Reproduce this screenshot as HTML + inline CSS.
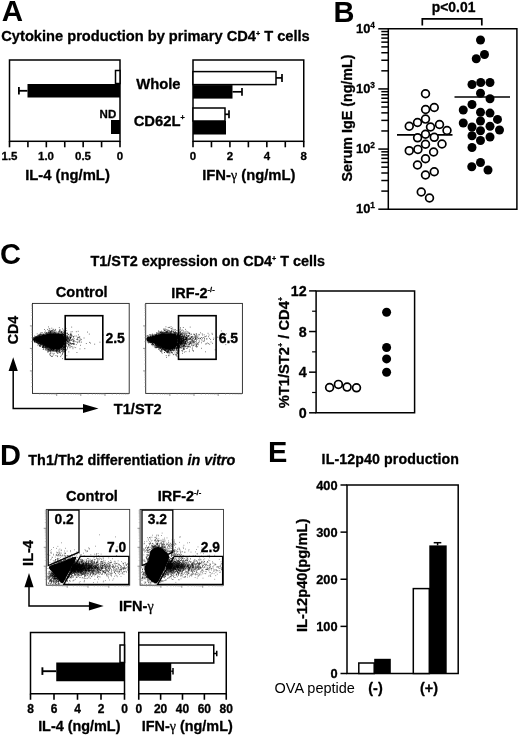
<!DOCTYPE html>
<html><head><meta charset="utf-8"><title>Figure</title>
<style>html,body{margin:0;padding:0;background:#fff}svg{display:block}text{font-family:"Liberation Sans",Arial,sans-serif;fill:#000;stroke:#000;stroke-width:.3px;stroke-linejoin:round}text.n{stroke:none}</style></head>
<body>
<svg width="520" height="738" viewBox="0 0 520 738">
<rect width="520" height="738" fill="#fff"/>
<text x="1.7" y="21.2" font-size="29.5" font-weight="bold" text-anchor="start" class="n">A</text>
<text x="1.3" y="41.3" font-size="14.65" font-weight="bold" text-anchor="start" >Cytokine production by primary CD4<tspan font-size="7.2" dy="-5.6">+</tspan><tspan dy="5.6" font-size="1">&#8203;</tspan><tspan> T cells</tspan></text>
<rect x="9.5" y="60" width="110.5" height="81.30000000000001" fill="none" stroke="#000" stroke-width="1.5"/>
<line x1="9.5" y1="141.3" x2="9.5" y2="147.3" stroke="#000" stroke-width="1.6" stroke-linecap="butt"/>
<line x1="27.916666666666668" y1="141.3" x2="27.916666666666668" y2="147.3" stroke="#000" stroke-width="1.6" stroke-linecap="butt"/>
<line x1="46.333333333333336" y1="141.3" x2="46.333333333333336" y2="147.3" stroke="#000" stroke-width="1.6" stroke-linecap="butt"/>
<line x1="64.75" y1="141.3" x2="64.75" y2="147.3" stroke="#000" stroke-width="1.6" stroke-linecap="butt"/>
<line x1="83.16666666666667" y1="141.3" x2="83.16666666666667" y2="147.3" stroke="#000" stroke-width="1.6" stroke-linecap="butt"/>
<line x1="101.58333333333333" y1="141.3" x2="101.58333333333333" y2="147.3" stroke="#000" stroke-width="1.6" stroke-linecap="butt"/>
<line x1="120.0" y1="141.3" x2="120.0" y2="147.3" stroke="#000" stroke-width="1.6" stroke-linecap="butt"/>
<rect x="115.5" y="70.5" width="4.5" height="13" fill="#fff" stroke="#000" stroke-width="1.5"/>
<rect x="27.5" y="84" width="92.5" height="13.5" fill="#000" stroke="#000" stroke-width="0"/>
<line x1="18.7" y1="90.8" x2="27.5" y2="90.8" stroke="#000" stroke-width="1.8" stroke-linecap="butt"/>
<line x1="18.9" y1="87" x2="18.9" y2="94.6" stroke="#000" stroke-width="1.8" stroke-linecap="butt"/>
<rect x="111" y="120" width="9" height="14" fill="#000" stroke="#000" stroke-width="0"/>
<text x="99.6" y="117.6" font-size="11.5" font-weight="bold" text-anchor="start" >ND</text>
<text x="9.5" y="160" font-size="11.5" font-weight="bold" text-anchor="middle" >1.5</text>
<text x="46" y="160" font-size="11.5" font-weight="bold" text-anchor="middle" >1.0</text>
<text x="83" y="160" font-size="11.5" font-weight="bold" text-anchor="middle" >0.5</text>
<text x="120" y="160" font-size="11.5" font-weight="bold" text-anchor="middle" >0</text>
<text x="67.5" y="180" font-size="14.8" font-weight="bold" text-anchor="middle" >IL-4 (ng/mL)</text>
<text x="136.2" y="88.8" font-size="14.8" font-weight="bold" text-anchor="start" >Whole</text>
<text x="133.7" y="125.5" font-size="14.8" font-weight="bold" text-anchor="start" >CD62L<tspan font-size="7.2" dy="-5.6">+</tspan><tspan dy="5.6" font-size="1">&#8203;</tspan></text>
<rect x="193" y="60" width="110.75" height="81.30000000000001" fill="none" stroke="#000" stroke-width="1.5"/>
<line x1="193.0" y1="141.3" x2="193.0" y2="147.3" stroke="#000" stroke-width="1.6" stroke-linecap="butt"/>
<line x1="211.45833333333334" y1="141.3" x2="211.45833333333334" y2="147.3" stroke="#000" stroke-width="1.6" stroke-linecap="butt"/>
<line x1="229.91666666666666" y1="141.3" x2="229.91666666666666" y2="147.3" stroke="#000" stroke-width="1.6" stroke-linecap="butt"/>
<line x1="248.375" y1="141.3" x2="248.375" y2="147.3" stroke="#000" stroke-width="1.6" stroke-linecap="butt"/>
<line x1="266.8333333333333" y1="141.3" x2="266.8333333333333" y2="147.3" stroke="#000" stroke-width="1.6" stroke-linecap="butt"/>
<line x1="285.2916666666667" y1="141.3" x2="285.2916666666667" y2="147.3" stroke="#000" stroke-width="1.6" stroke-linecap="butt"/>
<line x1="303.75" y1="141.3" x2="303.75" y2="147.3" stroke="#000" stroke-width="1.6" stroke-linecap="butt"/>
<rect x="193" y="71.6" width="83" height="13" fill="#fff" stroke="#000" stroke-width="1.5"/>
<line x1="276" y1="77.9" x2="282" y2="77.9" stroke="#000" stroke-width="1.7" stroke-linecap="butt"/>
<line x1="282" y1="73.9" x2="282" y2="81.9" stroke="#000" stroke-width="1.7" stroke-linecap="butt"/>
<rect x="193" y="85.1" width="39.5" height="13.5" fill="#000" stroke="#000" stroke-width="0"/>
<line x1="232.5" y1="91.8" x2="242" y2="91.8" stroke="#000" stroke-width="1.7" stroke-linecap="butt"/>
<line x1="242" y1="88" x2="242" y2="95.7" stroke="#000" stroke-width="1.7" stroke-linecap="butt"/>
<rect x="193" y="108" width="32" height="13" fill="#fff" stroke="#000" stroke-width="1.5"/>
<line x1="225" y1="114.3" x2="229" y2="114.3" stroke="#000" stroke-width="1.7" stroke-linecap="butt"/>
<line x1="229" y1="110.2" x2="229" y2="118.3" stroke="#000" stroke-width="1.7" stroke-linecap="butt"/>
<rect x="193" y="121" width="33" height="13.5" fill="#000" stroke="#000" stroke-width="0"/>
<text x="193" y="160" font-size="11.5" font-weight="bold" text-anchor="middle" >0</text>
<text x="230" y="160" font-size="11.5" font-weight="bold" text-anchor="middle" >2</text>
<text x="267" y="160" font-size="11.5" font-weight="bold" text-anchor="middle" >4</text>
<text x="303.75" y="160" font-size="11.5" font-weight="bold" text-anchor="middle" >8</text>
<text x="248.8" y="180" font-size="14.8" font-weight="bold" text-anchor="middle" >IFN-<tspan font-weight="normal" font-family="Liberation Serif, serif" font-size="14">γ</tspan> (ng/mL)</text>
<text x="333.5" y="21.8" font-size="29" font-weight="bold" text-anchor="start" class="n">B</text>
<text x="453.6" y="11.8" font-size="13.9" font-weight="bold" text-anchor="middle" >p&lt;0.01</text>
<path d="M422.3 25.6V18.8H481.8V25.6" fill="none" stroke="#000" stroke-width="1.7"/>
<path d="M388.3 28.8H516.9V209.2H388.3Z" fill="none" stroke="#000" stroke-width="1.5"/>
<line x1="378.3" y1="28.8" x2="388.3" y2="28.8" stroke="#000" stroke-width="1.5" stroke-linecap="butt"/>
<text x="356" y="32.6" font-size="12.9" font-weight="bold" text-anchor="start" >10<tspan font-size="8.3" dy="-4.8">4</tspan><tspan dy="4.8" font-size="1">&#8203;</tspan></text>
<line x1="381.3" y1="70.83139626073925" x2="388.3" y2="70.83139626073925" stroke="#000" stroke-width="1.5" stroke-linecap="butt"/>
<line x1="381.3" y1="60.242441882857634" x2="388.3" y2="60.242441882857634" stroke="#000" stroke-width="1.5" stroke-linecap="butt"/>
<line x1="381.3" y1="52.72945918814519" x2="388.3" y2="52.72945918814519" stroke="#000" stroke-width="1.5" stroke-linecap="butt"/>
<line x1="381.3" y1="46.901937072594066" x2="388.3" y2="46.901937072594066" stroke="#000" stroke-width="1.5" stroke-linecap="butt"/>
<line x1="381.3" y1="42.140504810263565" x2="388.3" y2="42.140504810263565" stroke="#000" stroke-width="1.5" stroke-linecap="butt"/>
<line x1="381.3" y1="38.11477119380936" x2="388.3" y2="38.11477119380936" stroke="#000" stroke-width="1.5" stroke-linecap="butt"/>
<line x1="381.3" y1="34.62752211555113" x2="388.3" y2="34.62752211555113" stroke="#000" stroke-width="1.5" stroke-linecap="butt"/>
<line x1="381.3" y1="31.55155043238193" x2="388.3" y2="31.55155043238193" stroke="#000" stroke-width="1.5" stroke-linecap="butt"/>
<line x1="378.3" y1="88.93333333333332" x2="388.3" y2="88.93333333333332" stroke="#000" stroke-width="1.5" stroke-linecap="butt"/>
<text x="356" y="92.73333333333332" font-size="12.9" font-weight="bold" text-anchor="start" >10<tspan font-size="8.3" dy="-4.8">3</tspan><tspan dy="4.8" font-size="1">&#8203;</tspan></text>
<line x1="381.3" y1="130.9647295940726" x2="388.3" y2="130.9647295940726" stroke="#000" stroke-width="1.5" stroke-linecap="butt"/>
<line x1="381.3" y1="120.37577521619096" x2="388.3" y2="120.37577521619096" stroke="#000" stroke-width="1.5" stroke-linecap="butt"/>
<line x1="381.3" y1="112.86279252147851" x2="388.3" y2="112.86279252147851" stroke="#000" stroke-width="1.5" stroke-linecap="butt"/>
<line x1="381.3" y1="107.03527040592739" x2="388.3" y2="107.03527040592739" stroke="#000" stroke-width="1.5" stroke-linecap="butt"/>
<line x1="381.3" y1="102.27383814359689" x2="388.3" y2="102.27383814359689" stroke="#000" stroke-width="1.5" stroke-linecap="butt"/>
<line x1="381.3" y1="98.24810452714269" x2="388.3" y2="98.24810452714269" stroke="#000" stroke-width="1.5" stroke-linecap="butt"/>
<line x1="381.3" y1="94.76085544888446" x2="388.3" y2="94.76085544888446" stroke="#000" stroke-width="1.5" stroke-linecap="butt"/>
<line x1="381.3" y1="91.68488376571526" x2="388.3" y2="91.68488376571526" stroke="#000" stroke-width="1.5" stroke-linecap="butt"/>
<line x1="378.3" y1="149.06666666666666" x2="388.3" y2="149.06666666666666" stroke="#000" stroke-width="1.5" stroke-linecap="butt"/>
<text x="356" y="152.86666666666667" font-size="12.9" font-weight="bold" text-anchor="start" >10<tspan font-size="8.3" dy="-4.8">2</tspan><tspan dy="4.8" font-size="1">&#8203;</tspan></text>
<line x1="381.3" y1="191.09806292740592" x2="388.3" y2="191.09806292740592" stroke="#000" stroke-width="1.5" stroke-linecap="butt"/>
<line x1="381.3" y1="180.50910854952429" x2="388.3" y2="180.50910854952429" stroke="#000" stroke-width="1.5" stroke-linecap="butt"/>
<line x1="381.3" y1="172.99612585481185" x2="388.3" y2="172.99612585481185" stroke="#000" stroke-width="1.5" stroke-linecap="butt"/>
<line x1="381.3" y1="167.16860373926073" x2="388.3" y2="167.16860373926073" stroke="#000" stroke-width="1.5" stroke-linecap="butt"/>
<line x1="381.3" y1="162.40717147693022" x2="388.3" y2="162.40717147693022" stroke="#000" stroke-width="1.5" stroke-linecap="butt"/>
<line x1="381.3" y1="158.381437860476" x2="388.3" y2="158.381437860476" stroke="#000" stroke-width="1.5" stroke-linecap="butt"/>
<line x1="381.3" y1="154.89418878221778" x2="388.3" y2="154.89418878221778" stroke="#000" stroke-width="1.5" stroke-linecap="butt"/>
<line x1="381.3" y1="151.81821709904858" x2="388.3" y2="151.81821709904858" stroke="#000" stroke-width="1.5" stroke-linecap="butt"/>
<line x1="378.3" y1="209.2" x2="388.3" y2="209.2" stroke="#000" stroke-width="1.5" stroke-linecap="butt"/>
<text x="356" y="213.0" font-size="12.9" font-weight="bold" text-anchor="start" >10<tspan font-size="8.3" dy="-4.8">1</tspan><tspan dy="4.8" font-size="1">&#8203;</tspan></text>
<text transform="translate(351.9,118) rotate(-90)" font-size="14.3" font-weight="bold" text-anchor="middle">Serum IgE (ng/mL)</text>
<line x1="397" y1="134.9" x2="452.5" y2="134.9" stroke="#000" stroke-width="1.6" stroke-linecap="butt"/>
<line x1="454.5" y1="97" x2="510" y2="97" stroke="#000" stroke-width="1.6" stroke-linecap="butt"/>
<circle cx="425.5" cy="93.75" r="3.9" fill="#fff" stroke="#000" stroke-width="1.7"/>
<circle cx="434.25" cy="107.5" r="3.9" fill="#fff" stroke="#000" stroke-width="1.7"/>
<circle cx="425.6" cy="109.5" r="3.9" fill="#fff" stroke="#000" stroke-width="1.7"/>
<circle cx="425.5" cy="119.1" r="3.9" fill="#fff" stroke="#000" stroke-width="1.7"/>
<circle cx="417.5" cy="122.5" r="3.9" fill="#fff" stroke="#000" stroke-width="1.7"/>
<circle cx="409.25" cy="126.25" r="3.9" fill="#fff" stroke="#000" stroke-width="1.7"/>
<circle cx="439.5" cy="124.5" r="3.9" fill="#fff" stroke="#000" stroke-width="1.7"/>
<circle cx="430.5" cy="127" r="3.9" fill="#fff" stroke="#000" stroke-width="1.7"/>
<circle cx="447" cy="130.5" r="3.9" fill="#fff" stroke="#000" stroke-width="1.7"/>
<circle cx="425.5" cy="134.25" r="3.9" fill="#fff" stroke="#000" stroke-width="1.7"/>
<circle cx="417.6" cy="137.8" r="3.9" fill="#fff" stroke="#000" stroke-width="1.7"/>
<circle cx="434.25" cy="137.3" r="3.9" fill="#fff" stroke="#000" stroke-width="1.7"/>
<circle cx="425.5" cy="144.25" r="3.9" fill="#fff" stroke="#000" stroke-width="1.7"/>
<circle cx="442" cy="144" r="3.9" fill="#fff" stroke="#000" stroke-width="1.7"/>
<circle cx="417.9" cy="149.4" r="3.9" fill="#fff" stroke="#000" stroke-width="1.7"/>
<circle cx="409.25" cy="150.7" r="3.9" fill="#fff" stroke="#000" stroke-width="1.7"/>
<circle cx="433.6" cy="152" r="3.9" fill="#fff" stroke="#000" stroke-width="1.7"/>
<circle cx="425.5" cy="158.75" r="3.9" fill="#fff" stroke="#000" stroke-width="1.7"/>
<circle cx="417.5" cy="165" r="3.9" fill="#fff" stroke="#000" stroke-width="1.7"/>
<circle cx="434.25" cy="171.75" r="3.9" fill="#fff" stroke="#000" stroke-width="1.7"/>
<circle cx="425.5" cy="175" r="3.9" fill="#fff" stroke="#000" stroke-width="1.7"/>
<circle cx="421.25" cy="192" r="3.9" fill="#fff" stroke="#000" stroke-width="1.7"/>
<circle cx="429.5" cy="198" r="3.9" fill="#fff" stroke="#000" stroke-width="1.7"/>
<circle cx="480.5" cy="40" r="4.5" fill="#000"/>
<circle cx="484.5" cy="54.5" r="4.5" fill="#000"/>
<circle cx="476.25" cy="58.8" r="4.5" fill="#000"/>
<circle cx="472" cy="84.5" r="4.5" fill="#000"/>
<circle cx="480.75" cy="82.5" r="4.5" fill="#000"/>
<circle cx="490" cy="82.5" r="4.5" fill="#000"/>
<circle cx="480.5" cy="93.25" r="4.5" fill="#000"/>
<circle cx="490" cy="98.75" r="4.5" fill="#000"/>
<circle cx="472" cy="104.5" r="4.5" fill="#000"/>
<circle cx="463.25" cy="110" r="4.5" fill="#000"/>
<circle cx="480.5" cy="112.3" r="4.5" fill="#000"/>
<circle cx="490" cy="113.1" r="4.5" fill="#000"/>
<circle cx="497.5" cy="119.4" r="4.5" fill="#000"/>
<circle cx="480.5" cy="121" r="4.5" fill="#000"/>
<circle cx="463.25" cy="123" r="4.5" fill="#000"/>
<circle cx="472" cy="127" r="4.5" fill="#000"/>
<circle cx="490" cy="126.25" r="4.5" fill="#000"/>
<circle cx="499.5" cy="130" r="4.5" fill="#000"/>
<circle cx="480.5" cy="130.75" r="4.5" fill="#000"/>
<circle cx="472" cy="135.75" r="4.5" fill="#000"/>
<circle cx="490" cy="137" r="4.5" fill="#000"/>
<circle cx="480.5" cy="140.5" r="4.5" fill="#000"/>
<circle cx="472" cy="147.5" r="4.5" fill="#000"/>
<circle cx="480.5" cy="162.5" r="4.5" fill="#000"/>
<circle cx="471.75" cy="166.75" r="4.5" fill="#000"/>
<circle cx="488" cy="170" r="4.5" fill="#000"/>
<text x="0" y="263.6" font-size="29" font-weight="bold" text-anchor="start" class="n">C</text>
<text x="90.5" y="266.3" font-size="14.4" font-weight="bold" text-anchor="start" >T1/ST2 expression on CD4<tspan font-size="7.2" dy="-5.6">+</tspan><tspan dy="5.6" font-size="1">&#8203;</tspan><tspan> T cells</tspan></text>
<text x="81.75" y="297.4" font-size="14.6" font-weight="bold" text-anchor="middle" >Control</text>
<text x="171.3" y="297.8" font-size="14.5" font-weight="bold" text-anchor="start" >IRF-2<tspan font-size="7.5" dy="-6">-/-</tspan><tspan dy="6" font-size="1">&#8203;</tspan></text>
<defs><clipPath id="c1"><rect x="33" y="304" width="96" height="89.5"/></clipPath><clipPath id="c2"><rect x="146" y="304" width="96" height="89.5"/></clipPath><clipPath id="d1"><rect x="47" y="510" width="82.5" height="75"/></clipPath><clipPath id="d2"><rect x="141" y="510" width="82" height="75"/></clipPath></defs>
<rect x="32.5" y="303.4" width="96.7" height="90" fill="none" stroke="#222" stroke-width="0.9"/>
<path d="M31.0 386.6h1.5M39.8 393.4v1.5M31.0 382.7h1.5M44.0 393.4v1.5M31.0 379.9h1.5M47.1 393.4v1.5M31.0 377.7h1.5M49.4 393.4v1.5M31.0 375.9h1.5M51.3 393.4v1.5M31.0 374.4h1.5M52.9 393.4v1.5M31.0 373.1h1.5M54.3 393.4v1.5M31.0 371.9h1.5M55.6 393.4v1.5M31.0 364.1h1.5M64.0 393.4v1.5M31.0 360.2h1.5M68.2 393.4v1.5M31.0 357.4h1.5M71.2 393.4v1.5M31.0 355.2h1.5M73.6 393.4v1.5M31.0 353.4h1.5M75.5 393.4v1.5M31.0 351.9h1.5M77.1 393.4v1.5M31.0 350.6h1.5M78.5 393.4v1.5M31.0 349.4h1.5M79.7 393.4v1.5M31.0 341.6h1.5M88.1 393.4v1.5M31.0 337.7h1.5M92.4 393.4v1.5M31.0 334.9h1.5M95.4 393.4v1.5M31.0 332.7h1.5M97.7 393.4v1.5M31.0 330.9h1.5M99.7 393.4v1.5M31.0 329.4h1.5M101.3 393.4v1.5M31.0 328.1h1.5M102.7 393.4v1.5M31.0 326.9h1.5M103.9 393.4v1.5M31.0 319.1h1.5M112.3 393.4v1.5M31.0 315.2h1.5M116.6 393.4v1.5M31.0 312.4h1.5M119.6 393.4v1.5M31.0 310.2h1.5M121.9 393.4v1.5M31.0 308.4h1.5M123.8 393.4v1.5M31.0 306.9h1.5M125.5 393.4v1.5M31.0 305.6h1.5M126.9 393.4v1.5M31.0 304.4h1.5M128.1 393.4v1.5" stroke="#9a9a9a" stroke-width="0.5" fill="none"/>
<path d="M29.9 370.9h2.6M56.7 393.4v2.6M29.9 348.4h2.6M80.8 393.4v2.6M29.9 325.9h2.6M105.0 393.4v2.6" stroke="#666" stroke-width="0.7" fill="none"/>
<path d="M36.3 336.6h0.7M45.5 346.9h0.7M33.4 338.8h0.7M64.5 343.3h0.7M63.1 332.6h0.7M64.5 344.3h0.7M34.4 336.0h0.7M55.8 350.2h0.7M55.7 331.5h0.7M42.4 346.2h0.7M33.5 339.5h0.7M63.7 346.7h0.7M53.4 350.6h0.7M67.7 346.6h0.7M65.3 331.7h0.7M58.4 352.9h0.7M63.6 348.7h0.7M64.9 339.4h0.7M50.1 353.1h0.7M34.0 340.1h0.7M49.0 331.9h0.7M35.7 340.9h0.7M48.8 328.7h0.7M64.6 347.4h0.7M51.2 349.5h0.7M41.7 333.1h0.7M42.1 344.8h0.7M53.8 353.4h0.7M63.4 334.3h0.7M68.0 344.0h0.7M48.6 333.9h0.7M49.1 331.0h0.7M63.8 332.3h0.7M34.3 341.3h0.7M59.6 350.7h0.7M39.7 344.8h0.7M47.1 347.0h0.7M45.7 348.5h0.7M55.2 351.3h0.7M47.4 351.1h0.7M66.6 338.0h0.7M64.3 341.0h0.7M52.0 330.7h0.7M41.3 335.0h0.7M45.3 349.0h0.7M40.4 334.9h0.7M57.1 353.5h0.7M40.4 345.8h0.7M41.1 344.0h0.7M37.4 342.7h0.7M51.2 332.0h0.7M50.4 348.6h0.7M66.6 341.9h0.7M37.1 336.4h0.7M61.0 331.4h0.7M39.9 346.0h0.7M33.6 339.6h0.7M40.6 343.6h0.7M62.3 333.3h0.7M50.5 349.3h0.7M43.6 347.8h0.7M66.6 349.4h0.7M48.5 332.6h0.7M39.9 343.8h0.7M64.2 341.4h0.7M49.0 354.0h0.7M44.3 345.7h0.7M50.1 331.5h0.7M62.9 334.4h0.7M33.3 339.6h0.7M50.7 330.7h0.7M52.8 351.5h0.7M38.8 334.7h0.7M45.8 334.2h0.7M49.4 347.8h0.7M55.7 350.2h0.7M53.4 329.3h0.7M41.8 344.6h0.7M50.1 352.0h0.7M63.1 349.8h0.7M37.9 342.6h0.7M61.2 348.9h0.7M46.5 334.1h0.7M50.5 331.9h0.7M48.3 333.0h0.7M42.1 334.5h0.7M64.8 339.6h0.7M63.5 347.7h0.7M40.8 344.1h0.7M38.1 343.3h0.7M60.7 333.1h0.7M64.0 339.7h0.7M62.7 349.7h0.7M64.0 336.8h0.7M62.7 347.4h0.7M50.3 332.0h0.7M39.7 343.6h0.7M38.3 336.1h0.7M33.7 337.7h0.7M48.0 347.5h0.7M48.7 347.7h0.7M65.3 340.6h0.7M40.3 343.6h0.7M68.9 337.7h0.7M51.1 349.1h0.7M63.3 349.2h0.7M50.9 356.4h0.7M51.8 350.7h0.7M66.0 339.2h0.7M46.3 347.7h0.7M64.4 339.9h0.7M64.1 351.6h0.7M39.9 344.1h0.7M37.7 336.3h0.7M52.2 331.1h0.7M56.1 350.0h0.7M52.8 349.5h0.7M62.7 348.9h0.7M43.4 346.6h0.7M67.9 340.2h0.7M57.5 332.6h0.7M72.3 343.5h0.7M58.1 349.5h0.7M68.4 345.1h0.7M34.5 341.2h0.7M51.4 349.3h0.7M58.3 333.0h0.7M63.7 346.1h0.7M40.7 344.2h0.7M39.6 334.0h0.7M33.6 338.3h0.7M34.5 337.9h0.7M49.9 332.8h0.7M47.3 346.9h0.7M44.1 329.5h0.7M35.6 337.5h0.7M58.4 350.0h0.7M34.2 342.4h0.7M57.7 349.6h0.7M54.3 350.6h0.7M57.9 331.8h0.7M54.2 349.7h0.7M69.2 339.7h0.7M63.5 347.6h0.7M35.3 341.9h0.7M57.3 352.4h0.7M49.5 348.7h0.7M59.3 349.6h0.7M64.6 337.5h0.7M64.8 335.7h0.7M64.7 341.4h0.7M63.7 346.8h0.7M56.4 351.4h0.7M51.2 333.2h0.7M64.0 338.8h0.7M50.3 333.1h0.7M64.6 344.0h0.7M64.1 340.5h0.7M45.8 347.9h0.7M43.2 345.3h0.7M53.2 333.3h0.7M56.4 349.3h0.7M63.3 347.5h0.7M34.5 340.4h0.7M65.2 341.5h0.7M39.9 343.3h0.7M62.8 347.7h0.7M70.9 339.9h0.7M59.5 350.3h0.7M62.3 351.7h0.7M47.1 346.8h0.7M34.6 340.5h0.7M62.0 348.5h0.7M61.0 349.0h0.7M37.2 342.0h0.7M34.0 340.9h0.7M46.3 346.4h0.7M63.7 333.5h0.7M58.2 333.1h0.7M44.6 345.6h0.7M55.0 329.4h0.7M42.8 346.2h0.7M36.8 341.6h0.7M34.5 340.8h0.7M42.8 349.5h0.7M61.4 349.2h0.7M51.7 333.3h0.7M54.8 332.9h0.7M58.9 349.9h0.7M64.0 338.2h0.7M56.6 350.8h0.7M48.5 347.5h0.7M47.3 348.9h0.7M57.6 351.7h0.7M35.5 337.3h0.7M41.9 347.1h0.7M66.4 341.7h0.7M64.4 349.7h0.7M52.6 329.6h0.7M52.4 350.2h0.7M33.5 338.0h0.7M60.1 352.9h0.7M43.6 334.1h0.7M55.4 333.3h0.7M39.9 343.4h0.7M41.5 344.1h0.7M57.4 350.0h0.7M60.9 355.2h0.7M50.6 351.3h0.7M64.5 344.1h0.7M59.2 329.7h0.7M78.1 334.8h0.7M61.5 334.0h0.7M46.6 348.5h0.7M36.5 341.8h0.7M52.0 349.0h0.7M39.5 345.5h0.7M61.5 332.4h0.7M64.1 347.0h0.7M49.7 348.1h0.7M48.5 351.4h0.7M51.5 328.2h0.7M61.3 351.4h0.7M36.7 342.4h0.7M51.6 332.2h0.7M66.0 350.1h0.7M64.4 340.8h0.7M34.6 341.6h0.7M57.1 351.1h0.7M38.4 343.4h0.7M38.6 343.8h0.7M37.0 335.9h0.7M38.2 335.4h0.7M59.0 349.7h0.7M62.3 349.4h0.7M64.0 339.5h0.7M48.1 350.1h0.7M59.2 330.9h0.7M38.9 345.5h0.7M44.2 332.3h0.7M51.2 330.7h0.7M64.1 338.2h0.7M64.6 336.9h0.7M50.3 333.3h0.7M58.1 351.5h0.7M63.9 349.4h0.7M53.4 354.9h0.7M38.5 336.2h0.7M55.8 332.5h0.7M46.4 332.9h0.7M35.5 341.9h0.7M35.6 336.6h0.7M34.4 341.4h0.7M70.1 338.0h0.7M63.8 336.6h0.7M65.7 343.9h0.7M54.7 350.5h0.7M53.1 349.6h0.7M33.6 339.6h0.7M64.1 343.8h0.7M67.3 333.3h0.7M60.1 349.6h0.7M49.5 351.1h0.7M64.6 342.1h0.7M58.7 331.5h0.7M50.4 332.7h0.7M38.4 343.1h0.7M35.7 337.5h0.7M55.1 350.0h0.7M62.1 358.6h0.7M35.1 337.9h0.7M34.1 340.4h0.7M48.2 349.7h0.7M58.7 350.6h0.7M63.9 344.3h0.7M50.9 349.9h0.7M45.1 331.0h0.7M59.3 351.3h0.7M53.6 349.7h0.7M53.8 349.3h0.7M64.7 347.5h0.7M51.1 350.0h0.7M58.6 351.1h0.7M53.9 351.5h0.7M46.3 346.5h0.7M56.1 351.3h0.7M64.4 345.2h0.7M52.6 353.7h0.7M50.4 332.1h0.7M52.5 350.6h0.7M67.0 341.3h0.7M65.7 337.8h0.7M56.2 349.6h0.7M37.4 335.7h0.7M33.4 337.5h0.7M67.0 336.0h0.7M68.5 351.9h0.7M42.7 346.1h0.7M64.6 343.2h0.7M64.2 342.0h0.7M46.4 332.6h0.7M65.5 340.2h0.7M40.7 334.4h0.7M35.5 342.6h0.7M40.1 335.3h0.7M46.7 333.9h0.7M64.6 348.0h0.7M42.4 347.3h0.7M44.9 333.7h0.7M63.4 334.9h0.7M37.6 342.9h0.7M62.2 354.4h0.7M36.2 341.3h0.7M64.0 343.8h0.7M48.7 333.3h0.7M61.3 349.7h0.7M36.1 342.6h0.7M63.9 331.6h0.7M47.5 333.6h0.7M61.8 348.0h0.7M39.6 346.4h0.7M51.5 331.0h0.7M63.8 330.6h0.7M79.0 337.6h0.7M52.8 349.2h0.7M52.4 350.1h0.7M43.7 345.1h0.7M40.5 332.8h0.7M64.1 333.5h0.7M71.8 339.3h0.7M38.7 334.7h0.7M39.9 343.7h0.7M48.8 333.1h0.7M64.8 337.4h0.7M64.2 340.5h0.7M51.6 351.9h0.7M53.1 349.5h0.7M40.2 334.5h0.7M47.0 333.2h0.7M62.0 334.3h0.7M42.0 347.3h0.7M47.6 349.8h0.7M62.8 334.1h0.7M64.7 336.9h0.7M46.9 347.6h0.7M39.1 343.1h0.7M56.1 350.6h0.7M43.3 345.7h0.7M53.2 349.6h0.7M64.7 340.0h0.7M59.2 352.0h0.7M39.5 335.5h0.7M47.9 349.9h0.7M66.6 336.6h0.7M47.5 349.9h0.7M51.0 333.1h0.7M51.7 348.6h0.7M56.1 352.6h0.7M62.9 350.0h0.7M46.8 348.2h0.7M41.2 334.4h0.7M46.9 346.8h0.7M51.3 349.0h0.7M55.0 332.9h0.7M56.4 351.5h0.7M65.1 348.0h0.7M44.2 347.4h0.7M64.2 338.7h0.7M76.6 352.5h0.7M60.4 356.6h0.7M59.8 352.4h0.7M37.3 342.9h0.7M35.0 340.5h0.7M49.9 350.5h0.7M63.8 348.7h0.7M38.6 336.2h0.7M64.7 334.7h0.7M42.7 345.2h0.7M65.2 343.4h0.7M51.9 356.2h0.7M52.7 332.2h0.7M63.2 334.2h0.7M71.5 344.4h0.7M48.1 330.7h0.7M45.4 332.7h0.7M66.5 339.5h0.7M64.7 339.7h0.7M64.6 343.1h0.7M45.8 346.9h0.7M39.0 343.0h0.7M38.9 343.0h0.7M43.5 345.7h0.7M63.5 334.4h0.7M48.4 348.1h0.7M40.7 344.4h0.7M48.5 347.8h0.7M47.9 348.9h0.7M36.7 342.3h0.7M61.0 332.0h0.7M55.4 350.2h0.7M40.0 333.9h0.7M39.6 343.1h0.7M56.8 349.3h0.7M34.7 338.0h0.7M61.6 351.1h0.7M64.5 344.2h0.7M65.3 341.2h0.7M64.8 340.6h0.7M53.6 350.3h0.7M47.2 346.9h0.7M49.2 350.0h0.7M44.9 347.9h0.7M43.4 345.2h0.7M43.4 346.2h0.7M33.4 340.7h0.7M38.5 344.4h0.7M64.0 335.4h0.7M59.5 351.8h0.7M62.3 333.6h0.7M53.1 349.5h0.7M43.0 347.6h0.7M52.7 349.1h0.7M49.1 332.6h0.7M51.7 356.4h0.7M62.5 350.5h0.7M65.1 341.5h0.7M34.4 338.1h0.7M46.9 346.8h0.7M56.4 350.8h0.7M53.2 350.6h0.7M53.2 349.7h0.7M63.1 335.0h0.7M39.1 335.3h0.7M43.6 347.8h0.7M41.3 344.4h0.7M64.6 343.4h0.7M60.1 330.0h0.7M45.3 347.1h0.7M67.9 338.0h0.7M36.8 341.6h0.7M59.4 352.6h0.7M57.6 350.2h0.7M47.7 334.0h0.7M46.5 350.1h0.7M55.4 330.1h0.7M63.8 347.4h0.7M47.0 346.9h0.7M58.5 349.9h0.7M64.3 335.6h0.7M49.5 329.0h0.7M49.4 330.4h0.7M48.3 332.8h0.7M41.7 345.6h0.7M38.9 343.9h0.7M62.9 348.0h0.7M55.6 355.6h0.7M62.2 348.9h0.7M50.9 349.7h0.7M63.5 334.6h0.7M59.0 332.1h0.7M60.7 332.6h0.7M65.3 333.4h0.7M50.2 349.2h0.7M43.5 346.3h0.7M61.9 350.5h0.7M70.8 340.4h0.7M46.0 333.7h0.7M45.1 347.0h0.7M43.1 349.0h0.7M56.1 349.7h0.7M68.6 342.6h0.7M64.5 346.4h0.7M40.4 344.3h0.7M39.8 344.9h0.7M38.9 345.5h0.7M47.2 329.6h0.7M52.8 330.6h0.7M33.9 341.2h0.7M48.4 349.8h0.7M36.0 342.0h0.7M64.2 336.6h0.7M64.4 332.4h0.7M50.8 348.7h0.7M66.3 345.1h0.7M59.7 350.9h0.7M36.0 336.3h0.7M36.8 333.9h0.7M50.5 353.6h0.7M51.4 349.7h0.7M64.3 341.2h0.7M51.1 350.2h0.7M39.2 342.8h0.7M57.0 350.5h0.7M54.0 332.5h0.7M42.5 334.3h0.7M50.9 348.4h0.7M63.6 349.7h0.7M48.3 351.9h0.7M49.8 348.9h0.7M33.4 339.3h0.7M45.0 346.9h0.7M80.3 345.3h0.7M49.6 349.6h0.7M44.3 347.1h0.7M54.2 330.4h0.7M48.6 349.1h0.7M64.2 350.0h0.7M43.4 345.9h0.7M63.1 348.3h0.7M54.2 332.8h0.7M73.7 338.6h0.7M45.6 347.4h0.7M69.4 337.0h0.7M51.6 331.1h0.7M56.6 350.7h0.7M57.2 349.6h0.7M49.6 348.3h0.7M62.7 331.2h0.7M33.5 338.4h0.7M42.3 347.5h0.7M53.4 332.8h0.7M52.7 349.9h0.7M36.3 341.6h0.7M71.3 335.2h0.7M42.7 345.1h0.7M53.8 332.7h0.7M35.2 336.6h0.7M49.8 330.9h0.7M59.9 349.2h0.7M63.6 330.0h0.7M46.9 348.0h0.7M62.9 352.1h0.7M44.8 346.3h0.7M38.5 335.4h0.7M50.3 350.1h0.7M51.0 350.0h0.7M47.9 331.9h0.7M64.7 339.4h0.7M61.5 349.3h0.7M66.5 355.7h0.7M33.9 341.2h0.7M34.3 337.1h0.7M35.9 336.6h0.7M38.4 342.8h0.7M61.5 348.1h0.7M64.3 340.3h0.7M66.2 340.4h0.7M63.5 346.6h0.7M61.6 333.5h0.7M39.5 335.7h0.7M45.8 346.3h0.7M62.8 351.7h0.7M54.7 330.8h0.7M49.4 348.0h0.7M48.7 350.9h0.7M56.9 355.9h0.7M69.2 336.0h0.7M53.0 331.6h0.7M62.2 353.2h0.7M49.8 349.1h0.7M40.8 345.2h0.7M45.1 346.9h0.7M69.9 333.7h0.7M52.1 349.0h0.7M44.8 349.7h0.7M48.5 332.1h0.7M43.8 346.2h0.7M63.8 351.1h0.7M34.9 337.9h0.7M47.3 346.9h0.7M37.4 345.1h0.7M52.6 333.0h0.7M64.1 349.4h0.7M37.4 341.9h0.7M74.0 344.3h0.7M64.2 339.2h0.7M65.5 337.9h0.7M43.4 334.5h0.7M36.3 342.4h0.7M42.9 334.9h0.7M50.2 333.6h0.7M48.1 326.9h0.7M43.7 345.6h0.7M57.0 356.6h0.7M46.1 346.3h0.7M33.6 340.5h0.7M50.1 355.4h0.7M43.6 345.2h0.7M37.7 342.6h0.7M50.1 331.7h0.7M45.7 347.7h0.7M58.9 327.6h0.7M42.1 344.4h0.7M63.4 346.9h0.7M50.0 350.9h0.7M49.0 333.5h0.7M66.1 337.8h0.7M44.9 333.7h0.7M45.6 350.1h0.7M45.4 347.0h0.7M64.3 340.4h0.7M55.5 351.1h0.7M41.8 344.1h0.7M63.6 351.8h0.7M42.5 346.3h0.7M37.2 336.8h0.7M39.3 335.2h0.7M63.0 349.7h0.7M43.7 334.5h0.7M36.9 343.5h0.7M45.9 349.3h0.7M62.3 328.9h0.7M63.7 334.4h0.7M64.1 339.5h0.7M64.3 346.5h0.7M41.7 332.5h0.7M46.0 347.7h0.7M68.5 334.6h0.7M61.1 332.2h0.7M49.5 333.0h0.7M49.7 354.9h0.7M46.2 333.1h0.7M58.9 330.7h0.7M53.7 333.2h0.7M49.6 350.7h0.7M42.7 347.2h0.7M39.5 343.0h0.7M43.0 334.9h0.7M35.4 341.2h0.7M33.6 339.3h0.7M59.0 350.1h0.7M63.8 332.6h0.7M49.8 348.4h0.7M46.8 332.9h0.7M33.5 339.7h0.7M40.5 346.0h0.7M59.9 332.0h0.7M64.4 337.6h0.7M64.1 338.8h0.7M39.6 346.5h0.7M34.7 341.5h0.7M69.6 344.4h0.7M57.5 349.7h0.7M66.2 342.0h0.7M63.9 345.0h0.7M49.8 348.2h0.7M49.3 350.1h0.7M64.0 345.2h0.7M43.5 333.9h0.7M46.9 349.8h0.7M47.9 348.5h0.7M61.0 332.1h0.7M34.2 340.1h0.7M43.6 346.6h0.7M51.9 332.5h0.7M50.0 332.2h0.7M64.2 335.4h0.7M64.8 349.4h0.7M47.3 352.0h0.7M52.3 350.7h0.7M65.3 336.7h0.7M55.6 332.8h0.7M51.8 348.9h0.7M45.0 346.1h0.7M36.7 341.8h0.7M43.3 347.7h0.7M62.1 332.1h0.7M38.2 343.9h0.7M54.2 331.7h0.7M48.7 349.6h0.7M50.1 350.9h0.7M64.0 347.4h0.7M66.0 340.1h0.7M64.2 331.5h0.7M59.6 332.1h0.7M63.4 346.2h0.7M62.4 353.2h0.7M59.8 331.1h0.7M89.1 342.4h0.7M79.5 342.2h0.7M63.8 336.1h0.7M70.3 342.4h0.7M72.7 343.7h0.7M64.0 339.4h0.7M65.0 343.4h0.7M69.3 340.1h0.7M77.0 342.8h0.7M76.7 342.0h0.7M68.8 338.7h0.7M65.0 338.9h0.7M67.7 339.0h0.7M73.7 343.5h0.7M66.7 340.1h0.7M69.1 339.4h0.7M66.9 333.5h0.7M66.0 336.7h0.7M79.4 336.6h0.7M68.0 334.5h0.7M67.5 336.7h0.7M67.6 337.0h0.7M102.7 335.0h0.7M65.7 328.4h0.7M73.6 340.4h0.7M68.3 339.1h0.7M66.7 342.5h0.7M66.8 337.0h0.7M67.4 341.4h0.7M68.6 345.1h0.7M70.9 343.8h0.7M64.8 340.0h0.7M67.3 341.2h0.7M70.2 335.1h0.7M69.1 343.0h0.7M63.8 344.8h0.7M79.0 341.7h0.7M70.8 336.9h0.7M64.3 341.1h0.7M69.7 340.4h0.7M64.0 335.7h0.7M65.4 338.0h0.7M66.6 332.9h0.7M76.6 339.3h0.7M64.9 340.6h0.7M76.7 339.5h0.7M65.5 338.2h0.7M66.5 339.0h0.7M78.8 340.1h0.7M68.0 339.9h0.7M68.6 341.1h0.7M79.7 338.3h0.7M75.9 331.7h0.7M70.1 343.5h0.7M68.7 341.3h0.7M66.7 340.3h0.7M75.5 341.6h0.7M70.1 338.5h0.7M75.9 344.6h0.7M64.4 337.8h0.7M77.6 337.7h0.7M73.2 344.0h0.7M67.8 338.6h0.7M65.8 333.7h0.7M84.5 348.6h0.7M94.4 344.2h0.7M70.0 337.3h0.7M77.8 331.3h0.7M73.1 344.1h0.7M65.5 335.8h0.7M64.6 345.1h0.7M65.3 340.7h0.7M77.8 341.9h0.7M99.6 342.2h0.7M71.7 335.4h0.7M70.5 335.1h0.7M64.3 341.9h0.7M65.2 337.8h0.7M70.0 343.4h0.7M65.2 340.7h0.7M72.6 348.7h0.7M79.6 340.5h0.7M67.5 337.2h0.7M74.3 341.1h0.7M67.5 337.1h0.7M68.8 343.2h0.7M71.6 340.2h0.7M70.1 334.7h0.7M68.0 341.8h0.7M66.0 346.1h0.7M72.4 343.6h0.7M66.9 341.0h0.7M70.6 332.0h0.7M73.4 341.2h0.7M80.6 339.7h0.7M67.1 341.2h0.7M64.1 333.1h0.7M68.8 345.9h0.7M66.0 343.7h0.7M66.3 338.9h0.7M69.6 347.8h0.7M65.6 339.8h0.7M73.2 337.3h0.7M69.1 340.6h0.7M88.9 334.1h0.7M70.6 334.4h0.7M68.5 341.3h0.7M65.5 337.3h0.7M73.7 347.2h0.7M83.7 338.0h0.7M66.5 335.3h0.7M70.8 333.9h0.7M71.8 331.7h0.7M66.4 339.8h0.7M72.6 341.3h0.7M66.8 338.9h0.7M67.6 340.9h0.7M77.2 338.8h0.7M72.0 347.0h0.7M70.0 337.3h0.7M70.2 338.2h0.7M68.8 345.1h0.7M66.1 338.9h0.7M77.7 337.2h0.7M69.8 337.2h0.7M64.5 343.4h0.7M67.2 348.3h0.7M73.2 341.1h0.7M65.1 344.7h0.7M73.2 336.5h0.7M66.4 337.5h0.7M64.9 341.6h0.7M65.7 346.4h0.7M64.2 336.4h0.7M90.1 343.1h0.7M66.4 330.6h0.7M71.2 346.6h0.7M67.2 337.5h0.7M64.5 341.8h0.7M67.3 338.7h0.7M67.4 338.4h0.7M64.6 336.8h0.7M70.1 337.6h0.7M72.7 336.5h0.7M64.9 334.4h0.7M64.4 334.6h0.7M85.9 343.5h0.7M68.1 337.9h0.7M70.2 338.0h0.7M71.2 343.6h0.7M67.5 334.9h0.7M64.2 342.1h0.7M67.3 339.3h0.7M68.0 342.5h0.7M70.8 335.0h0.7M70.1 339.2h0.7M66.8 343.0h0.7M68.5 338.6h0.7M66.6 336.0h0.7M66.0 340.3h0.7M75.4 347.6h0.7M65.5 335.6h0.7M64.3 338.1h0.7M71.4 327.1h0.7M77.9 337.4h0.7M77.5 339.8h0.7M73.5 342.1h0.7M64.2 339.0h0.7M70.8 337.5h0.7M63.8 347.4h0.7M67.8 344.5h0.7M67.1 347.4h0.7M65.0 338.7h0.7M70.8 336.4h0.7M65.8 343.2h0.7M65.0 338.9h0.7M64.8 343.2h0.7M75.9 336.0h0.7M73.5 343.8h0.7M70.3 345.9h0.7M79.6 348.9h0.7M74.5 336.1h0.7M69.7 347.1h0.7M63.7 335.2h0.7M68.2 344.6h0.7M81.2 342.1h0.7M87.1 332.1h0.7M66.0 340.3h0.7M73.1 339.8h0.7M64.1 335.4h0.7M69.6 340.7h0.7M65.2 337.0h0.7M72.3 339.2h0.7M65.7 339.9h0.7M80.8 339.4h0.7M67.1 343.5h0.7" stroke="#000" stroke-width="0.7" fill="none" clip-path="url(#c1)"/>
<path d="M33.3 338.9C33.6 338.1 35.9 337.3 37.7 336.6C39.5 335.9 41.5 335.2 44.0 334.6C46.5 334.1 49.8 333.5 52.5 333.3C55.2 333.1 58.6 333.1 60.5 333.5C62.4 333.9 63.1 334.1 63.7 335.5C64.3 336.9 64.3 340.1 64.2 342.0C64.1 343.9 64.1 345.6 63.3 346.8C62.5 348.0 61.0 348.8 59.5 349.2C58.0 349.6 55.8 349.7 54.0 349.4C52.2 349.1 50.5 348.3 48.5 347.4C46.5 346.5 44.1 345.2 42.0 344.2C39.9 343.1 37.5 342.0 36.0 341.1C34.5 340.2 33.0 339.6 33.3 338.9Z" fill="#000"/>
<rect x="65.2" y="315.7" width="37.6" height="43.6" fill="none" stroke="#000" stroke-width="1.6"/>
<text x="105.4" y="343.4" font-size="14" font-weight="bold" text-anchor="start" >2.5</text>
<rect x="145.7" y="303.4" width="96.7" height="90" fill="none" stroke="#222" stroke-width="0.9"/>
<path d="M144.2 386.6h1.5M153.0 393.4v1.5M144.2 382.7h1.5M157.2 393.4v1.5M144.2 379.9h1.5M160.3 393.4v1.5M144.2 377.7h1.5M162.6 393.4v1.5M144.2 375.9h1.5M164.5 393.4v1.5M144.2 374.4h1.5M166.1 393.4v1.5M144.2 373.1h1.5M167.5 393.4v1.5M144.2 371.9h1.5M168.8 393.4v1.5M144.2 364.1h1.5M177.2 393.4v1.5M144.2 360.2h1.5M181.4 393.4v1.5M144.2 357.4h1.5M184.4 393.4v1.5M144.2 355.2h1.5M186.8 393.4v1.5M144.2 353.4h1.5M188.7 393.4v1.5M144.2 351.9h1.5M190.3 393.4v1.5M144.2 350.6h1.5M191.7 393.4v1.5M144.2 349.4h1.5M192.9 393.4v1.5M144.2 341.6h1.5M201.3 393.4v1.5M144.2 337.7h1.5M205.6 393.4v1.5M144.2 334.9h1.5M208.6 393.4v1.5M144.2 332.7h1.5M210.9 393.4v1.5M144.2 330.9h1.5M212.9 393.4v1.5M144.2 329.4h1.5M214.5 393.4v1.5M144.2 328.1h1.5M215.9 393.4v1.5M144.2 326.9h1.5M217.1 393.4v1.5M144.2 319.1h1.5M225.5 393.4v1.5M144.2 315.2h1.5M229.8 393.4v1.5M144.2 312.4h1.5M232.8 393.4v1.5M144.2 310.2h1.5M235.1 393.4v1.5M144.2 308.4h1.5M237.0 393.4v1.5M144.2 306.9h1.5M238.7 393.4v1.5M144.2 305.6h1.5M240.1 393.4v1.5M144.2 304.4h1.5M241.3 393.4v1.5" stroke="#9a9a9a" stroke-width="0.5" fill="none"/>
<path d="M143.1 370.9h2.6M169.9 393.4v2.6M143.1 348.4h2.6M194.0 393.4v2.6M143.1 325.9h2.6M218.2 393.4v2.6" stroke="#666" stroke-width="0.7" fill="none"/>
<path d="M177.1 336.3h0.7M152.6 343.4h0.7M163.5 348.4h0.7M148.7 341.5h0.7M177.2 338.1h0.7M181.5 339.6h0.7M169.4 327.4h0.7M156.5 346.4h0.7M156.0 334.2h0.7M175.6 334.2h0.7M177.3 338.6h0.7M156.3 345.6h0.7M151.2 342.7h0.7M177.8 345.8h0.7M152.3 343.0h0.7M167.4 332.2h0.7M151.9 344.9h0.7M155.4 346.0h0.7M178.8 342.8h0.7M176.5 348.8h0.7M169.5 355.0h0.7M178.4 334.7h0.7M177.4 337.9h0.7M161.8 353.2h0.7M161.8 348.5h0.7M174.4 332.7h0.7M161.0 352.1h0.7M168.7 332.0h0.7M154.2 345.5h0.7M164.2 348.8h0.7M161.9 333.6h0.7M163.7 349.5h0.7M165.8 349.8h0.7M152.9 344.4h0.7M170.7 326.7h0.7M170.7 351.9h0.7M164.0 349.3h0.7M166.5 332.6h0.7M149.8 341.4h0.7M174.6 349.0h0.7M159.2 332.2h0.7M163.3 329.8h0.7M177.4 336.0h0.7M157.3 346.7h0.7M177.9 339.7h0.7M159.8 332.7h0.7M165.1 332.3h0.7M160.4 333.7h0.7M166.7 350.4h0.7M167.5 351.8h0.7M167.5 332.7h0.7M171.2 352.4h0.7M160.4 332.5h0.7M147.4 340.4h0.7M160.7 332.6h0.7M161.6 349.8h0.7M151.9 335.5h0.7M146.6 338.1h0.7M147.9 338.1h0.7M169.1 330.6h0.7M152.9 344.7h0.7M187.6 338.1h0.7M177.5 345.4h0.7M158.4 330.8h0.7M168.0 349.6h0.7M170.3 333.3h0.7M177.7 343.6h0.7M177.2 343.3h0.7M159.7 347.1h0.7M146.5 338.8h0.7M147.0 337.8h0.7M166.2 357.4h0.7M147.3 340.3h0.7M167.4 349.8h0.7M156.5 347.5h0.7M152.7 334.6h0.7M165.8 355.6h0.7M188.1 344.6h0.7M169.0 332.6h0.7M176.0 332.8h0.7M177.0 353.3h0.7M157.3 346.0h0.7M177.8 339.2h0.7M177.6 348.5h0.7M177.8 337.5h0.7M168.8 353.4h0.7M168.1 351.1h0.7M163.8 350.0h0.7M149.5 336.9h0.7M177.4 344.9h0.7M183.0 337.5h0.7M161.5 332.7h0.7M149.0 341.7h0.7M160.9 332.7h0.7M177.0 335.4h0.7M168.7 327.4h0.7M183.7 349.4h0.7M151.4 342.2h0.7M155.3 347.3h0.7M164.7 349.6h0.7M169.7 350.0h0.7M179.0 346.6h0.7M183.6 340.9h0.7M169.3 349.8h0.7M163.1 332.8h0.7M180.6 334.2h0.7M153.9 334.3h0.7M181.9 343.7h0.7M169.5 349.7h0.7M162.1 349.2h0.7M167.0 331.4h0.7M166.4 332.7h0.7M155.3 335.1h0.7M179.4 341.5h0.7M178.9 342.0h0.7M179.6 334.0h0.7M177.4 340.9h0.7M163.7 332.5h0.7M150.6 335.8h0.7M182.4 344.9h0.7M160.1 332.2h0.7M175.4 334.4h0.7M165.8 350.0h0.7M152.3 343.8h0.7M177.3 346.1h0.7M165.3 348.9h0.7M173.5 354.5h0.7M146.9 335.6h0.7M168.7 351.6h0.7M173.6 348.9h0.7M177.5 338.0h0.7M161.0 333.4h0.7M147.5 338.0h0.7M177.9 340.4h0.7M165.6 326.8h0.7M159.4 347.6h0.7M182.7 343.3h0.7M148.0 337.7h0.7M174.6 348.6h0.7M165.8 329.5h0.7M177.9 341.2h0.7M161.9 347.5h0.7M179.8 337.3h0.7M159.7 348.0h0.7M168.3 350.9h0.7M156.9 345.6h0.7M171.3 331.3h0.7M153.2 343.2h0.7M177.7 340.8h0.7M172.4 349.7h0.7M163.3 348.5h0.7M178.0 338.5h0.7M180.1 342.3h0.7M169.6 349.7h0.7M164.1 330.4h0.7M161.2 333.9h0.7M156.3 345.1h0.7M162.6 348.6h0.7M173.8 333.2h0.7M150.1 342.3h0.7M198.9 334.8h0.7M176.8 348.6h0.7M170.6 353.1h0.7M168.6 352.1h0.7M152.0 344.2h0.7M174.9 348.3h0.7M167.8 350.2h0.7M161.4 331.6h0.7M176.1 354.8h0.7M165.7 332.2h0.7M158.6 348.1h0.7M176.2 348.6h0.7M181.1 342.6h0.7M173.8 332.2h0.7M181.1 341.3h0.7M170.3 350.5h0.7M150.9 336.1h0.7M163.6 348.6h0.7M156.2 345.5h0.7M160.3 347.5h0.7M172.9 354.7h0.7M152.6 344.1h0.7M161.5 347.5h0.7M160.1 347.8h0.7M156.8 345.9h0.7M150.5 341.9h0.7M148.9 334.9h0.7M177.7 344.9h0.7M177.0 347.8h0.7M178.0 346.4h0.7M179.5 343.7h0.7M154.9 347.8h0.7M176.9 345.6h0.7M148.1 338.0h0.7M150.7 342.2h0.7M157.9 334.1h0.7M149.2 342.4h0.7M179.1 332.5h0.7M176.2 334.9h0.7M174.2 348.8h0.7M169.3 349.7h0.7M182.6 333.3h0.7M171.4 328.7h0.7M165.9 331.6h0.7M176.7 349.9h0.7M174.5 332.7h0.7M177.8 336.4h0.7M147.3 339.7h0.7M184.4 342.4h0.7M170.0 332.5h0.7M185.0 341.6h0.7M158.5 334.0h0.7M174.2 349.1h0.7M160.7 347.1h0.7M159.4 346.6h0.7M177.0 347.0h0.7M154.5 344.4h0.7M165.8 349.4h0.7M146.6 336.2h0.7M166.4 333.0h0.7M155.3 344.3h0.7M170.7 350.2h0.7M173.1 332.1h0.7M177.8 340.3h0.7M152.6 335.9h0.7M176.0 348.3h0.7M165.0 351.4h0.7M162.3 347.7h0.7M177.4 340.6h0.7M173.9 332.8h0.7M154.6 346.1h0.7M176.0 355.0h0.7M167.3 350.6h0.7M164.6 333.3h0.7M158.3 346.0h0.7M163.6 349.2h0.7M164.6 332.9h0.7M177.7 343.9h0.7M147.4 342.1h0.7M176.6 332.9h0.7M156.9 345.5h0.7M152.0 335.8h0.7M165.4 350.3h0.7M177.6 342.2h0.7M147.7 337.2h0.7M177.2 336.3h0.7M167.8 349.5h0.7M178.9 340.0h0.7M158.3 346.1h0.7M177.5 335.7h0.7M162.1 332.8h0.7M165.8 349.5h0.7M152.0 343.3h0.7M165.7 332.6h0.7M176.7 347.4h0.7M177.3 343.7h0.7M180.0 337.6h0.7M148.9 341.0h0.7M148.2 342.3h0.7M155.0 344.4h0.7M177.0 335.0h0.7M151.7 334.4h0.7M177.5 343.6h0.7M178.4 343.4h0.7M176.3 348.6h0.7M176.5 347.7h0.7M183.1 342.8h0.7M147.5 340.6h0.7M164.7 332.1h0.7M164.2 352.5h0.7M174.9 333.6h0.7M165.1 349.2h0.7M176.1 353.0h0.7M177.0 333.8h0.7M177.9 349.0h0.7M176.6 356.4h0.7M158.5 334.0h0.7M167.2 331.8h0.7M176.0 349.0h0.7M150.2 336.3h0.7M160.9 350.5h0.7M175.7 333.0h0.7M150.1 342.4h0.7M174.6 348.2h0.7M181.9 342.7h0.7M168.7 333.2h0.7M183.5 339.1h0.7M182.2 353.3h0.7M170.1 333.1h0.7M176.5 347.3h0.7M153.0 344.6h0.7M158.7 348.4h0.7M169.9 333.0h0.7M177.8 338.6h0.7M149.8 342.9h0.7M167.3 351.4h0.7M177.1 350.9h0.7M176.8 345.8h0.7M181.1 338.6h0.7M178.1 338.4h0.7M182.6 336.6h0.7M164.3 350.3h0.7M162.1 348.2h0.7M166.0 331.8h0.7M176.6 350.6h0.7M175.0 333.0h0.7M162.4 332.9h0.7M158.9 347.4h0.7M170.4 349.8h0.7M168.3 351.5h0.7M177.6 340.1h0.7M160.9 347.2h0.7M165.4 329.0h0.7M156.9 347.4h0.7M149.6 342.2h0.7M154.9 344.7h0.7M164.6 350.2h0.7M176.4 350.1h0.7M167.0 352.0h0.7M166.7 331.6h0.7M177.5 346.1h0.7M170.0 351.8h0.7M177.6 351.6h0.7M148.1 342.9h0.7M173.2 350.5h0.7M170.1 349.7h0.7M168.4 350.4h0.7M177.6 337.3h0.7M172.7 330.1h0.7M148.7 337.1h0.7M155.7 347.4h0.7M177.2 347.3h0.7M147.6 338.1h0.7M165.8 330.8h0.7M170.9 331.3h0.7M163.6 328.7h0.7M146.7 340.8h0.7M155.8 345.9h0.7M178.0 345.9h0.7M177.5 334.4h0.7M161.9 350.9h0.7M162.3 333.3h0.7M182.8 330.7h0.7M178.2 342.6h0.7M178.6 344.0h0.7M167.6 332.7h0.7M172.8 331.8h0.7M171.5 351.2h0.7M156.3 347.8h0.7M183.0 337.9h0.7M157.8 332.5h0.7M185.4 339.4h0.7M179.1 341.7h0.7M168.4 349.9h0.7M180.5 343.0h0.7M174.6 350.2h0.7M177.4 344.3h0.7M164.4 330.8h0.7M155.1 334.4h0.7M168.0 355.2h0.7M155.2 345.1h0.7M161.6 349.1h0.7M181.2 343.5h0.7M154.8 344.2h0.7M168.9 352.2h0.7M167.3 330.1h0.7M175.5 333.3h0.7M170.6 331.4h0.7M175.0 331.7h0.7M172.6 350.2h0.7M159.5 349.6h0.7M163.9 348.8h0.7M175.2 354.4h0.7M171.7 329.9h0.7M177.9 338.6h0.7M163.4 349.6h0.7M161.0 333.9h0.7M155.3 345.2h0.7M168.6 352.0h0.7M166.1 352.1h0.7M178.3 339.3h0.7M180.0 345.7h0.7M148.3 340.8h0.7M161.0 349.4h0.7M177.4 336.4h0.7M148.4 340.6h0.7M146.8 339.9h0.7M170.4 349.8h0.7M152.1 343.2h0.7M179.5 338.1h0.7M162.6 347.7h0.7M172.0 349.3h0.7M166.1 332.6h0.7M168.2 349.9h0.7M156.9 333.7h0.7M166.6 349.7h0.7M160.7 347.1h0.7M161.7 347.6h0.7M147.2 338.2h0.7M161.8 347.7h0.7M177.9 340.2h0.7M170.1 350.4h0.7M167.8 330.2h0.7M174.1 348.6h0.7M182.3 336.0h0.7M158.4 333.8h0.7M180.1 341.5h0.7M170.7 328.5h0.7M172.1 352.5h0.7M163.1 333.5h0.7M159.4 346.9h0.7M154.4 347.0h0.7M147.6 340.0h0.7M179.8 344.1h0.7M159.8 347.2h0.7M157.8 347.3h0.7M169.4 349.4h0.7M165.2 332.9h0.7M179.2 336.3h0.7M166.4 331.7h0.7M172.5 349.4h0.7M176.6 330.5h0.7M157.9 347.6h0.7M165.2 350.2h0.7M156.0 332.7h0.7M167.9 352.6h0.7M175.4 332.9h0.7M148.3 340.4h0.7M159.9 347.4h0.7M164.4 349.7h0.7M175.6 351.2h0.7M164.5 330.5h0.7M151.6 344.7h0.7M172.5 350.2h0.7M177.7 344.1h0.7M152.2 334.1h0.7M154.8 346.9h0.7M161.7 348.3h0.7M174.5 330.1h0.7M156.4 333.8h0.7M170.1 350.4h0.7M177.2 336.9h0.7M177.2 343.6h0.7M172.4 328.0h0.7M177.3 335.6h0.7M158.1 346.1h0.7M169.7 331.7h0.7M169.5 349.9h0.7M182.9 338.8h0.7M168.7 352.8h0.7M148.5 337.6h0.7M167.2 332.9h0.7M168.1 331.1h0.7M147.6 338.1h0.7M149.5 337.3h0.7M162.0 332.9h0.7M150.9 342.1h0.7M181.0 342.3h0.7M148.4 340.7h0.7M147.7 340.8h0.7M150.7 341.9h0.7M147.0 339.9h0.7M168.5 355.8h0.7M187.1 346.5h0.7M176.9 347.0h0.7M178.8 336.5h0.7M177.6 344.4h0.7M149.8 336.2h0.7M148.1 341.7h0.7M170.4 331.6h0.7M178.0 342.4h0.7M163.3 331.9h0.7M174.9 332.8h0.7M177.3 338.1h0.7M161.0 351.7h0.7M177.8 341.8h0.7M177.6 341.0h0.7M166.6 351.8h0.7M156.1 334.9h0.7M147.6 337.8h0.7M150.0 336.2h0.7M169.4 331.7h0.7M156.0 345.1h0.7M176.6 347.7h0.7M155.8 334.8h0.7M177.9 344.9h0.7M165.0 348.7h0.7M151.9 343.5h0.7M150.2 341.8h0.7M181.6 346.8h0.7M148.3 337.5h0.7M163.2 349.3h0.7M160.3 351.3h0.7M151.0 342.3h0.7M146.9 340.2h0.7M179.1 339.6h0.7M167.0 352.0h0.7M177.3 345.0h0.7M150.4 341.8h0.7M160.0 348.2h0.7M175.6 355.3h0.7M158.4 346.1h0.7M164.5 332.9h0.7M171.1 352.3h0.7M146.8 338.1h0.7M168.0 333.2h0.7M175.2 329.7h0.7M166.9 352.0h0.7M172.7 331.5h0.7M179.1 341.1h0.7M180.8 337.4h0.7M160.2 332.6h0.7M157.3 346.8h0.7M159.5 346.8h0.7M158.4 331.7h0.7M171.1 331.8h0.7M188.0 339.4h0.7M179.2 337.3h0.7M184.2 334.7h0.7M163.0 333.4h0.7M147.7 337.0h0.7M183.6 342.3h0.7M156.7 347.5h0.7M180.9 330.7h0.7M156.4 347.2h0.7M151.1 344.6h0.7M184.3 343.5h0.7M168.5 350.4h0.7M149.8 334.8h0.7M177.3 352.9h0.7M151.6 342.5h0.7M173.7 329.8h0.7M177.9 341.8h0.7M178.8 342.6h0.7M172.0 349.5h0.7M161.1 347.6h0.7M167.8 327.6h0.7M163.0 333.0h0.7M160.0 348.4h0.7M172.4 353.3h0.7M158.5 347.1h0.7M177.1 345.8h0.7M183.9 332.2h0.7M182.4 350.9h0.7M174.6 348.6h0.7M174.8 331.8h0.7M176.7 334.9h0.7M177.3 345.0h0.7M175.9 347.5h0.7M155.9 346.3h0.7M180.7 344.3h0.7M158.3 346.5h0.7M179.5 344.8h0.7M171.4 333.3h0.7M167.1 352.1h0.7M175.9 349.7h0.7M162.4 331.9h0.7M148.5 340.8h0.7M167.0 349.8h0.7M149.5 341.8h0.7M184.0 344.9h0.7M166.4 350.0h0.7M148.1 337.3h0.7M148.3 340.7h0.7M158.0 347.4h0.7M174.3 333.7h0.7M152.8 335.5h0.7M161.7 349.2h0.7M170.4 332.9h0.7M151.6 335.2h0.7M159.4 348.7h0.7M165.3 349.6h0.7M146.6 338.8h0.7M172.8 333.0h0.7M147.9 336.1h0.7M169.1 349.8h0.7M150.8 342.3h0.7M174.6 352.9h0.7M164.4 329.4h0.7M156.7 347.0h0.7M149.8 334.7h0.7M152.1 342.8h0.7M152.8 344.7h0.7M177.4 337.3h0.7M160.7 348.7h0.7M176.1 333.3h0.7M164.1 350.3h0.7M147.0 340.5h0.7M176.6 348.8h0.7M177.7 339.6h0.7M158.4 346.1h0.7M185.3 346.8h0.7M177.8 340.0h0.7M171.1 332.8h0.7M147.8 340.1h0.7M159.8 331.5h0.7M161.0 350.0h0.7M169.5 333.1h0.7M164.3 333.2h0.7M164.3 352.4h0.7M165.0 330.9h0.7M158.1 349.4h0.7M176.5 352.7h0.7M156.9 346.5h0.7M161.9 332.6h0.7M156.2 334.6h0.7M165.0 350.7h0.7M178.3 345.4h0.7M162.1 348.2h0.7M152.6 335.6h0.7M171.1 330.6h0.7M175.6 347.5h0.7M177.9 341.0h0.7M150.2 337.0h0.7M150.9 343.2h0.7M154.6 334.6h0.7M181.0 343.5h0.7M162.7 349.4h0.7M167.1 352.9h0.7M171.5 332.4h0.7M177.2 348.1h0.7M161.0 349.1h0.7M157.8 345.6h0.7M163.9 332.6h0.7M177.6 338.9h0.7M165.0 350.5h0.7M147.4 340.6h0.7M147.2 338.5h0.7M160.4 351.1h0.7M170.9 349.7h0.7M173.2 350.9h0.7M173.4 349.7h0.7M159.8 347.4h0.7M172.3 350.1h0.7M157.1 345.4h0.7M167.7 330.4h0.7M177.7 340.6h0.7M163.8 349.7h0.7M178.8 346.1h0.7M183.6 341.0h0.7M159.3 334.0h0.7M167.8 332.5h0.7M146.9 339.4h0.7M177.3 336.9h0.7M163.8 333.4h0.7M147.7 341.0h0.7M158.1 345.7h0.7M147.3 339.9h0.7M147.5 341.0h0.7M174.5 348.6h0.7M147.7 337.5h0.7M155.7 345.3h0.7M166.5 352.2h0.7M172.7 331.7h0.7M159.6 350.6h0.7M148.5 337.1h0.7M160.1 333.8h0.7M171.5 349.3h0.7M177.3 337.8h0.7M166.2 351.3h0.7M177.5 335.4h0.7M158.8 333.6h0.7M161.8 333.7h0.7M171.5 350.3h0.7M173.8 333.2h0.7M166.5 351.5h0.7M149.1 341.2h0.7M161.1 332.8h0.7M148.7 342.1h0.7M176.8 345.6h0.7M149.7 342.3h0.7M159.5 333.1h0.7M152.7 345.9h0.7M159.3 346.5h0.7M162.1 348.0h0.7M148.3 340.5h0.7M147.6 337.8h0.7M156.9 333.2h0.7M178.0 335.1h0.7M176.9 345.2h0.7M174.2 350.7h0.7M173.4 349.0h0.7M146.7 339.7h0.7M165.2 350.5h0.7M162.8 348.5h0.7M149.8 336.3h0.7M147.6 336.0h0.7M180.1 347.0h0.7M148.1 338.0h0.7M171.0 350.5h0.7M161.1 331.1h0.7M177.2 338.1h0.7M185.6 346.5h0.7M180.3 340.8h0.7M182.9 340.4h0.7M178.0 338.1h0.7M178.8 345.6h0.7M183.7 339.6h0.7M188.9 351.6h0.7M179.0 335.5h0.7M225.5 344.6h0.7M187.0 340.4h0.7M182.7 341.3h0.7M196.8 344.5h0.7M192.5 342.8h0.7M183.3 348.6h0.7M177.6 336.0h0.7M179.0 339.6h0.7M182.6 337.4h0.7M185.1 343.5h0.7M194.3 342.1h0.7M219.2 338.2h0.7M178.0 340.1h0.7M177.2 336.7h0.7M181.2 333.8h0.7M184.9 343.5h0.7M183.2 339.9h0.7M183.5 340.3h0.7M189.8 342.8h0.7M182.7 343.6h0.7M180.6 338.5h0.7M187.4 341.4h0.7M211.9 334.4h0.7M186.7 336.1h0.7M201.7 340.9h0.7M183.1 339.9h0.7M183.2 339.8h0.7M182.6 342.3h0.7M184.5 337.6h0.7M186.2 341.0h0.7M182.5 333.4h0.7M178.6 341.3h0.7M185.2 341.2h0.7M185.6 337.3h0.7M178.6 346.3h0.7M200.1 338.5h0.7M179.4 346.3h0.7M194.8 341.5h0.7M192.8 342.3h0.7M180.9 339.0h0.7M220.9 330.9h0.7M180.8 334.0h0.7M178.3 337.5h0.7M189.5 333.3h0.7M189.3 350.0h0.7M186.9 339.4h0.7M180.1 338.2h0.7M181.2 340.2h0.7M180.5 335.3h0.7M177.3 346.3h0.7M181.2 337.6h0.7M186.5 343.1h0.7M184.1 345.5h0.7M189.2 335.1h0.7M196.2 345.3h0.7M179.1 337.8h0.7M178.9 335.8h0.7M178.6 335.5h0.7M233.0 339.4h0.7M179.4 339.7h0.7M185.3 339.0h0.7M183.7 345.8h0.7M204.1 340.9h0.7M179.5 340.1h0.7M191.3 336.9h0.7M192.8 343.2h0.7M208.0 343.6h0.7M183.4 332.0h0.7M181.6 338.5h0.7M181.4 341.2h0.7M183.7 335.9h0.7M194.7 344.1h0.7M196.6 336.1h0.7M205.0 344.0h0.7M213.3 339.5h0.7M178.2 343.4h0.7M204.0 336.9h0.7M194.0 339.6h0.7M195.1 338.8h0.7M180.7 345.5h0.7M191.9 348.7h0.7M179.2 336.6h0.7M188.7 345.2h0.7M182.8 342.8h0.7M182.8 337.1h0.7M182.2 342.7h0.7M182.0 335.1h0.7M180.6 344.5h0.7M196.1 347.0h0.7M180.5 339.4h0.7M185.8 341.8h0.7M180.2 341.7h0.7M179.0 333.2h0.7M184.2 339.8h0.7M181.4 342.3h0.7M178.2 336.7h0.7M193.3 338.2h0.7M186.4 340.1h0.7M183.9 335.8h0.7M189.0 333.6h0.7M180.3 331.4h0.7M178.7 340.9h0.7M185.0 329.4h0.7M178.1 337.1h0.7M181.9 338.9h0.7M196.1 340.8h0.7M185.6 351.6h0.7M184.6 342.1h0.7M195.6 343.9h0.7M185.8 346.3h0.7M197.7 336.1h0.7M179.8 339.6h0.7M177.8 342.3h0.7M187.0 337.8h0.7M179.7 341.8h0.7M179.3 336.0h0.7M206.0 343.8h0.7M183.0 347.3h0.7M183.7 338.8h0.7M183.0 343.3h0.7M179.9 344.3h0.7M182.4 341.0h0.7M182.2 346.4h0.7M181.8 347.0h0.7M180.1 338.6h0.7M181.6 338.6h0.7M183.5 341.3h0.7M178.1 341.8h0.7M193.3 334.2h0.7M184.5 333.6h0.7M183.9 336.4h0.7M182.7 341.2h0.7M178.2 344.6h0.7M178.9 338.5h0.7M193.1 342.3h0.7M194.9 338.5h0.7M196.2 336.2h0.7M185.8 331.1h0.7M185.9 337.7h0.7M194.4 337.6h0.7M201.8 333.8h0.7M181.0 345.7h0.7M179.2 339.8h0.7M192.1 340.2h0.7M182.2 336.7h0.7M178.3 340.6h0.7M186.7 333.0h0.7M179.1 343.6h0.7M181.8 344.0h0.7M179.2 345.2h0.7M181.3 336.8h0.7M187.0 342.3h0.7M177.9 347.0h0.7M184.1 337.4h0.7M205.2 336.6h0.7M213.5 338.1h0.7M178.9 337.9h0.7M190.7 337.2h0.7M182.9 343.1h0.7M180.2 342.8h0.7M180.7 342.6h0.7M180.2 347.4h0.7M195.7 341.9h0.7M178.1 339.4h0.7M189.1 333.3h0.7M191.2 337.2h0.7M191.5 342.7h0.7M188.0 335.5h0.7M184.6 341.5h0.7M177.9 343.8h0.7M184.4 344.2h0.7M188.3 346.7h0.7M177.2 343.4h0.7M179.6 342.7h0.7M185.7 340.3h0.7M188.4 346.3h0.7M195.7 334.0h0.7M178.8 337.4h0.7M186.0 339.4h0.7M179.1 346.7h0.7M189.6 336.1h0.7M199.9 338.2h0.7M184.0 349.2h0.7M192.5 338.5h0.7M177.1 334.7h0.7M196.5 338.1h0.7M182.6 337.8h0.7M180.9 343.5h0.7M222.8 341.7h0.7M185.9 338.0h0.7M177.7 342.6h0.7M178.9 336.4h0.7M184.8 343.2h0.7M177.5 334.9h0.7M185.6 333.8h0.7M196.9 346.7h0.7M191.0 334.2h0.7M180.3 334.8h0.7M185.4 342.2h0.7M189.4 339.6h0.7M184.3 347.1h0.7M187.7 342.5h0.7M178.8 346.7h0.7M189.5 339.6h0.7M182.6 341.9h0.7M190.3 342.9h0.7M194.9 336.9h0.7M177.8 347.4h0.7M180.0 341.2h0.7M178.3 333.4h0.7M206.2 336.0h0.7M211.7 333.3h0.7M192.2 336.9h0.7M180.9 337.9h0.7M193.1 351.1h0.7M184.9 339.1h0.7M180.0 333.2h0.7M178.2 340.4h0.7M185.1 343.6h0.7M182.9 341.2h0.7M198.2 342.9h0.7M178.7 335.6h0.7M182.3 338.9h0.7M176.8 353.1h0.7M181.6 339.2h0.7M184.4 345.4h0.7M181.9 351.1h0.7M179.9 340.8h0.7M181.6 336.7h0.7M179.4 341.0h0.7M177.8 346.3h0.7M181.0 336.8h0.7M195.2 346.2h0.7M189.4 341.8h0.7M195.2 339.2h0.7M186.2 337.9h0.7M181.6 334.0h0.7M186.1 343.7h0.7M182.1 343.4h0.7M183.0 348.5h0.7M179.5 334.2h0.7M179.5 342.5h0.7M181.9 338.9h0.7M183.1 333.9h0.7M185.9 334.3h0.7M214.8 349.8h0.7M192.0 339.4h0.7M180.4 338.6h0.7M179.5 345.5h0.7M186.0 337.4h0.7M184.7 345.2h0.7M179.0 340.0h0.7M210.3 339.4h0.7M183.6 346.1h0.7M203.2 341.3h0.7M189.8 327.1h0.7M185.1 341.7h0.7M180.5 341.9h0.7M180.4 342.6h0.7M195.9 345.6h0.7M183.4 340.3h0.7M180.8 335.9h0.7M185.4 343.9h0.7M186.7 345.6h0.7M180.3 347.1h0.7M187.4 336.7h0.7M181.9 334.5h0.7M221.3 337.6h0.7M185.4 339.5h0.7M184.4 348.3h0.7M181.8 336.2h0.7M180.9 336.9h0.7M183.2 345.5h0.7M200.0 332.8h0.7M186.1 348.4h0.7M194.6 336.1h0.7M180.7 342.8h0.7M189.1 344.4h0.7M179.7 331.4h0.7M230.7 336.2h0.7M184.2 343.8h0.7M178.2 336.5h0.7M178.6 339.1h0.7M187.3 339.1h0.7M185.5 339.4h0.7M192.4 336.3h0.7M195.7 338.5h0.7M195.3 337.1h0.7M182.6 339.0h0.7M180.4 343.6h0.7M182.1 341.7h0.7M182.5 337.5h0.7M177.8 342.7h0.7M181.0 343.9h0.7M179.7 340.4h0.7M177.3 343.9h0.7M179.2 340.3h0.7M188.4 338.9h0.7M182.6 341.8h0.7M201.2 337.5h0.7M190.6 339.7h0.7M177.5 339.6h0.7M187.5 347.1h0.7M182.8 338.6h0.7M182.7 340.9h0.7M181.6 343.9h0.7M179.1 345.7h0.7M179.2 337.8h0.7M183.0 345.0h0.7M188.3 336.2h0.7M181.3 342.4h0.7M189.0 337.9h0.7M188.9 343.6h0.7M194.3 334.3h0.7M179.5 339.0h0.7M242.0 337.6h0.7M202.2 335.0h0.7M179.1 342.7h0.7M184.8 339.0h0.7M177.3 338.8h0.7M196.1 344.6h0.7M187.5 340.9h0.7M179.1 337.9h0.7M181.1 347.1h0.7M177.7 336.5h0.7M179.3 339.0h0.7M194.3 342.8h0.7M179.3 347.2h0.7M202.3 338.3h0.7M195.1 338.0h0.7M179.0 341.6h0.7M201.1 348.3h0.7M177.1 344.3h0.7M183.0 337.6h0.7M190.1 338.8h0.7M181.2 340.5h0.7M192.3 350.0h0.7M189.7 343.5h0.7M178.0 344.2h0.7M183.4 344.8h0.7M192.8 337.0h0.7M180.1 335.8h0.7M185.3 339.4h0.7M186.2 338.3h0.7M188.8 344.6h0.7M179.3 338.2h0.7M196.5 346.5h0.7M178.5 338.6h0.7M177.4 347.7h0.7M205.2 351.8h0.7M178.3 332.8h0.7M190.2 342.8h0.7M196.1 343.0h0.7M184.9 342.9h0.7M181.1 339.6h0.7M180.4 344.2h0.7M197.4 339.1h0.7M183.3 336.1h0.7M180.5 334.6h0.7M180.7 334.2h0.7M179.9 339.4h0.7M180.0 339.0h0.7M178.8 335.6h0.7M178.9 340.2h0.7M178.6 337.0h0.7M177.3 335.4h0.7M197.1 343.5h0.7M178.5 341.2h0.7M183.9 341.2h0.7M182.9 345.3h0.7M184.9 342.2h0.7M185.8 337.7h0.7M206.5 339.2h0.7M183.2 346.5h0.7M180.1 332.4h0.7M184.7 342.2h0.7M190.1 337.9h0.7M180.7 348.3h0.7M191.2 339.8h0.7M177.6 343.7h0.7M191.6 337.5h0.7M180.5 334.3h0.7M182.1 340.6h0.7M177.2 333.9h0.7M179.9 344.4h0.7M208.7 335.0h0.7M180.7 344.0h0.7M181.6 343.3h0.7M182.9 346.6h0.7M180.2 336.8h0.7M184.9 338.3h0.7M183.0 336.6h0.7M189.5 342.0h0.7M180.6 343.3h0.7M185.5 339.6h0.7M179.2 340.2h0.7M208.0 336.7h0.7M178.0 337.9h0.7M177.2 345.7h0.7M182.2 340.8h0.7M184.2 335.7h0.7M187.0 348.2h0.7M177.8 341.4h0.7M191.5 344.1h0.7M178.3 342.4h0.7M181.4 341.8h0.7M192.2 340.4h0.7M181.3 346.2h0.7M185.2 337.0h0.7M181.2 340.4h0.7M179.5 338.3h0.7M184.2 340.7h0.7M185.9 341.7h0.7M182.7 339.9h0.7M184.0 339.9h0.7M182.6 335.1h0.7M186.0 338.1h0.7M177.3 341.1h0.7M179.9 344.0h0.7M209.4 344.3h0.7M185.3 334.1h0.7M191.4 341.0h0.7M180.7 336.6h0.7M189.5 346.7h0.7M204.2 339.8h0.7M187.5 339.1h0.7M204.2 338.5h0.7M183.4 337.3h0.7M181.0 341.7h0.7M177.3 337.9h0.7M225.9 333.8h0.7M184.5 344.4h0.7M186.6 333.2h0.7M177.5 338.7h0.7M179.8 337.1h0.7M180.3 333.1h0.7M178.2 337.2h0.7M186.7 343.4h0.7M178.5 338.0h0.7M185.2 341.3h0.7M225.2 342.2h0.7M180.8 342.3h0.7M176.7 335.2h0.7M183.4 339.1h0.7M177.9 342.3h0.7M184.9 339.8h0.7M188.5 342.8h0.7M180.5 340.4h0.7M179.6 341.6h0.7M182.5 335.9h0.7M182.0 346.0h0.7M190.8 340.0h0.7M190.6 334.4h0.7M183.1 349.6h0.7M185.4 337.5h0.7M187.5 331.7h0.7M178.1 342.2h0.7M180.6 343.4h0.7M217.1 337.2h0.7M178.7 341.6h0.7M179.0 339.3h0.7M179.2 339.5h0.7M192.1 347.1h0.7M180.8 344.9h0.7M188.4 339.2h0.7M201.5 339.7h0.7M178.9 343.2h0.7M197.8 342.8h0.7M181.6 340.9h0.7M179.9 336.3h0.7M181.5 350.5h0.7M193.4 345.7h0.7M183.7 342.8h0.7M178.8 341.7h0.7M180.7 334.6h0.7M181.2 339.3h0.7M193.7 344.9h0.7M185.6 338.0h0.7M178.7 336.0h0.7M190.6 338.4h0.7M178.8 341.4h0.7M186.1 339.6h0.7M182.2 341.1h0.7M189.9 338.6h0.7M188.2 333.0h0.7M186.0 338.3h0.7M184.0 336.4h0.7M179.2 347.5h0.7M183.4 342.7h0.7M178.7 340.0h0.7M197.9 344.7h0.7M178.5 346.0h0.7M183.9 334.0h0.7M194.6 336.1h0.7M177.3 337.7h0.7M191.8 345.3h0.7M186.7 344.6h0.7M190.4 338.6h0.7M180.6 342.3h0.7M196.1 339.8h0.7M178.5 331.7h0.7M188.4 336.0h0.7M198.9 341.9h0.7M207.7 333.3h0.7M187.5 340.3h0.7M199.6 339.0h0.7M198.3 338.5h0.7M181.9 341.0h0.7M180.3 341.8h0.7M184.8 346.4h0.7M184.7 342.8h0.7M195.5 339.4h0.7M185.5 339.2h0.7M184.3 352.1h0.7M176.8 345.3h0.7M210.7 342.0h0.7M177.1 346.4h0.7M185.0 342.4h0.7M191.3 345.1h0.7M181.3 341.7h0.7M178.9 347.8h0.7M185.7 335.5h0.7M191.5 341.7h0.7M203.8 334.8h0.7M177.2 343.4h0.7M179.6 337.2h0.7M182.8 344.9h0.7M188.0 336.2h0.7M186.3 335.8h0.7M184.3 346.3h0.7M178.0 341.0h0.7M181.5 341.8h0.7M178.2 338.1h0.7M189.0 339.1h0.7M193.7 341.3h0.7M186.8 336.8h0.7M180.4 338.2h0.7M190.0 341.6h0.7M181.6 341.1h0.7M178.7 343.3h0.7M182.7 349.2h0.7M182.9 327.5h0.7M178.1 342.7h0.7M177.6 332.7h0.7M186.4 335.6h0.7M177.7 336.6h0.7M196.4 334.9h0.7M178.8 339.3h0.7M179.4 337.3h0.7M186.0 338.2h0.7M188.7 346.8h0.7M182.5 338.9h0.7M188.6 332.9h0.7M180.8 347.9h0.7M179.4 345.3h0.7M178.1 336.6h0.7M179.9 339.7h0.7M198.6 338.1h0.7M182.3 338.6h0.7M192.3 341.7h0.7M182.5 343.0h0.7M181.3 344.1h0.7M184.6 339.8h0.7M177.7 341.5h0.7M179.0 348.8h0.7M180.0 329.0h0.7M179.7 334.9h0.7M180.8 340.0h0.7M186.3 340.2h0.7M181.1 339.6h0.7M182.7 340.7h0.7M206.5 338.6h0.7M180.1 343.5h0.7M180.1 343.8h0.7M181.0 340.7h0.7M185.8 344.5h0.7M191.1 336.7h0.7M178.8 343.9h0.7M190.3 347.0h0.7M181.6 340.2h0.7M192.7 338.6h0.7M179.4 338.3h0.7M193.6 340.6h0.7M192.9 345.3h0.7M178.8 342.5h0.7M181.8 329.9h0.7M181.9 336.3h0.7M177.7 334.9h0.7M198.8 340.8h0.7M179.5 334.3h0.7M181.0 333.0h0.7M178.7 347.2h0.7M190.6 342.0h0.7M202.9 337.5h0.7M194.1 334.7h0.7M182.2 332.4h0.7M177.9 337.2h0.7M201.2 342.8h0.7M183.5 338.8h0.7M180.7 338.2h0.7M193.0 341.5h0.7M180.3 340.8h0.7M179.6 329.8h0.7M189.4 338.3h0.7M186.8 335.2h0.7M183.0 340.6h0.7M192.6 341.1h0.7M177.5 336.3h0.7M180.2 327.7h0.7M178.4 344.4h0.7M177.1 338.3h0.7M184.2 339.3h0.7M179.4 339.4h0.7M179.3 335.6h0.7M186.8 338.0h0.7M190.3 343.7h0.7M177.7 341.8h0.7M195.4 335.7h0.7M178.8 340.8h0.7M178.9 342.6h0.7M178.4 332.6h0.7M178.0 337.7h0.7M182.2 344.7h0.7M197.3 337.4h0.7M188.8 343.7h0.7M193.6 340.1h0.7M180.8 342.9h0.7M177.1 335.3h0.7M178.8 343.3h0.7M190.9 343.4h0.7M182.7 348.0h0.7M195.8 337.4h0.7M180.4 336.5h0.7M179.5 336.0h0.7M212.2 343.3h0.7M179.0 344.1h0.7M185.3 332.1h0.7M196.0 333.8h0.7M177.7 333.8h0.7M181.2 339.3h0.7M178.6 330.2h0.7M184.9 336.6h0.7M182.6 340.4h0.7M182.9 345.7h0.7M184.0 343.6h0.7M186.0 340.1h0.7M183.3 341.0h0.7M218.7 337.3h0.7M186.0 338.4h0.7M178.4 341.3h0.7M198.6 334.4h0.7M181.0 336.7h0.7M177.4 337.6h0.7M178.6 337.1h0.7M177.3 345.7h0.7M180.6 335.8h0.7M178.8 350.9h0.7M183.4 338.6h0.7M181.1 342.5h0.7M180.3 335.0h0.7M206.9 343.0h0.7M209.1 338.4h0.7M192.8 350.7h0.7M179.8 339.2h0.7" stroke="#000" stroke-width="0.7" fill="none" clip-path="url(#c2)"/>
<path d="M146.5 338.9C146.8 338.1 149.1 337.3 150.9 336.6C152.7 335.9 154.7 335.2 157.2 334.6C159.7 334.1 162.9 333.5 165.7 333.3C168.4 333.1 171.8 333.1 173.7 333.5C175.6 333.9 176.3 334.1 176.9 335.5C177.5 336.9 177.5 340.1 177.4 342.0C177.3 343.9 177.3 345.6 176.5 346.8C175.7 348.0 174.2 348.8 172.7 349.2C171.1 349.6 169.0 349.7 167.2 349.4C165.4 349.1 163.7 348.3 161.7 347.4C159.7 346.5 157.3 345.2 155.2 344.2C153.1 343.1 150.6 342.0 149.2 341.1C147.8 340.2 146.2 339.6 146.5 338.9Z" fill="#000"/>
<rect x="178.5" y="315.7" width="37.6" height="43.6" fill="none" stroke="#000" stroke-width="1.6"/>
<text x="218.7" y="343.4" font-size="14" font-weight="bold" text-anchor="start" >6.5</text>
<text transform="translate(17.6,330) rotate(-90)" font-size="14.3" font-weight="bold" text-anchor="middle">CD4</text>
<path d="M13.2 370V408.5H84" fill="none" stroke="#000" stroke-width="1.5"/>
<path d="M13.2 357.3L8.6 371H17.8Z M98.5 408.5L83 403.9V413.1Z" fill="#000"/>
<text x="113.8" y="414.3" font-size="14.6" font-weight="bold" text-anchor="start" >T1/ST2</text>
<path d="M316.1 290.9H414.6V412.8H316.1Z" fill="none" stroke="#000" stroke-width="1.5"/>
<line x1="309.1" y1="290.9" x2="316.1" y2="290.9" stroke="#000" stroke-width="1.5" stroke-linecap="butt"/>
<text x="306.6" y="295.9" font-size="14.3" font-weight="bold" text-anchor="end" >12</text>
<line x1="312.1" y1="311.21666666666664" x2="316.1" y2="311.21666666666664" stroke="#000" stroke-width="1.2" stroke-linecap="butt"/>
<line x1="309.1" y1="331.5333333333333" x2="316.1" y2="331.5333333333333" stroke="#000" stroke-width="1.5" stroke-linecap="butt"/>
<text x="306.6" y="336.5333333333333" font-size="14.3" font-weight="bold" text-anchor="end" >8</text>
<line x1="312.1" y1="351.84999999999997" x2="316.1" y2="351.84999999999997" stroke="#000" stroke-width="1.2" stroke-linecap="butt"/>
<line x1="309.1" y1="372.1666666666667" x2="316.1" y2="372.1666666666667" stroke="#000" stroke-width="1.5" stroke-linecap="butt"/>
<text x="306.6" y="377.1666666666667" font-size="14.3" font-weight="bold" text-anchor="end" >4</text>
<line x1="312.1" y1="392.48333333333335" x2="316.1" y2="392.48333333333335" stroke="#000" stroke-width="1.2" stroke-linecap="butt"/>
<line x1="309.1" y1="412.8" x2="316.1" y2="412.8" stroke="#000" stroke-width="1.5" stroke-linecap="butt"/>
<text x="306.6" y="417.8" font-size="14.3" font-weight="bold" text-anchor="end" >0</text>
<text transform="translate(288.6,352.6) rotate(-90)" font-size="14.7" font-weight="bold" text-anchor="middle">%T1/ST2<tspan font-size="7.2" dy="-5.6">+</tspan><tspan dy="5.6" font-size="1">&#8203;</tspan><tspan> / CD4</tspan><tspan font-size="7.2" dy="-5.6">+</tspan><tspan dy="5.6" font-size="1">&#8203;</tspan></text>
<circle cx="329.6" cy="387.5" r="3.9" fill="#fff" stroke="#000" stroke-width="1.7"/>
<circle cx="338.4" cy="384.4" r="3.9" fill="#fff" stroke="#000" stroke-width="1.7"/>
<circle cx="347.1" cy="387.1" r="3.9" fill="#fff" stroke="#000" stroke-width="1.7"/>
<circle cx="356.5" cy="387.8" r="3.9" fill="#fff" stroke="#000" stroke-width="1.7"/>
<circle cx="386.6" cy="312.3" r="4.5" fill="#000"/>
<circle cx="386.6" cy="347.5" r="4.5" fill="#000"/>
<circle cx="386.6" cy="358.9" r="4.5" fill="#000"/>
<circle cx="386.6" cy="372.3" r="4.5" fill="#000"/>
<text x="0.1" y="465" font-size="29" font-weight="bold" text-anchor="start" class="n">D</text>
<text x="28.3" y="464.8" font-size="14.4" font-weight="bold" text-anchor="start" >Th1/Th2 differentiation <tspan font-style="italic">in vitro</tspan></text>
<text x="92" y="500.8" font-size="14.6" font-weight="bold" text-anchor="middle" >Control</text>
<text x="157.8" y="500.8" font-size="14.5" font-weight="bold" text-anchor="start" >IRF-2<tspan font-size="7.5" dy="-6">-/-</tspan><tspan dy="6" font-size="1">&#8203;</tspan></text>
<rect x="46.3" y="509.4" width="83.4" height="75.8" fill="none" stroke="#333" stroke-width="0.9"/>
<path d="M44.8 579.5h1.5M52.6 585.1999999999999v1.5M44.8 576.2h1.5M56.2 585.1999999999999v1.5M44.8 573.8h1.5M58.9 585.1999999999999v1.5M44.8 572.0h1.5M60.9 585.1999999999999v1.5M44.8 570.5h1.5M62.5 585.1999999999999v1.5M44.8 569.2h1.5M63.9 585.1999999999999v1.5M44.8 568.1h1.5M65.1 585.1999999999999v1.5M44.8 567.1h1.5M66.2 585.1999999999999v1.5M44.8 560.5h1.5M73.4 585.1999999999999v1.5M44.8 557.2h1.5M77.1 585.1999999999999v1.5M44.8 554.8h1.5M79.7 585.1999999999999v1.5M44.8 553.0h1.5M81.7 585.1999999999999v1.5M44.8 551.5h1.5M83.4 585.1999999999999v1.5M44.8 550.2h1.5M84.8 585.1999999999999v1.5M44.8 549.1h1.5M86.0 585.1999999999999v1.5M44.8 548.2h1.5M87.0 585.1999999999999v1.5M44.8 541.6h1.5M94.3 585.1999999999999v1.5M44.8 538.3h1.5M97.9 585.1999999999999v1.5M44.8 535.9h1.5M100.6 585.1999999999999v1.5M44.8 534.1h1.5M102.6 585.1999999999999v1.5M44.8 532.6h1.5M104.2 585.1999999999999v1.5M44.8 531.3h1.5M105.6 585.1999999999999v1.5M44.8 530.2h1.5M106.8 585.1999999999999v1.5M44.8 529.2h1.5M107.9 585.1999999999999v1.5M44.8 522.6h1.5M115.1 585.1999999999999v1.5M44.8 519.3h1.5M118.8 585.1999999999999v1.5M44.8 516.9h1.5M121.4 585.1999999999999v1.5M44.8 515.1h1.5M123.4 585.1999999999999v1.5M44.8 513.6h1.5M125.1 585.1999999999999v1.5M44.8 512.3h1.5M126.5 585.1999999999999v1.5M44.8 511.2h1.5M127.7 585.1999999999999v1.5M44.8 510.3h1.5M128.7 585.1999999999999v1.5" stroke="#9a9a9a" stroke-width="0.5" fill="none"/>
<path d="M43.7 566.2h2.6M67.2 585.1999999999999v2.6M43.7 547.3h2.6M88.0 585.1999999999999v2.6M43.7 528.3h2.6M108.8 585.1999999999999v2.6" stroke="#666" stroke-width="0.7" fill="none"/>
<path d="M68.3 574.7h0.6M57.8 562.8h0.6M65.5 580.6h0.6M50.9 579.9h0.6M54.8 578.5h0.6M59.8 560.8h0.6M58.8 561.8h0.6M59.2 580.6h0.6M60.6 561.3h0.6M58.2 561.9h0.6M71.5 568.6h0.6M54.9 564.3h0.6M48.9 571.4h0.6M66.5 581.7h0.6M54.4 575.5h0.6M54.1 578.7h0.6M54.3 576.2h0.6M69.1 572.5h0.6M67.8 584.5h0.6M54.1 575.3h0.6M70.8 574.1h0.6M71.7 573.2h0.6M58.8 561.9h0.6M60.0 562.6h0.6M65.4 578.7h0.6M68.1 576.9h0.6M53.0 573.6h0.6M51.9 573.9h0.6M69.4 573.2h0.6M45.7 578.0h0.6M54.2 578.7h0.6M53.7 577.7h0.6M69.1 572.0h0.6M54.2 574.7h0.6M65.5 578.5h0.6M68.3 577.3h0.6M58.9 584.7h0.6M59.2 562.3h0.6M65.0 584.1h0.6M69.2 576.7h0.6M68.7 574.6h0.6M52.6 573.1h0.6M70.7 574.1h0.6M55.1 562.0h0.6M55.8 563.3h0.6M58.8 580.8h0.6M69.0 574.6h0.6M70.2 571.4h0.6M67.6 576.4h0.6M49.3 572.1h0.6M69.3 573.8h0.6M70.1 577.3h0.6M67.2 577.5h0.6M55.3 579.2h0.6M55.8 577.0h0.6M72.3 573.3h0.6M54.8 560.9h0.6M49.5 566.1h0.6M69.9 573.7h0.6M68.3 574.5h0.6M58.3 562.4h0.6M70.9 575.8h0.6M64.5 560.5h0.6M54.5 578.6h0.6M72.0 567.4h0.6M69.3 576.4h0.6M72.8 577.3h0.6M67.4 576.9h0.6M70.3 571.7h0.6M57.6 563.5h0.6M53.4 574.2h0.6M68.1 574.6h0.6M55.9 562.1h0.6M56.5 563.1h0.6M67.6 575.4h0.6M49.8 566.2h0.6M60.4 561.7h0.6M71.5 576.7h0.6M50.6 574.3h0.6M53.0 563.5h0.6M57.4 579.5h0.6M59.4 561.2h0.6M67.1 581.3h0.6M67.4 576.8h0.6M70.1 572.0h0.6M59.0 560.9h0.6M58.4 580.5h0.6M55.6 562.3h0.6M64.4 559.9h0.6M56.9 578.1h0.6M55.1 560.4h0.6M70.2 577.0h0.6M60.5 561.4h0.6M60.8 582.1h0.6M58.1 581.0h0.6M69.2 574.2h0.6M51.5 574.0h0.6M67.3 581.0h0.6M54.7 563.9h0.6M67.8 574.4h0.6M50.5 569.4h0.6M71.0 572.3h0.6M55.9 578.3h0.6M65.6 579.7h0.6M69.0 572.6h0.6M71.6 574.4h0.6M51.9 574.1h0.6M51.0 564.8h0.6M53.8 564.1h0.6M54.9 578.7h0.6M57.4 563.5h0.6M57.3 560.5h0.6M73.0 573.0h0.6M63.2 560.9h0.6M75.1 569.7h0.6M71.4 573.0h0.6M61.8 561.9h0.6M56.8 561.4h0.6M61.5 561.6h0.6M71.3 578.0h0.6M65.2 579.4h0.6M50.4 576.7h0.6M69.0 580.9h0.6M53.8 576.8h0.6M51.5 563.6h0.6M67.7 576.4h0.6M52.5 573.7h0.6M71.1 569.9h0.6M53.5 578.6h0.6M67.3 577.6h0.6M51.7 571.0h0.6M55.2 576.8h0.6M55.2 576.5h0.6M55.0 581.4h0.6M53.6 574.0h0.6M68.7 577.0h0.6M67.7 576.2h0.6M68.0 577.0h0.6M58.5 562.5h0.6M53.6 574.8h0.6M59.4 580.6h0.6M68.5 573.9h0.6M72.6 570.5h0.6M59.4 562.4h0.6M66.7 577.7h0.6M66.4 578.8h0.6M53.7 575.9h0.6M61.0 560.9h0.6M69.6 575.2h0.6M56.8 580.4h0.6M57.7 579.4h0.6M71.8 577.4h0.6M57.0 578.6h0.6M62.4 561.6h0.6M52.5 575.1h0.6M71.6 573.0h0.6M69.5 573.6h0.6M55.4 578.8h0.6M73.2 576.9h0.6M65.9 580.2h0.6M66.7 559.5h0.6M63.2 561.0h0.6M70.9 574.7h0.6M57.1 562.3h0.6M53.7 576.1h0.6M67.6 576.8h0.6M54.4 577.6h0.6M54.9 576.5h0.6M72.0 569.2h0.6M54.3 563.6h0.6M64.9 580.7h0.6M55.5 576.4h0.6M58.5 563.1h0.6M70.3 577.5h0.6M58.4 563.1h0.6M52.8 578.5h0.6M71.3 573.7h0.6M53.1 574.1h0.6M67.1 577.6h0.6M52.3 573.8h0.6M66.9 577.9h0.6M71.0 575.9h0.6M61.4 561.9h0.6M55.2 576.4h0.6M50.8 580.1h0.6M56.0 582.6h0.6M55.5 579.8h0.6M49.5 578.2h0.6M50.2 580.8h0.6M56.2 580.5h0.6M47.0 576.1h0.6M51.5 575.9h0.6M52.6 575.9h0.6M56.9 581.9h0.6M55.6 576.6h0.6M51.8 580.2h0.6M58.1 581.7h0.6M48.9 571.3h0.6M53.8 576.5h0.6M50.9 573.5h0.6M57.7 586.5h0.6M50.8 571.7h0.6M50.6 575.8h0.6M49.8 573.1h0.6M56.2 584.3h0.6M48.3 583.0h0.6M51.2 581.6h0.6M56.5 578.6h0.6M52.2 573.3h0.6M51.0 575.0h0.6M53.2 576.6h0.6M53.1 581.2h0.6M49.8 580.0h0.6M56.2 581.3h0.6M54.9 583.9h0.6M53.4 583.9h0.6M51.0 578.8h0.6M49.2 576.0h0.6M51.2 573.4h0.6M52.8 580.6h0.6M52.8 580.9h0.6M49.8 581.5h0.6M53.6 576.6h0.6M50.6 580.3h0.6M57.8 581.9h0.6M53.4 585.9h0.6M44.2 576.6h0.6M57.2 579.4h0.6M52.3 577.0h0.6M52.7 578.8h0.6M53.6 578.7h0.6M46.2 570.8h0.6M50.4 575.9h0.6M56.5 588.9h0.6M55.8 579.2h0.6M55.0 575.4h0.6M54.1 576.0h0.6M52.1 571.9h0.6M56.1 579.0h0.6M62.6 585.9h0.6M54.0 576.0h0.6M56.8 578.6h0.6M53.1 573.9h0.6M68.2 576.0h0.6M47.9 573.3h0.6M50.8 572.9h0.6M53.8 581.1h0.6M52.9 577.9h0.6M54.0 579.7h0.6M50.8 586.9h0.6M56.9 583.9h0.6M52.5 575.4h0.6M58.1 581.9h0.6M52.5 573.1h0.6M56.7 578.5h0.6M48.7 579.6h0.6M50.1 579.6h0.6M50.9 577.8h0.6M56.8 580.9h0.6M51.3 581.7h0.6M55.4 576.4h0.6M47.7 573.7h0.6M57.7 586.9h0.6M63.1 583.8h0.6M49.9 574.8h0.6M49.8 581.4h0.6M50.5 583.7h0.6M51.5 572.6h0.6M58.3 583.7h0.6M50.1 575.3h0.6M48.8 577.4h0.6M54.0 578.4h0.6M53.2 576.5h0.6M58.1 583.6h0.6M56.3 578.3h0.6M58.4 587.1h0.6M52.4 578.1h0.6M58.4 580.9h0.6M49.5 582.0h0.6M54.5 578.0h0.6M51.0 569.6h0.6M52.7 574.2h0.6M66.2 578.6h0.6M66.5 576.7h0.6M47.2 577.1h0.6M54.9 577.8h0.6M49.4 577.1h0.6M55.5 577.0h0.6M60.4 585.6h0.6M51.6 578.5h0.6M55.2 575.9h0.6M54.2 576.6h0.6M52.2 573.6h0.6M53.2 574.5h0.6M54.0 576.6h0.6M49.9 573.3h0.6M52.3 575.5h0.6M56.2 577.9h0.6M51.2 582.0h0.6M53.7 574.8h0.6M65.5 584.1h0.6M58.1 584.7h0.6M52.7 578.1h0.6M43.4 574.4h0.6M55.4 582.1h0.6M54.3 575.8h0.6M49.5 575.7h0.6M52.7 574.2h0.6M55.8 578.3h0.6M48.7 574.2h0.6M58.7 581.4h0.6M53.2 574.7h0.6M56.9 579.8h0.6M53.7 582.6h0.6M50.5 580.3h0.6M52.2 575.7h0.6M55.7 576.6h0.6M49.3 581.0h0.6M56.0 582.6h0.6M50.9 572.7h0.6M49.7 580.5h0.6M54.5 576.8h0.6M54.1 576.0h0.6M53.1 577.4h0.6M50.6 579.6h0.6M50.8 582.7h0.6M55.4 583.8h0.6M51.7 580.9h0.6M51.5 581.4h0.6M52.1 575.1h0.6M49.7 583.7h0.6M58.1 581.1h0.6M54.0 577.3h0.6M48.6 578.3h0.6M50.5 584.1h0.6M52.1 575.0h0.6M48.6 586.1h0.6M49.0 573.0h0.6M52.6 577.7h0.6M50.5 577.4h0.6M46.9 578.0h0.6M58.7 584.0h0.6M51.0 576.0h0.6M49.2 581.0h0.6M50.9 574.8h0.6M55.5 581.0h0.6M51.5 573.7h0.6M50.9 579.2h0.6M48.3 576.7h0.6M54.4 580.1h0.6M55.2 577.7h0.6M55.3 578.4h0.6M48.6 568.6h0.6M53.2 576.5h0.6M54.8 584.9h0.6M52.7 581.1h0.6M51.9 575.8h0.6M52.1 575.7h0.6M51.0 590.5h0.6M49.8 580.7h0.6M53.3 580.9h0.6M53.6 575.3h0.6M55.2 578.7h0.6M52.1 584.6h0.6M54.0 579.2h0.6M49.9 566.0h0.6M51.6 583.0h0.6M53.1 579.4h0.6M54.0 578.5h0.6M54.6 576.3h0.6M54.0 575.7h0.6M64.9 587.9h0.6M55.0 583.4h0.6M44.4 573.0h0.6M55.8 580.6h0.6M53.4 581.9h0.6M45.8 577.9h0.6M55.7 582.3h0.6M50.4 569.5h0.6M56.0 581.0h0.6M53.3 581.8h0.6M53.2 575.0h0.6M52.8 585.0h0.6M46.8 568.5h0.6M49.6 578.7h0.6M42.9 573.7h0.6M56.6 579.7h0.6M47.6 579.2h0.6M55.0 578.2h0.6M48.2 578.3h0.6M60.2 582.9h0.6M54.8 575.6h0.6M51.3 575.8h0.6M52.4 572.3h0.6M57.2 579.2h0.6M47.8 582.8h0.6M56.6 584.5h0.6M54.6 576.8h0.6M50.6 580.1h0.6M54.0 575.4h0.6M51.4 580.6h0.6M46.2 571.6h0.6M51.4 574.1h0.6M65.2 579.0h0.6M48.4 576.9h0.6M51.2 576.3h0.6M49.2 577.0h0.6M48.6 577.8h0.6M54.9 580.1h0.6M54.7 583.7h0.6M56.0 578.3h0.6M54.4 578.1h0.6M49.8 574.4h0.6M49.8 585.9h0.6M50.2 571.2h0.6M49.8 574.1h0.6M49.6 576.1h0.6M54.0 581.3h0.6M48.7 578.8h0.6M52.7 574.6h0.6M58.5 581.1h0.6M49.6 573.5h0.6M52.1 576.5h0.6M51.5 585.9h0.6M50.4 576.0h0.6M50.7 575.7h0.6M52.0 573.2h0.6M55.3 578.9h0.6M51.4 582.8h0.6M53.2 576.3h0.6M48.4 583.5h0.6M48.3 574.9h0.6M52.7 575.6h0.6M58.4 582.9h0.6M54.8 582.2h0.6M64.9 580.6h0.6M53.4 582.9h0.6M54.0 578.0h0.6M51.6 572.2h0.6M53.1 574.6h0.6M53.7 579.8h0.6M54.0 582.2h0.6M48.1 572.1h0.6M56.3 578.6h0.6M58.2 582.8h0.6M47.8 576.3h0.6M49.1 577.3h0.6M53.2 579.3h0.6M52.0 577.5h0.6M57.4 581.5h0.6M58.6 585.7h0.6M50.9 569.8h0.6M59.3 583.4h0.6M50.7 576.3h0.6M68.4 574.8h0.6M56.3 581.1h0.6M49.6 576.0h0.6M50.3 574.6h0.6M56.8 581.2h0.6M51.4 575.1h0.6M52.3 576.9h0.6M53.4 573.4h0.6M51.8 581.6h0.6M44.6 574.5h0.6M51.6 572.0h0.6M91.7 561.7h0.6M75.5 568.5h0.6M94.1 562.6h0.6M90.2 573.4h0.6M74.1 569.4h0.6M71.7 572.1h0.6M79.7 568.6h0.6M83.6 570.6h0.6M88.9 569.1h0.6M84.0 566.8h0.6M71.1 571.5h0.6M75.1 564.0h0.6M73.6 563.9h0.6M73.0 566.4h0.6M71.0 571.6h0.6M72.6 569.6h0.6M98.0 566.4h0.6M84.3 569.8h0.6M85.1 569.7h0.6M72.0 569.8h0.6M86.0 570.7h0.6M84.3 573.5h0.6M74.6 567.6h0.6M75.3 566.1h0.6M113.9 571.8h0.6M74.4 568.4h0.6M76.0 568.6h0.6M86.5 562.9h0.6M85.3 570.0h0.6M77.6 566.6h0.6M81.8 567.3h0.6M97.2 568.2h0.6M113.0 566.9h0.6M88.3 569.4h0.6M71.4 568.4h0.6M75.0 569.0h0.6M70.6 569.4h0.6M74.0 570.7h0.6M71.3 569.7h0.6M77.5 572.5h0.6M79.9 571.2h0.6M72.4 566.7h0.6M76.6 563.6h0.6M74.7 563.9h0.6M71.0 570.4h0.6M74.3 567.8h0.6M97.5 570.4h0.6M106.7 567.7h0.6M85.2 572.8h0.6M80.3 567.5h0.6M81.5 566.3h0.6M76.6 568.4h0.6M85.4 567.0h0.6M77.5 566.2h0.6M81.8 565.8h0.6M74.6 568.8h0.6M76.1 559.5h0.6M79.5 569.3h0.6M79.7 571.9h0.6M72.2 566.3h0.6M74.0 567.9h0.6M70.5 569.6h0.6M77.2 567.0h0.6M71.7 568.8h0.6M118.2 567.5h0.6M74.9 566.8h0.6M86.7 564.7h0.6M74.0 571.2h0.6M73.9 566.5h0.6M73.7 568.9h0.6M83.0 568.7h0.6M97.8 561.7h0.6M80.8 565.3h0.6M73.4 565.8h0.6M74.2 571.8h0.6M98.8 567.7h0.6M72.5 570.9h0.6M82.2 565.4h0.6M82.9 567.2h0.6M78.8 564.9h0.6M78.0 566.7h0.6M83.9 572.2h0.6M83.0 562.3h0.6M81.9 566.9h0.6M78.8 570.2h0.6M71.3 572.9h0.6M75.1 568.1h0.6M75.0 568.1h0.6M79.6 564.4h0.6M100.8 565.5h0.6M74.1 562.5h0.6M78.5 564.5h0.6M120.4 569.0h0.6M82.8 570.2h0.6M93.4 573.9h0.6M71.2 568.4h0.6M90.8 573.6h0.6M78.3 566.9h0.6M80.3 567.3h0.6M82.5 570.9h0.6M84.9 566.7h0.6M79.7 568.9h0.6M90.3 566.3h0.6M72.2 569.5h0.6M74.8 566.1h0.6M78.3 564.8h0.6M127.0 564.3h0.6M73.6 566.0h0.6M90.3 569.8h0.6M71.4 569.3h0.6M73.2 565.1h0.6M75.5 564.0h0.6M76.7 563.9h0.6M74.0 563.0h0.6M71.6 568.1h0.6M76.6 566.0h0.6M71.9 572.6h0.6M74.1 564.7h0.6M81.5 566.0h0.6M72.0 567.9h0.6M84.0 568.0h0.6M77.2 569.5h0.6M78.0 561.6h0.6M74.0 569.1h0.6M75.3 568.4h0.6M81.0 568.7h0.6M74.3 566.5h0.6M72.8 568.0h0.6M80.7 571.3h0.6M76.1 566.1h0.6M95.1 564.3h0.6M70.8 572.6h0.6M78.3 570.0h0.6M77.8 566.2h0.6M75.7 570.0h0.6M76.0 569.3h0.6M87.8 567.6h0.6M97.1 568.1h0.6M71.8 570.5h0.6M78.6 565.3h0.6M85.7 562.7h0.6M77.2 563.6h0.6M95.5 567.7h0.6M91.7 564.5h0.6M74.3 565.4h0.6M76.9 568.3h0.6M83.4 563.8h0.6M72.6 565.8h0.6M92.4 568.5h0.6M75.9 567.4h0.6M102.3 571.1h0.6M73.0 567.9h0.6M74.3 569.8h0.6M76.1 565.9h0.6M71.6 568.5h0.6M84.3 567.7h0.6M75.5 569.6h0.6M73.9 565.5h0.6M73.9 567.4h0.6M80.1 565.9h0.6M80.6 567.7h0.6M82.2 565.0h0.6M78.7 564.9h0.6M74.7 569.8h0.6M84.1 565.2h0.6M83.2 565.6h0.6M75.7 567.9h0.6M84.2 566.1h0.6M76.7 568.4h0.6M84.3 572.1h0.6M72.5 565.6h0.6M73.4 566.0h0.6M74.7 565.1h0.6M91.8 573.1h0.6M86.1 566.4h0.6M78.8 567.7h0.6M73.9 570.0h0.6M79.5 569.1h0.6M75.5 573.2h0.6M77.9 571.5h0.6M83.6 565.8h0.6M70.8 570.2h0.6M76.8 570.2h0.6M79.6 566.9h0.6M76.4 572.3h0.6M78.4 566.3h0.6M73.2 568.0h0.6M96.8 569.5h0.6M74.5 568.3h0.6M82.1 561.1h0.6M77.7 569.7h0.6M82.2 560.7h0.6M83.8 567.6h0.6M75.2 566.5h0.6M86.2 563.7h0.6M73.7 567.9h0.6M88.5 567.3h0.6M74.0 566.1h0.6M76.2 562.3h0.6M87.5 569.0h0.6M88.6 568.4h0.6M74.5 568.8h0.6M87.0 572.8h0.6M71.4 570.9h0.6M74.0 573.7h0.6M72.9 569.4h0.6M70.6 571.0h0.6M71.9 571.2h0.6M76.4 565.6h0.6M84.6 568.1h0.6M89.5 566.5h0.6M71.0 570.5h0.6M103.0 565.1h0.6M123.9 566.2h0.6M73.0 568.2h0.6M82.4 570.0h0.6M72.1 557.2h0.6M88.3 567.7h0.6M76.4 570.2h0.6M111.6 570.4h0.6M89.0 566.5h0.6M77.7 565.4h0.6M89.2 565.4h0.6M75.6 565.2h0.6M83.7 574.4h0.6M78.7 566.8h0.6M85.6 566.4h0.6M79.4 567.5h0.6M77.8 565.4h0.6M72.6 567.7h0.6M72.8 565.0h0.6M75.4 567.7h0.6M96.1 566.9h0.6M71.9 567.7h0.6M98.2 568.8h0.6M80.3 566.6h0.6M73.8 562.2h0.6M75.1 572.0h0.6M80.4 566.4h0.6M71.4 567.8h0.6M75.1 569.4h0.6M82.7 569.7h0.6M73.1 566.9h0.6M94.7 564.0h0.6M79.2 564.0h0.6M92.0 560.8h0.6M91.9 564.3h0.6M91.2 564.4h0.6M83.4 568.1h0.6M103.9 570.9h0.6M85.7 570.9h0.6M93.8 569.4h0.6M75.4 565.4h0.6M106.1 567.8h0.6M84.2 568.1h0.6M80.2 570.1h0.6M80.4 567.8h0.6M80.8 570.7h0.6M90.7 561.2h0.6M71.9 569.2h0.6M89.6 563.1h0.6M77.6 568.5h0.6M85.0 569.3h0.6M80.2 570.2h0.6M94.8 567.1h0.6M107.6 566.2h0.6M71.8 571.3h0.6M99.3 571.9h0.6M77.5 566.1h0.6M73.8 569.5h0.6M88.5 565.3h0.6M93.3 569.3h0.6M81.9 565.4h0.6M75.7 563.7h0.6M105.0 568.8h0.6M98.3 569.6h0.6M87.4 564.0h0.6M101.6 568.7h0.6M92.2 568.2h0.6M80.5 568.7h0.6M73.7 566.9h0.6M85.5 565.6h0.6M76.6 564.4h0.6M87.3 563.3h0.6M93.1 570.7h0.6M106.6 564.4h0.6M76.9 565.9h0.6M88.0 566.9h0.6M71.1 569.6h0.6M84.5 564.1h0.6M93.2 572.4h0.6M71.4 571.3h0.6M94.1 567.9h0.6M89.2 563.9h0.6M71.5 571.5h0.6M85.6 569.0h0.6M74.8 568.9h0.6M80.1 568.0h0.6M72.3 565.9h0.6M107.5 570.4h0.6M78.4 567.2h0.6M83.1 570.3h0.6M86.5 565.4h0.6M78.1 567.2h0.6M88.1 568.3h0.6M75.4 566.3h0.6M89.1 567.0h0.6M81.2 568.3h0.6M80.4 567.0h0.6M73.1 565.5h0.6M70.7 570.6h0.6M71.7 568.4h0.6M72.7 565.6h0.6M90.5 564.0h0.6M75.8 568.5h0.6M83.5 563.1h0.6M88.2 569.4h0.6M108.6 565.9h0.6M73.8 570.0h0.6M77.6 567.8h0.6M73.6 571.3h0.6M70.8 569.8h0.6M77.6 574.2h0.6M80.5 572.6h0.6M80.8 565.8h0.6M86.2 568.3h0.6M79.7 573.0h0.6M75.3 567.8h0.6M92.7 569.2h0.6M74.7 561.6h0.6M89.6 570.8h0.6M73.9 567.5h0.6M72.0 568.6h0.6M71.6 569.9h0.6M78.2 564.2h0.6M78.8 566.7h0.6M73.8 567.9h0.6M94.0 567.7h0.6M83.1 564.0h0.6M80.7 565.2h0.6M105.4 568.2h0.6M76.1 566.1h0.6M86.0 561.0h0.6M90.4 578.3h0.6M70.6 569.7h0.6M82.0 565.8h0.6M76.0 572.9h0.6M90.6 564.0h0.6M88.4 565.4h0.6M96.4 566.2h0.6M100.3 566.4h0.6M73.7 563.7h0.6M113.9 572.2h0.6M86.2 570.8h0.6M82.1 569.4h0.6M76.3 563.4h0.6M86.9 565.8h0.6M101.1 567.4h0.6M115.4 562.1h0.6M72.1 569.7h0.6M72.9 567.2h0.6M77.4 570.9h0.6M73.4 567.9h0.6M73.5 564.1h0.6M79.2 570.3h0.6M82.2 567.6h0.6M79.7 569.6h0.6M74.0 567.3h0.6M78.5 567.0h0.6M75.2 570.2h0.6M76.0 567.4h0.6M97.4 568.7h0.6M73.0 569.7h0.6M79.5 564.5h0.6M92.1 563.6h0.6M76.2 560.8h0.6M84.1 567.7h0.6M75.4 566.3h0.6M73.1 572.4h0.6M74.8 563.3h0.6M99.4 566.0h0.6M73.4 571.2h0.6M79.7 568.6h0.6M79.1 567.4h0.6M79.8 566.7h0.6M78.1 567.5h0.6M73.2 570.0h0.6M73.8 568.5h0.6M87.8 563.0h0.6M81.1 567.1h0.6M74.1 571.5h0.6M76.4 563.5h0.6M71.0 570.2h0.6M76.8 564.5h0.6M81.1 559.3h0.6M73.5 564.9h0.6M74.3 567.3h0.6M82.6 564.1h0.6M92.5 572.5h0.6M72.3 566.7h0.6M93.1 565.7h0.6M86.2 567.1h0.6M72.2 570.4h0.6M82.5 566.2h0.6M84.6 569.2h0.6M104.3 566.6h0.6M74.1 567.5h0.6M84.3 566.3h0.6M73.2 568.3h0.6M87.9 563.7h0.6M76.4 565.3h0.6M72.9 567.6h0.6M82.8 567.0h0.6M73.9 565.7h0.6M77.3 566.0h0.6M76.5 572.7h0.6M113.3 566.7h0.6M73.0 569.9h0.6M94.6 568.7h0.6M88.5 563.9h0.6M74.4 568.7h0.6M86.7 568.7h0.6M80.3 568.6h0.6M102.2 568.5h0.6M98.1 567.3h0.6M77.9 570.6h0.6M72.2 568.7h0.6M83.0 563.2h0.6M73.7 572.6h0.6M80.1 564.3h0.6M76.1 569.4h0.6M84.1 566.8h0.6M75.6 567.9h0.6M85.0 572.3h0.6M74.2 564.6h0.6M72.5 568.8h0.6M81.5 569.7h0.6M103.9 566.0h0.6M91.1 560.7h0.6M71.2 571.1h0.6M92.3 568.5h0.6M76.5 569.1h0.6M72.6 568.0h0.6M88.1 565.2h0.6M82.0 568.5h0.6M72.8 568.3h0.6M91.8 568.1h0.6M71.3 572.6h0.6M92.7 563.3h0.6M70.6 569.4h0.6M85.0 569.8h0.6M71.6 567.4h0.6M108.4 568.5h0.6M85.2 562.3h0.6M74.1 568.1h0.6M74.2 568.7h0.6M72.2 569.6h0.6M86.4 567.9h0.6M78.6 564.8h0.6M85.3 569.1h0.6M78.3 569.9h0.6M94.2 567.9h0.6M74.6 566.4h0.6M84.3 567.6h0.6M74.8 568.9h0.6M96.7 571.9h0.6M74.7 566.7h0.6M83.5 564.9h0.6M78.9 565.4h0.6M79.7 567.7h0.6M75.2 568.0h0.6M105.3 572.1h0.6M71.5 569.4h0.6M118.5 564.3h0.6M72.8 564.5h0.6M89.4 567.5h0.6M86.0 568.0h0.6M77.0 571.0h0.6M70.9 569.3h0.6M81.4 571.3h0.6M76.0 565.0h0.6M113.7 569.2h0.6M79.0 575.2h0.6M82.3 565.6h0.6M84.4 568.5h0.6M77.1 567.0h0.6M73.7 571.3h0.6M74.2 566.5h0.6M89.3 565.8h0.6M81.2 566.2h0.6M75.8 563.6h0.6M72.3 567.8h0.6M86.4 564.2h0.6M81.0 569.6h0.6M89.8 572.3h0.6M72.5 573.0h0.6M82.2 564.2h0.6M72.2 568.2h0.6M89.6 569.7h0.6M73.6 562.6h0.6M71.6 568.2h0.6M74.8 567.0h0.6M80.9 569.1h0.6M81.2 574.3h0.6M74.1 564.0h0.6M83.2 563.3h0.6M71.8 571.3h0.6M83.3 570.8h0.6M79.8 567.6h0.6M88.4 562.3h0.6M74.9 571.3h0.6M92.7 568.9h0.6M93.7 567.1h0.6M87.9 565.6h0.6M91.5 568.9h0.6M74.4 571.0h0.6M71.0 570.8h0.6M97.0 561.7h0.6M81.0 573.3h0.6M78.7 570.5h0.6M80.4 566.6h0.6M72.4 569.3h0.6M89.1 564.6h0.6M124.2 567.3h0.6M85.8 563.8h0.6M85.2 572.6h0.6M74.1 565.2h0.6M88.8 567.1h0.6M72.9 566.9h0.6M73.3 570.8h0.6M75.4 562.2h0.6M72.4 569.0h0.6M85.3 566.2h0.6M90.9 563.1h0.6M75.1 572.2h0.6M72.9 566.0h0.6M79.5 563.1h0.6M82.0 564.3h0.6M73.3 567.4h0.6M80.6 562.9h0.6M77.9 565.3h0.6M83.6 563.3h0.6M78.9 572.5h0.6M85.4 568.4h0.6M73.4 570.0h0.6M75.3 572.4h0.6M78.4 566.7h0.6M71.8 569.5h0.6M79.0 568.0h0.6M88.8 570.5h0.6M83.0 565.2h0.6M72.7 568.7h0.6M71.6 569.6h0.6M94.6 567.7h0.6M76.9 566.6h0.6M74.2 565.4h0.6M75.5 567.9h0.6M75.5 570.8h0.6M154.2 566.1h0.6M85.9 567.1h0.6M77.1 566.3h0.6M74.7 570.5h0.6M93.3 567.8h0.6M96.9 561.7h0.6M76.1 564.8h0.6M87.4 567.9h0.6M82.1 566.3h0.6M85.3 562.1h0.6M81.0 565.3h0.6M79.4 570.4h0.6M83.0 572.0h0.6M76.0 569.9h0.6M85.1 568.5h0.6M80.5 564.1h0.6M76.2 566.4h0.6M85.6 567.2h0.6M81.3 570.3h0.6M89.7 572.5h0.6M74.9 567.3h0.6M75.0 565.9h0.6M83.0 568.0h0.6M74.2 571.5h0.6M77.1 568.2h0.6M105.2 569.8h0.6M79.6 566.9h0.6M82.7 571.5h0.6M76.5 571.4h0.6M93.7 567.3h0.6M83.3 568.7h0.6M72.5 571.7h0.6M86.0 561.9h0.6M90.5 573.1h0.6M73.1 566.4h0.6M73.3 570.3h0.6M82.6 565.6h0.6M77.3 563.9h0.6M88.7 568.2h0.6M91.9 566.2h0.6M79.2 568.4h0.6M73.8 566.4h0.6M100.4 570.2h0.6M88.5 568.5h0.6M86.0 559.4h0.6M114.8 566.4h0.6M94.2 557.0h0.6M71.1 568.9h0.6M73.9 570.0h0.6M75.4 562.1h0.6M91.2 562.6h0.6M88.7 569.5h0.6M86.3 574.3h0.6M74.4 572.7h0.6M80.6 572.0h0.6M85.0 564.9h0.6M90.1 566.5h0.6M91.7 567.8h0.6M82.6 561.6h0.6M151.7 568.4h0.6M77.8 565.1h0.6M79.9 568.8h0.6M77.6 568.1h0.6M100.9 564.0h0.6M79.1 564.4h0.6M77.1 562.9h0.6M88.3 570.6h0.6M73.5 564.0h0.6M76.0 568.3h0.6M99.8 569.1h0.6M93.4 566.3h0.6M86.3 564.7h0.6M84.4 568.1h0.6M80.4 565.7h0.6M80.1 559.8h0.6M76.3 562.1h0.6M84.5 563.8h0.6M81.2 561.8h0.6M98.4 564.6h0.6M77.5 564.3h0.6M74.5 565.8h0.6M88.8 560.3h0.6M79.9 566.6h0.6M71.2 568.4h0.6M92.6 559.8h0.6M89.8 565.4h0.6M71.2 569.4h0.6M78.9 564.8h0.6M92.8 564.2h0.6M91.5 562.0h0.6M79.0 567.0h0.6M95.7 571.9h0.6M73.1 568.4h0.6M88.8 568.8h0.6M76.1 568.7h0.6M94.0 565.7h0.6M80.9 566.2h0.6M74.0 574.9h0.6M96.9 567.1h0.6M79.7 568.7h0.6M94.8 566.2h0.6M77.1 567.9h0.6M94.9 566.8h0.6M84.2 573.9h0.6M80.6 568.3h0.6M103.3 567.1h0.6M91.8 565.7h0.6M72.6 565.4h0.6M81.6 565.4h0.6M73.7 573.3h0.6M75.5 563.9h0.6M77.9 570.9h0.6M72.9 564.5h0.6M122.6 563.0h0.6M116.3 569.0h0.6M101.1 568.4h0.6M80.4 567.9h0.6M88.7 573.3h0.6M82.1 565.3h0.6M90.9 567.5h0.6M75.4 567.1h0.6M86.7 571.5h0.6M98.7 569.8h0.6M94.3 561.2h0.6M82.7 573.0h0.6M77.8 568.3h0.6M81.1 562.2h0.6M108.1 563.8h0.6M78.8 564.3h0.6M77.3 565.0h0.6M70.8 572.7h0.6M81.3 568.2h0.6M108.7 569.2h0.6M75.0 571.9h0.6M81.2 566.6h0.6M93.7 568.1h0.6M83.5 565.3h0.6M72.8 566.8h0.6M80.3 565.0h0.6M78.7 573.6h0.6M82.8 569.0h0.6M111.3 574.1h0.6M91.7 565.8h0.6M84.5 568.1h0.6M74.3 569.0h0.6M76.6 562.1h0.6M74.2 570.2h0.6M82.8 566.8h0.6M79.7 569.3h0.6M81.6 572.9h0.6M80.3 566.6h0.6M81.6 570.8h0.6M77.0 568.0h0.6M80.1 570.8h0.6M74.9 569.7h0.6M74.1 567.0h0.6M77.8 568.9h0.6M74.1 564.0h0.6M74.7 571.4h0.6M81.9 568.6h0.6M75.1 566.6h0.6M71.0 570.6h0.6M84.6 568.2h0.6M76.6 562.9h0.6M87.7 569.1h0.6M85.3 565.9h0.6M77.3 568.8h0.6M78.2 572.2h0.6M76.9 562.9h0.6M76.7 567.1h0.6M87.2 568.4h0.6M72.3 565.8h0.6M99.9 565.9h0.6M72.4 566.8h0.6M75.4 568.1h0.6M76.5 567.7h0.6M94.8 566.4h0.6M74.6 567.9h0.6M89.0 564.2h0.6M75.7 568.3h0.6M77.9 566.5h0.6M96.2 564.6h0.6M90.9 566.4h0.6M74.6 567.0h0.6M94.4 569.8h0.6M73.7 570.5h0.6M79.9 561.7h0.6M80.2 566.7h0.6M88.3 571.1h0.6M75.0 566.7h0.6M112.5 566.7h0.6M76.1 566.8h0.6M92.4 565.6h0.6M73.9 568.9h0.6M76.5 566.1h0.6M74.7 569.1h0.6M77.1 567.6h0.6M74.8 568.2h0.6M79.5 568.6h0.6M89.4 565.8h0.6M91.6 560.3h0.6M94.2 562.7h0.6M71.9 567.8h0.6M78.9 568.5h0.6M88.2 565.2h0.6M84.1 568.4h0.6M75.6 568.2h0.6M73.3 569.1h0.6M85.5 570.6h0.6M98.5 571.1h0.6M95.4 565.6h0.6M74.3 568.1h0.6M105.0 566.1h0.6M71.3 572.8h0.6M95.1 567.0h0.6M104.3 564.7h0.6M78.9 562.5h0.6M86.2 567.1h0.6M102.3 565.7h0.6M85.8 564.6h0.6M74.3 566.9h0.6M74.3 567.8h0.6M72.6 566.0h0.6M86.1 569.9h0.6M82.6 565.5h0.6M80.0 571.6h0.6M101.7 562.7h0.6M73.7 564.8h0.6M85.7 567.8h0.6M74.5 570.4h0.6M76.5 573.4h0.6M70.5 570.1h0.6M83.7 566.5h0.6M76.7 568.9h0.6M73.8 566.7h0.6M78.3 565.2h0.6M77.8 562.5h0.6M85.2 566.2h0.6M76.4 566.0h0.6M134.0 561.4h0.6M73.8 564.4h0.6M74.0 561.6h0.6M77.8 568.6h0.6M94.5 566.7h0.6M77.1 564.4h0.6M79.5 562.5h0.6M79.8 566.3h0.6M82.1 561.3h0.6M82.3 569.1h0.6M99.2 567.5h0.6M136.9 569.1h0.6M95.0 565.9h0.6M103.8 565.1h0.6M70.8 570.3h0.6M74.3 566.8h0.6M80.4 569.1h0.6M80.0 567.6h0.6M75.6 569.1h0.6M75.0 562.8h0.6M82.8 563.8h0.6M75.2 570.8h0.6M79.6 566.8h0.6M74.7 567.2h0.6M72.8 572.2h0.6M71.9 571.1h0.6M97.1 569.1h0.6M73.4 564.4h0.6M96.4 562.8h0.6M71.7 568.4h0.6M91.1 565.7h0.6M86.9 566.9h0.6M94.5 559.9h0.6M77.3 568.8h0.6M89.8 566.0h0.6M74.8 567.4h0.6M136.1 567.6h0.6M77.9 571.6h0.6M81.1 569.7h0.6M75.1 566.4h0.6M90.4 570.1h0.6M89.2 567.8h0.6M84.4 569.5h0.6M82.3 566.1h0.6M80.4 567.6h0.6M73.2 572.7h0.6M74.5 562.9h0.6M102.6 565.5h0.6M76.4 569.1h0.6M76.6 563.3h0.6M73.3 565.1h0.6M86.4 561.7h0.6M77.6 569.1h0.6M81.2 569.3h0.6M87.4 567.8h0.6M78.5 565.2h0.6M117.7 566.8h0.6M76.1 569.9h0.6M86.3 563.1h0.6M80.8 566.9h0.6M101.1 569.3h0.6M80.1 560.8h0.6M96.5 566.8h0.6M79.6 563.9h0.6M94.8 563.1h0.6M73.2 570.0h0.6M75.4 566.3h0.6M83.8 566.8h0.6M132.1 565.9h0.6M74.2 572.0h0.6M76.2 568.3h0.6M82.1 567.9h0.6M77.9 565.2h0.6M82.0 564.4h0.6M78.9 563.1h0.6M92.5 571.0h0.6M87.5 568.3h0.6M80.8 570.2h0.6M85.0 567.5h0.6M90.5 564.5h0.6M74.5 562.7h0.6M81.6 559.7h0.6M84.7 562.3h0.6M100.0 564.1h0.6M75.0 566.9h0.6M72.3 570.5h0.6M79.4 566.2h0.6M81.6 566.3h0.6M83.4 566.2h0.6M98.1 565.1h0.6M77.5 563.9h0.6M78.5 565.1h0.6M88.2 563.6h0.6M70.7 570.1h0.6M77.3 570.4h0.6M89.2 568.5h0.6M118.5 568.3h0.6M86.1 564.2h0.6M80.3 567.7h0.6M78.4 569.6h0.6M81.6 566.0h0.6M73.8 572.9h0.6M73.7 566.8h0.6M72.1 569.3h0.6M73.2 566.7h0.6M74.6 565.6h0.6M96.6 570.9h0.6M109.6 566.8h0.6M85.3 565.3h0.6M75.3 563.4h0.6M77.4 567.6h0.6M116.2 563.5h0.6M76.6 566.0h0.6M109.2 567.0h0.6M79.4 567.0h0.6M81.7 561.1h0.6M83.1 570.3h0.6M91.1 567.2h0.6M119.4 565.1h0.6M76.7 570.9h0.6M72.5 568.6h0.6M77.9 566.3h0.6M82.3 577.6h0.6M96.1 572.0h0.6M84.1 567.8h0.6M86.5 568.9h0.6M83.2 569.8h0.6M72.4 565.6h0.6M79.2 567.3h0.6M83.1 568.7h0.6M77.0 564.6h0.6M73.0 569.3h0.6M76.3 569.6h0.6M79.1 567.9h0.6M77.5 563.4h0.6M72.8 564.7h0.6M81.6 566.4h0.6M79.2 570.5h0.6M80.2 569.1h0.6M75.7 566.7h0.6M79.2 568.2h0.6M80.3 562.0h0.6M107.5 563.4h0.6M76.3 568.9h0.6M95.4 565.2h0.6M125.8 565.3h0.6M82.1 566.4h0.6M78.9 565.9h0.6M75.1 567.0h0.6M89.3 567.1h0.6M89.8 566.4h0.6M87.3 563.1h0.6M85.1 569.6h0.6M79.2 566.9h0.6M87.6 569.0h0.6M79.5 565.2h0.6M79.3 564.4h0.6M82.4 564.2h0.6M83.6 568.3h0.6M76.5 567.2h0.6M75.6 570.5h0.6M71.1 570.1h0.6M72.7 567.7h0.6M72.2 575.9h0.6M137.4 567.0h0.6M92.1 564.3h0.6M82.6 565.8h0.6M85.1 565.2h0.6M91.1 565.6h0.6M76.7 566.6h0.6M82.0 568.7h0.6M75.0 564.6h0.6M108.8 565.2h0.6M82.5 565.7h0.6M89.9 568.2h0.6M74.7 570.1h0.6M70.6 571.2h0.6M89.9 565.9h0.6M81.6 569.1h0.6M102.1 567.2h0.6M72.6 567.0h0.6M77.4 567.1h0.6M73.4 567.2h0.6M74.0 565.4h0.6M77.7 570.0h0.6M80.9 561.2h0.6M75.9 570.7h0.6M78.7 571.7h0.6M73.1 568.3h0.6M83.9 570.1h0.6M76.3 568.6h0.6M82.8 566.0h0.6M77.9 570.0h0.6M75.0 566.0h0.6M79.4 563.6h0.6M91.5 566.3h0.6M77.8 567.0h0.6M89.1 570.9h0.6M96.7 568.3h0.6M75.5 571.9h0.6M77.0 569.2h0.6M75.2 569.1h0.6M79.0 565.6h0.6M78.3 566.2h0.6M77.2 568.7h0.6M87.6 574.0h0.6M71.8 567.9h0.6M90.3 569.1h0.6M85.3 569.8h0.6M87.5 564.1h0.6M81.6 571.9h0.6M72.7 567.3h0.6M89.4 570.8h0.6M115.1 570.7h0.6M75.0 570.9h0.6M88.1 568.9h0.6M75.6 568.7h0.6M118.3 568.0h0.6M83.6 572.5h0.6M73.5 570.5h0.6M73.2 569.9h0.6M77.6 566.7h0.6M78.6 569.3h0.6M75.2 566.1h0.6M74.4 566.6h0.6M84.9 573.5h0.6M81.6 568.1h0.6M72.4 566.1h0.6M88.6 558.9h0.6M78.6 566.8h0.6M100.6 564.4h0.6M75.0 567.7h0.6M88.2 570.1h0.6M89.7 567.8h0.6M83.0 563.6h0.6M70.8 569.6h0.6M81.3 569.6h0.6M71.9 568.4h0.6M73.1 571.8h0.6M75.3 566.2h0.6M72.4 566.9h0.6M76.5 569.1h0.6M75.7 568.4h0.6M75.9 560.8h0.6M92.5 563.1h0.6M72.1 571.5h0.6M77.0 570.3h0.6M82.6 566.9h0.6M73.7 567.9h0.6M127.5 563.5h0.6M77.0 566.3h0.6M81.1 562.9h0.6M80.7 565.6h0.6M73.6 567.8h0.6M91.4 571.2h0.6M104.0 566.8h0.6M89.9 568.1h0.6M76.6 567.9h0.6M81.2 565.1h0.6M93.2 573.7h0.6M80.8 566.3h0.6M89.4 566.7h0.6M75.5 561.9h0.6M86.1 566.1h0.6M75.4 563.5h0.6M85.6 572.1h0.6M73.9 564.5h0.6M73.1 567.7h0.6M89.5 568.5h0.6M83.1 563.7h0.6M79.0 568.3h0.6M81.1 567.2h0.6M92.8 570.0h0.6M108.0 571.2h0.6M95.6 568.7h0.6M96.8 568.8h0.6M88.3 567.1h0.6M80.6 568.3h0.6M85.8 575.2h0.6M86.2 565.6h0.6M76.9 564.5h0.6M73.3 567.1h0.6M96.8 572.1h0.6M81.3 563.2h0.6M72.2 567.3h0.6M89.6 567.6h0.6M96.2 569.8h0.6M73.2 570.6h0.6M81.2 569.9h0.6M74.2 566.3h0.6M73.2 565.0h0.6M82.6 564.1h0.6M73.8 564.2h0.6M76.2 566.5h0.6M109.0 566.7h0.6M73.1 567.5h0.6M72.3 567.3h0.6M108.7 567.5h0.6M126.3 567.8h0.6M90.7 570.5h0.6M91.4 568.4h0.6M71.7 568.0h0.6M78.4 569.4h0.6M91.7 566.8h0.6M84.1 570.0h0.6M81.9 568.4h0.6M80.0 571.0h0.6M74.0 569.1h0.6M89.0 565.1h0.6M74.0 567.6h0.6M87.0 566.4h0.6M75.2 563.8h0.6M73.1 566.2h0.6M74.4 569.9h0.6M84.8 563.6h0.6M105.7 566.0h0.6M97.8 568.6h0.6M71.7 568.4h0.6M105.8 569.0h0.6M73.1 563.7h0.6M84.7 567.0h0.6M110.5 560.6h0.6M103.7 565.5h0.6M82.3 564.8h0.6M80.4 569.3h0.6M79.8 566.9h0.6M87.7 560.6h0.6M90.1 565.1h0.6M79.0 569.8h0.6M94.9 567.6h0.6M75.9 570.2h0.6M75.6 570.1h0.6M79.5 572.7h0.6M75.9 567.5h0.6M74.6 566.7h0.6M77.1 561.4h0.6M82.0 567.3h0.6M95.4 567.8h0.6M91.0 564.1h0.6M80.9 567.4h0.6M83.8 568.5h0.6M87.5 569.2h0.6M74.5 565.4h0.6M77.6 565.8h0.6M94.4 571.0h0.6M72.8 566.3h0.6M82.3 571.5h0.6M71.1 571.5h0.6M70.7 572.4h0.6M105.2 567.6h0.6M122.5 567.8h0.6M91.4 565.5h0.6M76.9 565.5h0.6M72.0 568.3h0.6M79.2 566.2h0.6M84.7 560.0h0.6M84.3 565.2h0.6M72.9 569.2h0.6M74.1 565.8h0.6M78.2 564.4h0.6M139.9 565.8h0.6M75.7 566.3h0.6M71.8 567.4h0.6M78.4 569.9h0.6M86.6 567.8h0.6M116.7 570.0h0.6M72.9 566.8h0.6M76.0 575.9h0.6M75.6 565.2h0.6M88.9 567.7h0.6M81.8 570.9h0.6M82.4 568.0h0.6M81.8 569.8h0.6M101.5 561.6h0.6M79.0 563.9h0.6M70.7 570.6h0.6M72.7 570.1h0.6M78.1 569.6h0.6M90.1 562.2h0.6M81.6 571.4h0.6M134.4 571.8h0.6M72.4 568.2h0.6M114.3 572.6h0.6M101.5 567.3h0.6M71.0 570.1h0.6M76.2 568.0h0.6M76.5 568.5h0.6M92.6 568.1h0.6M75.2 565.0h0.6M112.4 567.2h0.6M97.7 565.7h0.6M71.9 567.2h0.6M86.3 567.0h0.6M74.7 562.0h0.6M75.8 572.9h0.6M84.6 567.7h0.6M75.2 565.9h0.6M91.1 568.1h0.6M85.9 570.5h0.6M72.3 566.3h0.6M74.9 565.3h0.6M75.7 571.7h0.6M90.1 561.6h0.6M77.1 561.1h0.6M75.4 571.1h0.6M76.6 567.3h0.6M78.6 567.2h0.6M94.3 562.7h0.6M85.3 567.3h0.6M91.6 566.6h0.6M75.0 567.2h0.6M81.3 569.9h0.6M97.1 571.2h0.6M95.2 571.6h0.6M81.1 570.6h0.6M82.8 563.9h0.6M72.1 568.4h0.6M86.7 565.4h0.6M86.9 565.5h0.6M82.9 568.7h0.6M90.4 571.1h0.6M74.4 564.2h0.6M89.8 563.8h0.6M105.8 570.4h0.6M70.7 570.0h0.6M75.3 565.5h0.6M82.8 560.3h0.6M113.3 568.8h0.6M79.3 568.3h0.6M76.8 571.6h0.6M78.6 563.9h0.6M74.1 568.9h0.6M81.3 569.9h0.6M72.3 573.7h0.6M84.5 564.0h0.6M92.7 568.0h0.6M74.4 565.8h0.6M78.3 563.5h0.6M73.5 569.3h0.6M73.7 563.2h0.6M79.0 567.5h0.6M81.8 563.4h0.6M71.4 568.0h0.6M94.6 571.3h0.6M74.7 568.8h0.6M81.0 562.7h0.6M78.3 565.6h0.6M72.8 566.6h0.6M73.6 571.5h0.6M72.3 568.8h0.6M80.8 568.6h0.6M82.3 568.5h0.6M74.9 572.8h0.6M95.5 568.3h0.6M74.9 575.0h0.6M86.1 569.6h0.6M73.1 569.6h0.6M78.2 562.6h0.6M72.3 570.7h0.6M80.5 572.2h0.6M75.1 571.3h0.6M75.8 564.8h0.6M83.1 573.1h0.6M95.0 567.3h0.6M84.7 565.8h0.6M72.5 565.8h0.6M79.7 568.5h0.6M72.5 566.1h0.6M77.9 575.0h0.6M78.6 569.6h0.6M77.5 565.6h0.6M97.1 567.8h0.6M78.6 561.5h0.6M70.8 570.2h0.6M76.3 564.6h0.6M79.5 564.9h0.6M87.2 563.6h0.6M71.0 568.7h0.6M77.4 563.9h0.6M89.8 566.2h0.6M78.2 570.7h0.6M80.4 567.8h0.6M80.3 570.6h0.6M74.8 567.2h0.6M76.3 568.1h0.6M92.9 573.6h0.6M79.7 565.2h0.6M72.4 567.8h0.6M88.4 564.0h0.6M74.5 568.6h0.6M100.2 570.5h0.6M91.2 570.6h0.6M97.3 564.5h0.6M74.2 571.0h0.6M92.2 566.9h0.6M76.3 568.8h0.6M85.9 567.7h0.6M76.9 562.9h0.6M76.0 568.9h0.6M88.3 566.4h0.6M77.1 564.0h0.6M79.0 564.2h0.6M80.8 573.0h0.6M76.4 565.9h0.6M74.2 565.5h0.6M72.8 565.9h0.6M82.0 559.7h0.6M71.5 568.7h0.6M81.9 569.0h0.6M76.9 563.8h0.6M77.4 569.0h0.6M93.0 570.8h0.6M78.2 566.6h0.6M81.8 567.0h0.6M92.0 569.0h0.6M72.9 566.2h0.6M77.3 566.2h0.6M76.7 566.6h0.6M89.4 570.7h0.6M72.6 566.2h0.6M73.8 571.1h0.6M72.1 566.1h0.6M142.7 566.7h0.6M75.6 565.9h0.6M80.4 573.5h0.6M78.8 568.2h0.6M77.4 566.1h0.6M77.1 566.2h0.6M76.8 573.7h0.6M106.9 566.0h0.6M87.4 568.4h0.6M72.5 568.0h0.6M75.0 564.0h0.6M81.2 572.2h0.6M86.4 563.9h0.6M79.2 570.9h0.6M75.8 566.6h0.6M77.0 568.7h0.6M88.9 568.4h0.6M75.2 567.5h0.6M87.9 568.0h0.6M98.8 572.6h0.6M78.4 564.7h0.6M73.9 566.8h0.6M92.9 573.8h0.6M71.5 572.6h0.6M82.4 560.2h0.6M76.7 569.8h0.6M82.7 567.1h0.6M92.4 570.9h0.6M75.2 565.7h0.6M87.2 564.5h0.6M100.4 567.0h0.6M78.6 568.0h0.6M73.5 571.5h0.6M79.4 568.2h0.6M74.1 567.5h0.6M138.3 573.3h0.6M74.8 569.6h0.6M74.1 565.0h0.6M76.0 567.7h0.6M72.8 568.4h0.6M78.1 571.7h0.6M77.3 561.4h0.6M72.6 572.0h0.6M97.6 569.1h0.6M74.8 571.0h0.6M98.1 567.7h0.6M90.0 567.7h0.6M82.9 564.0h0.6M84.1 565.9h0.6M123.2 572.0h0.6M71.6 570.9h0.6M72.2 569.4h0.6M76.0 571.5h0.6M88.7 561.7h0.6M74.7 564.8h0.6M74.1 568.6h0.6M81.3 566.8h0.6M72.4 567.4h0.6M73.1 569.5h0.6M75.4 562.2h0.6M71.6 568.9h0.6M98.3 564.6h0.6M78.1 566.7h0.6M70.7 570.4h0.6M72.7 565.1h0.6M101.6 568.1h0.6M88.4 570.2h0.6M75.1 564.4h0.6M95.7 567.9h0.6M80.1 559.2h0.6M72.1 567.5h0.6M74.3 565.6h0.6M100.1 567.4h0.6M90.8 571.8h0.6M70.9 571.3h0.6M74.3 565.3h0.6M104.0 564.5h0.6M72.7 568.7h0.6M83.7 567.9h0.6M73.9 561.7h0.6M77.7 572.4h0.6M82.3 568.7h0.6M76.4 563.9h0.6M71.0 572.1h0.6M80.6 567.5h0.6M72.6 566.6h0.6M73.7 563.7h0.6M90.2 570.5h0.6M79.8 572.0h0.6M93.3 567.1h0.6M74.3 566.4h0.6M76.4 563.3h0.6M75.6 570.9h0.6M89.1 565.5h0.6M78.3 571.6h0.6M74.3 566.5h0.6M81.9 565.1h0.6M75.4 566.3h0.6M106.2 570.1h0.6M79.5 565.4h0.6M79.8 565.9h0.6M79.3 569.8h0.6M80.9 566.6h0.6M76.5 567.1h0.6M79.1 568.0h0.6M88.7 561.9h0.6M77.2 564.4h0.6M77.1 565.7h0.6M96.5 561.9h0.6M76.8 567.4h0.6M77.1 566.2h0.6M72.3 567.4h0.6M77.7 565.9h0.6M75.2 566.5h0.6M71.7 568.2h0.6M70.6 569.9h0.6M82.3 571.5h0.6M83.7 563.7h0.6M74.6 570.8h0.6M76.6 561.2h0.6M85.6 562.7h0.6M75.6 565.8h0.6M72.1 567.3h0.6M79.5 568.2h0.6M74.4 568.6h0.6M90.7 568.0h0.6M73.4 571.6h0.6M83.3 565.1h0.6M81.8 570.4h0.6M85.4 564.5h0.6M74.0 571.7h0.6M74.0 566.0h0.6M72.7 569.2h0.6M82.1 574.5h0.6M83.8 570.0h0.6M88.1 566.5h0.6M86.2 563.6h0.6M74.4 568.2h0.6M70.3 570.0h0.6M83.1 566.3h0.6M104.3 564.7h0.6M86.0 573.4h0.6M72.9 572.6h0.6M73.9 563.3h0.6M85.6 570.4h0.6M79.3 570.4h0.6M86.9 565.8h0.6M84.8 568.7h0.6M81.6 570.2h0.6M100.1 561.8h0.6M71.5 572.5h0.6M74.8 563.0h0.6M72.7 567.1h0.6M72.3 567.4h0.6M75.1 568.9h0.6M105.4 563.9h0.6M92.8 570.1h0.6M74.8 572.0h0.6M100.7 563.6h0.6M93.0 573.0h0.6M86.8 570.0h0.6M74.9 568.2h0.6M76.0 564.8h0.6M96.9 562.1h0.6M88.0 570.4h0.6M78.7 570.8h0.6M88.0 562.1h0.6M72.9 568.8h0.6M78.9 563.2h0.6M78.4 565.8h0.6M84.9 565.2h0.6M78.5 568.2h0.6M80.7 567.4h0.6M91.4 571.2h0.6M161.7 565.0h0.6M128.8 563.6h0.6M97.3 567.3h0.6M92.5 567.5h0.6M113.5 570.4h0.6M87.4 570.8h0.6M104.1 562.4h0.6M106.8 563.0h0.6M110.2 568.6h0.6M90.7 567.4h0.6M168.8 566.7h0.6M103.8 563.9h0.6M81.9 570.2h0.6M106.5 573.8h0.6M117.8 560.9h0.6M83.5 563.9h0.6M86.5 571.8h0.6M108.4 574.3h0.6M113.8 564.1h0.6M103.7 562.9h0.6M127.9 567.5h0.6M104.0 572.6h0.6M88.9 567.7h0.6M115.3 563.8h0.6M85.1 568.3h0.6M79.6 565.9h0.6M78.4 570.7h0.6M89.0 570.7h0.6M148.1 562.9h0.6M81.8 570.0h0.6M83.2 568.4h0.6M80.9 568.9h0.6M91.7 570.7h0.6M78.8 570.5h0.6M77.5 566.2h0.6M96.5 567.3h0.6M94.9 570.5h0.6M84.8 565.1h0.6M182.4 569.9h0.6M96.9 565.9h0.6M102.2 563.4h0.6M109.5 572.4h0.6M90.1 568.1h0.6M84.9 569.2h0.6M88.9 570.6h0.6M82.5 563.1h0.6M97.5 575.8h0.6M166.5 564.1h0.6M82.1 566.0h0.6M77.5 568.1h0.6M110.5 567.6h0.6M115.7 566.2h0.6M86.9 570.1h0.6M89.6 568.8h0.6M104.8 572.5h0.6M83.8 567.1h0.6M84.0 565.9h0.6M106.5 567.5h0.6M88.4 564.4h0.6M127.3 566.4h0.6M123.1 563.9h0.6M109.2 570.1h0.6M174.4 571.1h0.6M77.2 575.4h0.6M80.0 564.6h0.6M81.1 566.8h0.6M79.9 573.4h0.6M105.3 568.9h0.6M81.6 574.0h0.6M80.2 567.8h0.6M91.1 567.7h0.6M89.4 566.7h0.6M82.5 568.3h0.6M97.8 563.6h0.6M97.1 577.2h0.6M78.5 564.9h0.6M82.6 569.8h0.6M85.6 563.6h0.6M77.3 571.5h0.6M102.0 567.6h0.6M103.9 572.5h0.6M85.4 569.3h0.6M81.3 567.2h0.6M105.0 573.5h0.6M98.2 571.7h0.6M104.9 566.8h0.6M97.3 565.4h0.6M98.8 569.0h0.6M94.6 559.7h0.6M156.8 563.7h0.6M79.7 571.6h0.6M108.1 566.6h0.6M82.5 574.4h0.6M84.5 571.0h0.6M100.1 572.7h0.6M82.3 570.7h0.6M80.2 569.7h0.6M150.4 561.3h0.6M76.9 566.7h0.6M112.3 565.1h0.6M81.0 566.6h0.6M80.1 567.1h0.6M146.9 562.2h0.6M118.5 573.3h0.6M103.7 572.4h0.6M109.1 565.0h0.6M100.0 567.7h0.6M77.9 566.6h0.6M84.6 568.0h0.6M84.0 567.1h0.6M88.4 567.3h0.6M77.6 561.8h0.6M121.2 571.4h0.6M96.9 562.4h0.6M79.1 571.4h0.6M116.7 568.7h0.6M134.4 570.1h0.6M97.3 568.2h0.6M94.2 571.4h0.6M88.8 567.2h0.6M83.7 562.3h0.6M157.0 568.2h0.6M120.5 565.6h0.6M95.8 566.8h0.6M91.1 567.0h0.6M79.9 570.6h0.6M122.2 573.2h0.6M98.0 569.2h0.6M101.9 567.8h0.6M79.4 561.9h0.6M81.8 569.5h0.6M133.5 573.9h0.6M102.3 570.7h0.6M79.5 567.4h0.6M124.7 562.5h0.6M111.4 571.5h0.6M83.1 572.0h0.6M90.4 567.1h0.6M105.0 563.8h0.6M110.3 565.8h0.6M77.0 570.4h0.6M78.1 570.3h0.6M261.4 570.9h0.6M118.0 571.3h0.6M129.8 563.6h0.6M93.2 566.5h0.6M80.5 575.1h0.6M89.8 567.0h0.6M88.4 565.0h0.6M101.6 569.0h0.6M97.3 567.6h0.6M82.1 561.8h0.6M106.2 575.0h0.6M86.2 561.8h0.6M89.7 564.6h0.6M130.8 567.3h0.6M88.1 567.8h0.6M93.1 563.9h0.6M143.5 569.9h0.6M97.9 570.1h0.6M78.3 568.3h0.6M78.9 568.3h0.6M97.4 570.9h0.6M78.0 567.7h0.6M77.1 568.7h0.6M94.5 573.2h0.6M98.1 567.2h0.6M81.1 561.1h0.6M83.3 566.0h0.6M80.6 571.6h0.6M86.4 568.9h0.6M146.4 569.9h0.6M89.2 563.7h0.6M96.0 573.8h0.6M78.4 567.0h0.6M124.3 568.7h0.6M77.5 569.5h0.6M98.9 569.2h0.6M109.4 562.9h0.6M131.7 566.4h0.6M109.5 568.9h0.6M104.1 564.6h0.6M93.7 568.3h0.6M95.1 574.8h0.6M108.7 562.7h0.6M80.2 565.6h0.6M80.8 567.4h0.6M79.1 569.2h0.6M116.7 571.1h0.6M145.9 564.5h0.6M90.5 565.4h0.6M83.2 569.4h0.6M76.3 569.4h0.6M87.3 565.9h0.6M88.4 565.6h0.6M112.7 566.2h0.6M82.9 566.7h0.6M91.2 572.1h0.6M79.3 568.3h0.6M123.4 569.5h0.6M87.5 570.5h0.6M95.6 566.6h0.6M122.9 568.4h0.6M101.1 567.8h0.6M105.8 571.6h0.6M82.0 569.7h0.6M81.8 565.9h0.6M124.5 567.1h0.6M121.5 569.2h0.6M136.9 563.3h0.6M78.2 564.4h0.6M81.7 571.1h0.6M98.6 572.8h0.6M78.0 565.9h0.6M83.1 570.2h0.6M94.5 568.1h0.6M96.2 569.8h0.6M123.1 568.2h0.6M78.4 568.4h0.6M84.9 563.8h0.6M102.4 566.5h0.6M120.7 569.3h0.6M106.2 567.7h0.6M110.1 573.3h0.6M80.8 562.1h0.6M83.7 569.8h0.6M80.9 573.4h0.6M78.8 570.8h0.6M89.6 567.5h0.6M77.3 566.0h0.6M94.7 566.9h0.6M82.2 565.3h0.6M97.5 569.5h0.6M88.8 571.3h0.6M94.2 565.0h0.6M80.4 569.4h0.6M202.4 565.7h0.6M77.8 566.4h0.6M83.8 568.3h0.6M87.8 568.3h0.6M92.4 567.9h0.6M78.3 565.2h0.6M77.0 568.5h0.6M78.1 564.9h0.6M82.4 562.9h0.6M113.3 568.0h0.6M124.8 568.0h0.6M102.3 568.7h0.6M84.1 574.1h0.6M119.2 571.2h0.6M93.9 563.7h0.6M85.9 563.5h0.6M132.8 562.2h0.6M80.0 567.2h0.6M81.2 565.2h0.6M106.1 569.7h0.6M78.5 572.6h0.6M81.2 566.8h0.6M90.2 563.7h0.6M81.0 570.6h0.6M101.0 561.7h0.6M128.7 571.3h0.6M77.8 572.0h0.6M80.0 570.2h0.6M151.4 570.8h0.6M96.2 564.9h0.6M160.7 568.2h0.6M126.8 567.7h0.6M80.7 567.6h0.6M87.5 568.4h0.6M92.3 574.2h0.6M94.4 570.5h0.6M91.6 569.2h0.6M103.0 570.7h0.6M107.7 567.9h0.6M128.8 567.3h0.6M92.8 570.3h0.6M91.8 570.3h0.6M89.5 571.2h0.6M108.8 565.0h0.6M108.4 578.0h0.6M82.8 567.0h0.6M102.0 561.8h0.6M131.2 567.7h0.6M81.4 571.3h0.6M80.3 566.8h0.6M112.6 566.8h0.6M86.2 565.0h0.6M93.6 557.8h0.6M124.4 571.8h0.6M93.5 561.7h0.6M94.7 567.6h0.6M82.8 563.0h0.6M125.1 563.2h0.6M100.9 565.1h0.6M106.4 564.7h0.6M79.2 568.0h0.6M87.4 558.5h0.6M76.5 565.7h0.6M85.3 573.2h0.6M128.8 566.2h0.6M81.0 564.7h0.6M127.8 570.5h0.6M98.4 558.8h0.6M91.9 565.5h0.6M127.9 564.6h0.6M107.2 564.9h0.6M95.8 565.8h0.6M98.8 572.5h0.6M87.3 567.8h0.6M85.0 570.8h0.6M95.6 563.3h0.6M103.6 568.1h0.6M76.4 569.2h0.6M83.9 561.3h0.6M112.0 564.5h0.6M204.4 561.3h0.6M136.1 564.9h0.6M77.4 573.7h0.6M148.0 561.0h0.6M80.9 569.8h0.6M166.7 568.3h0.6M79.5 565.4h0.6M142.0 565.0h0.6M101.0 563.0h0.6M85.3 575.4h0.6M148.8 570.5h0.6M110.0 562.8h0.6M77.0 571.4h0.6M76.3 568.4h0.6M138.8 571.6h0.6M85.5 573.0h0.6M83.1 573.1h0.6M135.4 562.8h0.6M96.2 567.2h0.6M88.4 563.3h0.6M88.0 573.7h0.6M80.3 569.2h0.6M84.6 576.6h0.6M89.3 571.1h0.6M85.6 576.4h0.6M181.4 571.1h0.6M103.2 560.6h0.6M85.3 563.1h0.6M84.1 567.9h0.6M121.1 561.6h0.6M77.0 560.3h0.6M119.4 571.7h0.6M85.9 563.9h0.6M94.6 567.8h0.6M96.6 565.3h0.6M90.6 570.5h0.6M143.9 569.4h0.6M138.2 572.1h0.6M106.2 566.1h0.6M119.6 571.7h0.6M97.4 570.7h0.6M95.8 567.2h0.6M95.2 568.7h0.6M76.8 568.9h0.6M157.9 566.0h0.6M120.8 569.5h0.6M128.2 572.5h0.6M76.6 566.8h0.6M136.9 570.4h0.6M123.6 565.3h0.6M101.3 567.7h0.6M97.7 568.4h0.6M87.7 561.4h0.6M80.9 565.9h0.6M79.1 566.5h0.6M97.8 576.5h0.6M206.3 569.1h0.6M119.7 569.6h0.6M84.9 570.1h0.6M83.1 564.6h0.6M79.5 565.3h0.6M134.9 568.4h0.6M92.0 562.9h0.6M83.0 565.0h0.6M84.5 566.6h0.6M92.2 571.8h0.6M132.9 571.0h0.6M122.8 563.9h0.6M84.0 575.2h0.6M87.8 571.9h0.6M91.0 572.7h0.6M98.4 568.0h0.6M80.5 565.0h0.6M141.0 572.0h0.6M208.0 571.9h0.6M87.4 571.0h0.6M94.0 565.8h0.6M125.7 564.6h0.6M111.3 569.4h0.6M121.1 569.0h0.6M137.9 571.0h0.6M95.1 565.5h0.6M87.7 563.9h0.6M103.3 557.9h0.6M89.4 569.1h0.6M98.4 555.6h0.6M100.7 565.7h0.6M77.2 570.0h0.6M92.2 575.8h0.6M110.9 566.5h0.6M126.0 571.4h0.6M78.7 572.8h0.6M82.7 573.0h0.6M102.6 561.7h0.6M103.4 571.5h0.6M90.7 567.4h0.6M90.7 565.9h0.6M93.1 571.1h0.6M146.6 574.1h0.6M77.6 569.9h0.6M107.6 573.6h0.6M81.2 568.3h0.6M125.0 568.9h0.6M95.0 569.4h0.6M114.2 571.9h0.6M86.4 570.1h0.6M101.7 568.1h0.6M81.9 571.6h0.6M95.4 568.7h0.6M106.2 564.9h0.6M176.6 572.1h0.6M106.6 566.3h0.6M78.1 567.5h0.6M84.7 565.7h0.6M92.9 564.0h0.6M90.6 566.6h0.6M118.1 564.0h0.6M88.7 567.8h0.6M97.6 565.0h0.6M88.1 562.2h0.6M91.2 560.8h0.6M101.4 559.7h0.6M80.5 572.1h0.6M110.1 565.7h0.6M94.4 561.6h0.6M107.1 571.3h0.6M84.6 571.9h0.6M96.2 568.0h0.6M97.1 570.5h0.6M78.0 570.7h0.6M92.5 571.1h0.6M96.4 557.9h0.6M97.0 572.5h0.6M212.3 566.3h0.6M140.0 573.1h0.6M86.2 568.0h0.6M132.6 566.9h0.6M97.9 573.9h0.6M85.9 570.2h0.6M79.3 571.4h0.6M102.5 566.8h0.6M86.0 565.9h0.6M81.3 566.9h0.6M113.9 561.9h0.6M114.4 567.7h0.6M102.1 566.1h0.6M83.3 566.3h0.6M133.0 562.6h0.6M100.1 566.0h0.6M91.8 564.4h0.6M81.6 573.7h0.6M79.8 569.4h0.6M110.9 562.0h0.6M85.4 570.7h0.6M96.3 562.5h0.6M156.8 571.6h0.6M84.9 564.1h0.6M111.2 572.9h0.6M78.4 573.9h0.6M81.1 560.9h0.6M116.8 571.3h0.6M140.9 559.1h0.6M101.2 569.1h0.6M77.1 569.6h0.6M102.7 567.7h0.6M92.0 571.1h0.6M79.5 570.0h0.6M146.2 569.4h0.6M149.8 563.8h0.6M95.5 566.7h0.6M180.9 572.2h0.6M80.5 567.9h0.6M101.5 566.9h0.6M78.1 566.9h0.6M76.8 568.7h0.6M92.9 568.3h0.6M109.3 566.0h0.6M106.6 570.1h0.6M96.1 567.7h0.6M81.1 566.0h0.6M80.9 568.1h0.6M97.0 568.1h0.6M79.9 569.8h0.6M84.2 570.8h0.6M100.2 562.2h0.6M81.3 571.7h0.6M84.5 566.7h0.6M199.0 570.3h0.6M99.3 568.6h0.6M84.0 565.3h0.6M85.4 567.7h0.6M129.7 562.8h0.6M156.7 563.1h0.6M82.1 567.2h0.6M83.4 567.7h0.6M82.4 573.5h0.6M96.3 565.9h0.6M79.1 567.4h0.6M92.2 570.8h0.6M112.4 573.2h0.6M79.4 569.5h0.6M115.2 565.2h0.6M88.6 571.4h0.6M126.1 572.3h0.6M90.5 567.5h0.6M89.1 565.9h0.6M78.0 570.2h0.6M138.0 570.9h0.6M124.6 568.0h0.6M110.6 562.4h0.6M252.2 569.2h0.6M79.8 568.3h0.6M83.1 560.7h0.6M89.3 568.6h0.6M149.0 569.8h0.6M93.3 570.4h0.6M87.8 568.2h0.6M87.2 565.9h0.6M100.2 570.7h0.6M133.0 572.4h0.6M139.4 566.6h0.6M90.3 560.7h0.6M85.5 568.7h0.6M93.3 562.7h0.6M90.7 568.2h0.6M111.3 562.6h0.6M109.4 564.2h0.6M88.2 571.0h0.6M129.9 569.2h0.6M108.3 571.2h0.6M93.9 563.7h0.6M103.6 562.0h0.6M79.8 564.2h0.6M98.0 570.8h0.6M88.8 565.8h0.6M98.8 576.7h0.6M82.6 563.9h0.6M105.2 572.2h0.6M81.1 564.4h0.6M93.5 570.8h0.6M97.8 562.9h0.6M102.4 564.7h0.6M140.0 560.1h0.6M78.8 568.8h0.6M117.4 566.7h0.6M95.9 563.0h0.6M86.1 568.2h0.6M79.5 566.5h0.6M83.1 567.5h0.6M76.9 569.5h0.6M78.3 567.0h0.6M170.8 573.4h0.6M92.8 571.4h0.6M110.5 564.3h0.6M81.9 574.6h0.6M83.1 568.0h0.6M106.8 570.4h0.6M85.6 573.5h0.6M84.6 572.1h0.6M146.3 574.6h0.6M96.8 569.7h0.6M90.6 565.9h0.6M102.0 573.6h0.6M77.0 572.6h0.6M77.9 572.2h0.6M87.3 566.7h0.6M85.7 571.0h0.6M89.5 569.0h0.6M101.8 571.3h0.6M90.9 567.9h0.6M77.2 569.1h0.6M105.5 566.8h0.6M110.5 562.6h0.6M91.1 570.3h0.6M81.3 565.3h0.6M113.8 570.0h0.6M85.4 570.8h0.6M81.0 575.1h0.6M88.0 572.2h0.6M129.1 569.0h0.6M77.4 568.0h0.6M93.4 569.1h0.6M108.9 566.1h0.6M96.8 565.2h0.6M82.5 571.2h0.6M90.9 565.2h0.6M83.0 567.4h0.6M77.2 564.4h0.6M102.6 565.9h0.6M90.3 563.4h0.6M99.2 570.5h0.6M125.5 568.4h0.6M78.6 572.1h0.6M121.2 566.4h0.6M77.8 574.6h0.6M80.0 571.8h0.6M86.0 564.1h0.6M86.8 569.0h0.6M112.2 567.2h0.6M96.7 567.0h0.6M121.0 570.2h0.6M91.4 569.6h0.6M93.2 566.3h0.6M148.7 568.0h0.6M78.4 574.2h0.6M105.1 566.1h0.6M87.7 570.1h0.6M77.8 569.1h0.6M83.5 563.6h0.6M103.2 572.3h0.6M118.9 572.2h0.6M102.5 568.6h0.6M115.1 569.0h0.6M107.7 568.2h0.6M96.1 572.1h0.6M80.9 564.5h0.6M93.4 565.0h0.6M79.6 569.0h0.6M103.5 571.5h0.6M86.8 570.8h0.6M88.2 567.8h0.6M79.2 563.9h0.6M91.6 567.7h0.6M86.1 569.0h0.6M88.8 576.5h0.6M92.3 561.7h0.6M91.8 566.0h0.6M108.9 574.1h0.6M93.0 571.9h0.6M102.5 565.5h0.6M82.2 568.2h0.6M82.6 566.0h0.6M92.2 572.9h0.6M92.4 567.6h0.6M123.7 568.8h0.6M78.9 571.2h0.6M153.5 569.6h0.6M138.5 567.8h0.6M99.9 568.6h0.6M126.1 564.4h0.6M78.6 563.5h0.6M114.6 567.6h0.6M84.1 564.6h0.6M171.7 566.4h0.6M88.0 569.2h0.6M77.1 565.0h0.6M89.9 570.3h0.6M98.6 566.4h0.6M123.0 571.3h0.6M96.7 564.8h0.6M82.2 572.2h0.6M84.1 576.0h0.6M82.7 568.5h0.6M79.6 563.4h0.6M88.6 567.6h0.6M100.5 564.0h0.6M127.3 569.1h0.6M88.2 571.1h0.6M80.9 561.2h0.6M109.1 570.3h0.6M76.9 566.4h0.6M152.9 566.1h0.6M102.2 572.3h0.6M99.4 569.5h0.6M94.8 572.4h0.6M97.2 560.2h0.6M78.6 563.4h0.6M87.0 569.1h0.6M108.3 568.7h0.6M87.7 568.2h0.6M87.1 569.2h0.6M167.2 571.0h0.6M79.7 566.6h0.6M100.8 566.0h0.6M84.7 570.9h0.6M101.6 574.5h0.6M92.2 568.9h0.6M167.4 569.7h0.6M96.7 563.6h0.6M87.7 573.5h0.6M128.4 568.7h0.6M81.4 571.3h0.6M149.2 567.0h0.6M114.6 561.2h0.6M94.6 579.4h0.6M138.3 574.9h0.6M72.7 568.1h0.6M78.5 576.3h0.6M67.9 578.1h0.6M98.1 571.9h0.6M86.2 565.1h0.6M105.4 580.6h0.6M96.7 568.1h0.6M97.9 560.1h0.6M94.1 565.4h0.6M74.3 569.6h0.6M98.0 572.1h0.6M79.1 556.1h0.6M95.7 566.5h0.6M73.6 571.3h0.6M81.1 567.3h0.6M79.1 577.6h0.6M83.7 568.6h0.6M84.5 570.8h0.6M89.5 565.1h0.6M152.5 567.6h0.6M82.3 568.8h0.6M84.8 575.1h0.6M121.9 572.5h0.6M75.4 567.5h0.6M79.8 581.5h0.6M75.5 564.2h0.6M123.6 568.1h0.6M91.3 566.5h0.6M102.7 563.4h0.6M160.3 569.1h0.6M113.9 563.5h0.6M122.7 569.1h0.6M132.7 574.8h0.6M96.1 563.6h0.6M103.7 568.5h0.6M147.9 568.7h0.6M105.0 570.3h0.6M86.1 566.6h0.6M133.1 562.5h0.6M98.6 573.4h0.6M102.6 570.8h0.6M78.4 569.4h0.6M85.8 564.9h0.6M73.8 568.3h0.6M97.2 558.5h0.6M69.2 572.1h0.6M86.7 578.6h0.6M91.6 568.7h0.6M93.1 566.5h0.6M71.2 569.0h0.6M83.4 574.4h0.6M75.6 571.1h0.6M71.1 574.6h0.6M115.7 575.1h0.6M83.8 581.9h0.6M100.6 570.8h0.6M141.3 572.3h0.6M67.1 576.0h0.6M120.7 573.7h0.6M86.6 570.0h0.6M84.2 578.2h0.6M72.7 581.0h0.6M85.3 570.9h0.6M85.3 564.0h0.6M147.7 564.1h0.6M92.7 574.9h0.6M70.7 570.5h0.6M115.1 573.7h0.6M79.9 572.6h0.6M71.9 567.6h0.6M73.9 567.8h0.6M107.2 566.3h0.6M74.4 572.1h0.6M133.2 574.0h0.6M74.8 571.0h0.6M120.5 570.0h0.6M98.5 566.7h0.6M108.3 567.1h0.6M110.9 570.0h0.6M73.7 569.2h0.6M68.0 576.0h0.6M75.5 569.9h0.6M69.6 571.3h0.6M135.5 561.2h0.6M100.1 572.6h0.6M72.3 573.4h0.6M83.6 573.4h0.6M74.0 574.1h0.6M83.5 578.1h0.6M84.9 578.5h0.6M88.8 577.9h0.6M120.7 576.4h0.6M73.0 564.2h0.6M72.8 570.1h0.6M105.6 568.5h0.6M71.9 570.9h0.6M85.9 571.9h0.6M82.3 574.2h0.6M79.0 561.3h0.6M89.5 568.1h0.6M135.5 566.5h0.6M120.3 567.1h0.6M116.9 576.7h0.6M121.6 568.2h0.6M69.9 573.7h0.6M121.1 567.0h0.6M82.7 570.0h0.6M85.9 566.5h0.6M89.7 574.2h0.6M88.2 565.1h0.6M85.3 570.7h0.6M144.2 571.8h0.6M71.0 571.2h0.6M76.8 570.6h0.6M76.8 577.2h0.6M76.6 577.4h0.6M80.0 571.7h0.6M82.2 565.3h0.6M84.3 567.6h0.6M76.1 570.5h0.6M85.5 571.2h0.6M127.7 570.1h0.6M115.3 573.5h0.6M104.6 567.9h0.6M94.7 559.5h0.6M69.4 580.6h0.6M166.9 566.9h0.6M103.2 571.5h0.6M129.4 569.4h0.6M77.5 570.2h0.6M99.3 563.7h0.6M70.4 570.7h0.6M70.7 572.3h0.6M73.3 572.8h0.6M95.6 568.5h0.6M91.2 562.2h0.6M91.4 576.4h0.6M73.0 565.2h0.6M86.4 560.6h0.6M72.7 571.0h0.6M75.0 571.9h0.6M100.5 573.6h0.6M85.9 572.6h0.6M105.4 572.2h0.6M87.5 566.8h0.6M122.4 568.0h0.6M123.4 563.5h0.6M78.7 572.0h0.6M103.2 565.8h0.6M93.1 582.5h0.6M86.9 578.2h0.6M105.4 562.4h0.6M96.2 562.5h0.6M104.3 570.7h0.6M68.1 558.7h0.6M101.7 558.9h0.6M80.1 572.0h0.6M79.5 569.1h0.6M101.9 565.8h0.6M92.6 565.8h0.6M99.0 571.0h0.6M68.1 559.1h0.6M74.7 563.8h0.6M81.5 575.7h0.6M69.3 573.3h0.6M94.2 574.3h0.6M84.1 574.9h0.6M80.3 567.1h0.6M167.1 563.3h0.6M96.0 558.3h0.6M71.5 571.8h0.6M125.1 571.2h0.6M94.3 568.9h0.6M123.7 574.3h0.6M106.7 574.4h0.6M103.1 558.9h0.6M94.8 572.9h0.6M87.9 561.0h0.6M75.5 574.6h0.6M74.2 568.9h0.6M71.9 567.5h0.6M77.8 567.1h0.6M81.5 566.1h0.6M97.3 559.9h0.6M94.1 575.9h0.6M73.9 567.5h0.6M98.3 579.1h0.6M72.8 572.3h0.6M87.8 558.6h0.6M119.0 564.4h0.6M77.5 567.0h0.6M83.3 569.5h0.6M73.4 566.4h0.6M80.2 575.1h0.6M81.4 572.7h0.6M113.4 565.5h0.6M90.5 566.2h0.6M87.9 566.1h0.6M69.4 573.1h0.6M112.5 580.2h0.6M111.2 576.1h0.6M116.9 563.3h0.6M91.5 563.2h0.6M94.0 566.7h0.6M136.8 576.1h0.6M71.2 568.9h0.6M151.0 576.9h0.6M100.3 570.7h0.6M91.4 564.9h0.6M70.5 572.4h0.6M73.9 569.7h0.6M90.4 574.4h0.6M83.6 573.2h0.6M77.1 571.4h0.6M87.4 573.2h0.6M75.5 565.8h0.6M100.9 570.5h0.6M66.6 559.1h0.6M83.8 567.2h0.6M123.1 567.6h0.6M81.4 568.0h0.6M83.9 562.0h0.6M77.7 563.2h0.6M78.6 568.7h0.6M102.4 556.8h0.6M90.8 573.0h0.6M77.7 576.2h0.6M79.9 566.4h0.6M76.7 557.4h0.6M93.6 574.0h0.6M131.5 567.1h0.6M88.9 560.9h0.6M114.9 571.0h0.6M87.5 575.1h0.6M68.5 583.1h0.6M130.7 573.4h0.6M83.4 574.1h0.6M207.9 574.8h0.6M119.8 570.1h0.6M97.2 577.4h0.6M78.9 566.0h0.6M204.9 558.8h0.6M68.7 559.4h0.6M81.8 577.9h0.6M114.0 576.3h0.6M80.1 570.6h0.6M79.2 567.9h0.6M111.1 573.3h0.6M109.4 569.8h0.6M85.9 569.9h0.6M90.3 575.2h0.6M84.0 580.3h0.6M75.1 569.3h0.6M149.2 572.2h0.6M72.5 570.5h0.6M83.9 581.1h0.6M70.1 573.8h0.6M77.2 573.0h0.6M116.7 571.4h0.6M102.9 581.9h0.6M129.3 567.6h0.6M74.9 569.4h0.6M74.4 566.7h0.6M78.5 574.5h0.6M193.9 574.8h0.6M170.5 568.8h0.6M77.0 574.8h0.6M93.2 566.2h0.6M70.6 571.7h0.6M95.1 570.8h0.6M76.7 572.0h0.6M115.7 566.1h0.6M74.4 562.2h0.6M85.3 565.2h0.6M80.1 577.4h0.6M108.9 568.3h0.6M85.2 570.7h0.6M82.2 564.9h0.6M92.6 573.9h0.6M82.5 570.0h0.6M112.0 558.7h0.6M77.0 569.6h0.6M72.9 580.4h0.6M108.1 571.4h0.6M87.9 564.9h0.6M101.4 561.5h0.6M75.2 579.2h0.6M101.6 574.3h0.6M70.9 576.5h0.6M104.2 573.9h0.6M83.7 570.3h0.6M70.3 574.5h0.6M89.6 567.9h0.6M75.8 577.2h0.6M87.7 574.9h0.6M73.5 563.7h0.6M88.2 569.9h0.6M79.7 565.5h0.6M88.2 566.8h0.6M74.6 575.2h0.6M76.3 568.1h0.6M77.7 566.6h0.6M85.3 570.6h0.6M99.4 569.5h0.6M100.7 569.7h0.6M82.5 569.5h0.6M82.7 572.0h0.6M116.6 575.7h0.6M79.6 559.6h0.6M89.9 559.3h0.6M72.4 557.0h0.6M106.8 576.4h0.6M88.4 577.1h0.6M74.5 560.6h0.6M155.9 572.7h0.6M83.4 564.1h0.6M79.7 584.3h0.6M86.3 564.7h0.6M136.7 567.1h0.6M92.6 572.1h0.6M80.6 572.5h0.6M96.6 573.3h0.6M113.5 578.8h0.6M110.0 568.2h0.6M84.7 568.0h0.6M198.9 555.6h0.6M77.8 570.6h0.6M87.0 569.0h0.6M97.0 564.8h0.6M71.8 575.3h0.6M108.5 557.9h0.6M71.4 569.4h0.6M91.4 562.0h0.6M78.9 582.9h0.6M93.6 562.0h0.6M78.1 575.3h0.6M77.3 567.8h0.6M109.2 580.0h0.6M83.2 564.1h0.6M109.9 574.0h0.6M86.5 571.9h0.6M89.6 572.3h0.6M69.7 578.7h0.6M108.1 572.3h0.6M87.1 575.3h0.6M145.9 570.9h0.6M69.5 574.0h0.6M77.5 569.9h0.6M132.3 569.3h0.6M110.6 575.1h0.6M76.3 555.9h0.6M76.0 577.4h0.6M122.5 573.8h0.6M79.6 574.1h0.6M102.2 563.4h0.6M91.5 568.7h0.6M96.9 562.5h0.6M108.1 563.7h0.6M98.1 572.0h0.6M141.3 587.8h0.6M74.1 573.8h0.6M137.7 561.5h0.6M77.5 571.2h0.6M71.1 574.9h0.6M73.3 570.7h0.6M84.8 575.0h0.6M91.0 569.2h0.6M137.2 572.9h0.6M81.1 569.6h0.6M79.6 569.6h0.6M124.2 571.6h0.6M90.0 566.5h0.6M67.1 577.2h0.6M83.3 569.3h0.6M84.5 568.8h0.6M83.9 571.9h0.6M94.1 554.2h0.6M114.6 567.1h0.6M88.3 568.5h0.6M68.8 577.1h0.6M110.8 575.4h0.6M138.7 557.9h0.6M82.3 573.1h0.6M84.2 569.4h0.6M77.2 571.4h0.6M80.1 564.5h0.6M70.4 581.2h0.6M235.2 574.2h0.6M70.7 577.2h0.6M108.1 576.9h0.6M102.4 563.1h0.6M119.0 574.5h0.6M85.9 565.1h0.6M120.5 567.6h0.6M83.1 567.9h0.6M82.0 562.4h0.6M133.4 571.8h0.6M94.2 570.2h0.6M105.3 565.3h0.6M92.3 572.3h0.6M73.8 580.0h0.6M126.2 565.5h0.6M101.5 568.5h0.6M73.7 573.1h0.6M79.5 567.3h0.6M79.2 575.3h0.6M117.8 569.7h0.6M97.1 573.2h0.6M99.1 559.7h0.6M71.9 571.6h0.6M74.6 560.9h0.6M79.4 567.5h0.6M145.0 559.9h0.6M87.6 573.2h0.6M108.2 561.5h0.6M84.4 565.6h0.6M81.1 575.0h0.6M74.4 574.3h0.6M99.8 577.0h0.6M115.8 563.5h0.6M66.5 578.1h0.6M76.3 572.4h0.6M148.0 572.0h0.6M95.4 574.1h0.6M103.5 581.0h0.6M85.3 574.9h0.6M95.9 573.9h0.6M91.8 562.3h0.6M183.5 569.3h0.6M168.6 570.1h0.6M106.7 571.8h0.6M81.1 566.3h0.6M140.9 567.2h0.6M106.8 565.9h0.6M93.7 569.1h0.6M73.2 575.8h0.6M69.0 575.3h0.6M74.7 575.7h0.6M100.0 569.0h0.6M74.7 566.2h0.6M91.3 576.6h0.6M107.3 569.8h0.6M73.9 567.1h0.6M81.1 570.8h0.6M80.1 565.8h0.6M81.0 564.3h0.6M81.5 567.6h0.6M75.0 574.3h0.6M101.9 574.0h0.6M81.5 572.9h0.6M163.3 563.7h0.6M86.3 570.6h0.6M99.3 558.0h0.6M76.9 567.3h0.6M117.7 565.3h0.6M129.5 564.7h0.6M79.9 568.6h0.6M79.3 571.0h0.6M163.3 562.5h0.6M117.7 572.7h0.6M90.0 574.1h0.6M91.7 571.8h0.6M84.4 576.8h0.6M67.8 577.5h0.6M76.8 552.7h0.6M95.9 570.1h0.6M119.3 569.9h0.6M114.8 569.9h0.6M104.8 560.7h0.6M103.6 571.7h0.6M75.7 564.9h0.6M105.3 567.0h0.6M78.4 571.7h0.6M77.6 570.8h0.6M88.0 571.0h0.6M74.4 567.3h0.6M74.5 573.0h0.6M89.6 575.1h0.6M86.4 565.7h0.6M130.2 572.2h0.6M99.1 574.4h0.6M74.2 566.5h0.6M91.1 569.5h0.6M100.5 558.4h0.6M78.5 568.5h0.6M86.7 567.3h0.6M80.3 569.2h0.6M75.7 565.8h0.6M92.6 564.2h0.6M72.0 570.2h0.6M136.2 569.7h0.6M106.4 575.0h0.6M67.1 580.5h0.6M116.5 569.0h0.6M196.5 565.9h0.6M76.4 574.4h0.6M120.4 565.7h0.6M80.3 568.6h0.6M89.7 575.0h0.6M85.8 570.7h0.6M145.7 571.8h0.6M72.4 575.7h0.6M90.7 565.6h0.6M90.7 566.0h0.6M107.6 575.4h0.6M136.8 559.7h0.6M97.3 582.1h0.6M130.2 576.4h0.6M88.8 570.0h0.6M87.8 566.2h0.6M95.2 574.3h0.6M77.9 566.5h0.6M105.1 572.9h0.6M82.8 565.5h0.6M75.1 575.0h0.6M89.4 570.0h0.6M76.1 563.5h0.6M74.0 563.8h0.6M191.9 572.4h0.6M49.6 555.3h0.6M53.6 562.8h0.6M50.0 559.8h0.6M49.8 550.8h0.6M51.9 563.0h0.6M56.4 554.3h0.6M58.0 554.9h0.6M56.9 558.7h0.6M65.5 559.3h0.6M65.4 558.8h0.6M55.6 562.4h0.6M51.3 549.6h0.6M77.1 561.2h0.6M67.3 558.0h0.6M52.9 560.6h0.6M67.4 555.6h0.6M50.9 553.4h0.6M70.3 556.2h0.6M63.7 557.9h0.6M69.8 555.8h0.6M54.7 561.3h0.6M65.4 559.9h0.6M74.0 555.4h0.6M58.7 554.1h0.6M71.3 554.4h0.6M61.0 550.0h0.6M63.2 558.7h0.6M61.3 542.8h0.6M55.1 559.5h0.6M60.2 557.3h0.6M59.4 552.2h0.6M59.8 555.0h0.6M64.7 560.1h0.6M81.2 561.9h0.6M45.4 550.6h0.6M65.4 558.1h0.6M57.7 558.4h0.6M62.6 561.5h0.6M65.1 548.3h0.6M58.0 561.3h0.6M42.5 562.8h0.6M76.8 554.2h0.6M57.7 559.5h0.6M57.0 555.3h0.6M51.2 552.2h0.6M55.5 559.5h0.6M58.8 555.9h0.6M64.9 555.8h0.6M54.6 561.0h0.6M67.9 555.6h0.6M65.4 553.1h0.6M56.1 548.4h0.6M62.5 554.8h0.6M54.6 562.7h0.6M58.2 554.4h0.6M65.4 559.6h0.6M57.6 546.4h0.6M62.5 555.7h0.6M57.1 561.4h0.6M63.9 553.0h0.6M66.6 555.9h0.6M70.2 551.7h0.6M57.6 552.6h0.6M67.1 559.4h0.6M69.5 557.8h0.6M60.0 555.2h0.6M70.1 550.6h0.6M53.3 547.5h0.6M60.8 550.6h0.6M65.4 553.4h0.6M53.1 554.2h0.6M51.7 557.2h0.6M69.0 558.7h0.6M56.0 552.2h0.6M57.6 556.0h0.6M71.7 557.3h0.6M49.7 562.4h0.6M41.9 561.5h0.6M43.2 561.7h0.6M53.6 561.9h0.6M61.1 562.1h0.6M72.4 557.5h0.6M60.5 555.2h0.6M59.1 553.6h0.6M56.6 555.2h0.6M56.3 562.5h0.6M70.0 557.3h0.6M67.8 556.0h0.6M61.2 560.4h0.6M64.0 555.2h0.6M60.5 561.5h0.6M62.1 561.1h0.6M67.9 559.5h0.6M63.8 559.8h0.6M43.1 559.5h0.6M61.0 556.0h0.6M57.1 559.6h0.6M64.6 553.7h0.6M59.6 549.1h0.6M77.5 557.4h0.6M58.6 550.1h0.6M46.7 559.3h0.6M64.8 556.4h0.6M53.3 555.1h0.6M62.6 555.8h0.6M80.8 555.0h0.6M67.7 559.8h0.6M74.3 549.8h0.6M63.4 560.2h0.6M51.1 558.9h0.6M55.7 555.1h0.6M79.4 553.7h0.6M63.5 560.6h0.6M55.6 559.5h0.6M92.1 560.4h0.6M65.3 559.4h0.6M76.7 551.6h0.6M60.3 559.5h0.6M57.9 560.2h0.6M58.6 555.2h0.6M66.8 551.1h0.6M64.8 560.2h0.6M50.1 552.7h0.6M80.2 555.2h0.6M56.3 555.1h0.6M57.7 560.5h0.6M58.8 558.7h0.6M67.1 556.0h0.6M60.9 561.5h0.6M64.4 551.0h0.6M57.6 558.4h0.6M69.8 555.6h0.6M65.4 556.8h0.6M74.3 562.8h0.6M57.2 552.9h0.6M64.6 555.7h0.6M47.5 554.4h0.6M56.7 562.7h0.6M61.3 553.1h0.6M52.0 557.4h0.6M54.9 557.1h0.6M57.6 558.9h0.6M58.6 552.0h0.6M59.9 553.1h0.6M59.5 562.5h0.6M64.0 559.5h0.6M63.8 558.9h0.6M69.6 557.4h0.6M116.8 546.8h0.6M100.8 554.1h0.6M90.6 554.8h0.6M86.8 551.1h0.6M85.4 550.6h0.6M135.9 550.8h0.6M83.2 553.2h0.6M95.9 554.4h0.6M95.3 546.2h0.6M86.8 550.6h0.6M99.3 534.8h0.6M84.7 549.7h0.6M83.8 555.5h0.6M115.2 536.9h0.6M88.9 549.2h0.6M116.0 555.6h0.6M87.3 551.5h0.6M88.2 547.9h0.6M97.8 553.5h0.6M80.8 554.8h0.6M96.3 553.5h0.6M121.1 548.0h0.6M96.2 555.2h0.6M89.0 548.4h0.6M85.8 551.8h0.6" stroke="#000" stroke-width="0.6" fill="none" clip-path="url(#d1)"/>
<path d="M49.3 566.5C50.9 564.7 57.9 563.4 62.3 561.8C66.7 560.2 74.4 556.0 75.9 557.0C77.4 558.0 72.9 564.7 71.3 568.0C69.7 571.3 67.8 574.5 66.3 577.0C64.8 579.5 64.1 583.0 62.6 583.3C61.1 583.5 58.9 580.3 57.3 578.5C55.7 576.7 54.1 574.5 52.8 572.5C51.5 570.5 47.7 568.3 49.3 566.5Z" fill="#000"/>
<path d="M48.199999999999996 510.2H79.0V552.2L48.199999999999996 565.6Z" fill="none" stroke="#000" stroke-width="1.3"/>
<path d="M80.4 556.4H128.79999999999998V584.3H63.8Z" fill="none" stroke="#000" stroke-width="1.3"/>
<rect x="140.1" y="509.4" width="83.4" height="75.8" fill="none" stroke="#333" stroke-width="0.9"/>
<path d="M138.6 579.5h1.5M146.4 585.1999999999999v1.5M138.6 576.2h1.5M150.0 585.1999999999999v1.5M138.6 573.8h1.5M152.7 585.1999999999999v1.5M138.6 572.0h1.5M154.7 585.1999999999999v1.5M138.6 570.5h1.5M156.3 585.1999999999999v1.5M138.6 569.2h1.5M157.7 585.1999999999999v1.5M138.6 568.1h1.5M158.9 585.1999999999999v1.5M138.6 567.1h1.5M160.0 585.1999999999999v1.5M138.6 560.5h1.5M167.2 585.1999999999999v1.5M138.6 557.2h1.5M170.9 585.1999999999999v1.5M138.6 554.8h1.5M173.5 585.1999999999999v1.5M138.6 553.0h1.5M175.5 585.1999999999999v1.5M138.6 551.5h1.5M177.2 585.1999999999999v1.5M138.6 550.2h1.5M178.6 585.1999999999999v1.5M138.6 549.1h1.5M179.8 585.1999999999999v1.5M138.6 548.2h1.5M180.8 585.1999999999999v1.5M138.6 541.6h1.5M188.1 585.1999999999999v1.5M138.6 538.3h1.5M191.7 585.1999999999999v1.5M138.6 535.9h1.5M194.4 585.1999999999999v1.5M138.6 534.1h1.5M196.4 585.1999999999999v1.5M138.6 532.6h1.5M198.0 585.1999999999999v1.5M138.6 531.3h1.5M199.4 585.1999999999999v1.5M138.6 530.2h1.5M200.6 585.1999999999999v1.5M138.6 529.2h1.5M201.7 585.1999999999999v1.5M138.6 522.6h1.5M208.9 585.1999999999999v1.5M138.6 519.3h1.5M212.6 585.1999999999999v1.5M138.6 516.9h1.5M215.2 585.1999999999999v1.5M138.6 515.1h1.5M217.2 585.1999999999999v1.5M138.6 513.6h1.5M218.9 585.1999999999999v1.5M138.6 512.3h1.5M220.3 585.1999999999999v1.5M138.6 511.2h1.5M221.5 585.1999999999999v1.5M138.6 510.3h1.5M222.5 585.1999999999999v1.5" stroke="#9a9a9a" stroke-width="0.5" fill="none"/>
<path d="M137.5 566.2h2.6M160.9 585.1999999999999v2.6M137.5 547.3h2.6M181.8 585.1999999999999v2.6M137.5 528.3h2.6M202.7 585.1999999999999v2.6" stroke="#666" stroke-width="0.7" fill="none"/>
<path d="M145.4 561.2h0.6M164.9 574.8h0.6M147.6 560.9h0.6M145.8 563.9h0.6M162.9 580.7h0.6M155.6 585.0h0.6M146.7 556.4h0.6M166.8 573.0h0.6M172.3 564.3h0.6M162.7 581.6h0.6M164.7 572.2h0.6M145.3 575.9h0.6M146.9 559.1h0.6M163.2 548.2h0.6M147.8 559.3h0.6M146.9 560.5h0.6M166.9 564.4h0.6M146.2 564.1h0.6M146.1 558.9h0.6M168.5 565.8h0.6M143.0 564.3h0.6M166.7 574.2h0.6M167.5 567.8h0.6M144.3 561.5h0.6M164.4 570.2h0.6M162.3 573.9h0.6M142.5 560.0h0.6M163.8 575.0h0.6M155.4 582.9h0.6M162.6 574.4h0.6M166.5 574.8h0.6M167.2 574.7h0.6M147.5 559.3h0.6M146.6 558.7h0.6M163.0 575.5h0.6M152.4 588.7h0.6M144.1 566.0h0.6M160.3 580.5h0.6M163.0 574.5h0.6M143.5 566.1h0.6M144.5 565.4h0.6M147.0 561.2h0.6M163.2 541.4h0.6M168.4 555.4h0.6M148.3 557.7h0.6M148.9 578.4h0.6M170.3 558.5h0.6M168.2 561.5h0.6M172.4 560.7h0.6M160.9 578.7h0.6M161.0 577.0h0.6M149.8 552.7h0.6M158.7 585.1h0.6M148.3 558.0h0.6M165.9 571.2h0.6M160.5 582.0h0.6M160.8 576.9h0.6M162.4 573.9h0.6M162.6 573.8h0.6M148.3 558.8h0.6M162.7 573.9h0.6M146.8 562.3h0.6M141.8 568.4h0.6M143.2 560.8h0.6M144.8 565.4h0.6M161.9 581.1h0.6M147.4 548.0h0.6M146.0 557.8h0.6M162.0 576.1h0.6M162.0 548.5h0.6M165.5 570.6h0.6M163.3 573.7h0.6M146.1 557.6h0.6M161.1 577.5h0.6M160.8 542.4h0.6M147.1 559.6h0.6M143.8 559.4h0.6M162.6 574.6h0.6M164.6 541.5h0.6M141.9 571.8h0.6M162.1 575.4h0.6M160.9 576.4h0.6M147.8 558.6h0.6M166.9 568.3h0.6M148.1 558.9h0.6M159.9 580.3h0.6M163.0 575.0h0.6M151.7 581.3h0.6M147.2 555.6h0.6M163.3 572.3h0.6M164.2 569.8h0.6M148.1 555.3h0.6M165.7 574.3h0.6M164.8 571.8h0.6M146.7 576.6h0.6M161.0 578.2h0.6M147.9 559.6h0.6M165.2 568.6h0.6M136.7 580.2h0.6M148.1 559.5h0.6M146.1 563.6h0.6M164.4 580.6h0.6M155.0 582.7h0.6M160.2 547.7h0.6M161.9 575.0h0.6M145.7 557.2h0.6M147.7 552.6h0.6M163.9 575.7h0.6M167.2 574.9h0.6M153.5 586.6h0.6M159.4 582.0h0.6M145.4 564.8h0.6M147.5 561.2h0.6M165.0 574.1h0.6M164.9 575.0h0.6M143.1 572.1h0.6M143.6 554.9h0.6M164.1 575.6h0.6M164.1 570.4h0.6M149.2 584.2h0.6M158.9 580.4h0.6M146.6 577.0h0.6M160.6 580.3h0.6M161.1 580.6h0.6M165.0 576.7h0.6M167.7 578.0h0.6M145.0 572.3h0.6M166.9 565.0h0.6M146.3 549.5h0.6M158.2 583.5h0.6M148.2 555.7h0.6M168.9 564.3h0.6M163.3 573.3h0.6M146.7 556.1h0.6M161.9 580.7h0.6M146.5 558.1h0.6M165.2 574.3h0.6M158.6 582.1h0.6M165.6 567.4h0.6M161.0 577.8h0.6M161.3 581.6h0.6M160.3 578.3h0.6M145.6 564.0h0.6M163.9 572.1h0.6M145.7 562.9h0.6M168.4 575.0h0.6M166.2 579.9h0.6M147.7 561.0h0.6M163.4 577.0h0.6M148.2 550.6h0.6M151.7 550.3h0.6M160.6 577.4h0.6M158.8 580.1h0.6M164.8 549.4h0.6M158.1 535.8h0.6M157.2 540.9h0.6M154.8 545.7h0.6M150.0 552.7h0.6M168.8 544.5h0.6M155.7 546.6h0.6M156.2 547.0h0.6M157.0 544.8h0.6M167.2 549.0h0.6M163.7 546.7h0.6M157.7 547.2h0.6M157.5 543.1h0.6M146.0 547.1h0.6M151.6 549.9h0.6M168.4 545.8h0.6M157.3 543.6h0.6M172.4 555.0h0.6M154.9 547.0h0.6M167.6 561.3h0.6M161.5 546.3h0.6M152.8 547.9h0.6M160.1 547.4h0.6M153.0 547.0h0.6M170.1 562.0h0.6M167.1 553.1h0.6M166.2 552.5h0.6M148.7 543.3h0.6M158.9 544.1h0.6M155.4 545.7h0.6M146.8 556.8h0.6M155.7 545.3h0.6M166.9 563.2h0.6M164.7 550.4h0.6M150.3 543.8h0.6M168.3 559.3h0.6M167.4 547.4h0.6M160.1 543.2h0.6M147.4 552.1h0.6M167.0 564.4h0.6M143.7 549.0h0.6M145.4 547.5h0.6M152.2 545.6h0.6M158.6 540.6h0.6M152.9 546.3h0.6M165.4 550.5h0.6M171.0 551.5h0.6M168.7 551.9h0.6M163.4 549.1h0.6M148.0 552.4h0.6M163.7 543.9h0.6M149.8 551.9h0.6M147.2 554.7h0.6M147.8 554.5h0.6M156.8 543.0h0.6M161.4 545.1h0.6M165.0 549.4h0.6M154.2 545.1h0.6M169.7 547.2h0.6M150.0 551.4h0.6M157.4 547.4h0.6M152.0 546.6h0.6M163.0 544.8h0.6M154.4 546.5h0.6M155.5 547.2h0.6M164.1 549.8h0.6M154.5 546.7h0.6M158.3 545.9h0.6M152.5 549.7h0.6M157.1 544.1h0.6M159.3 544.9h0.6M140.3 554.1h0.6M154.6 547.6h0.6M152.9 548.2h0.6M159.7 543.5h0.6M150.0 553.0h0.6M165.0 550.7h0.6M144.4 552.0h0.6M155.0 547.3h0.6M154.3 546.9h0.6M158.5 546.1h0.6M148.8 549.6h0.6M166.3 552.3h0.6M159.3 547.1h0.6M171.5 561.0h0.6M164.2 547.4h0.6M161.5 542.1h0.6M164.0 547.2h0.6M147.4 549.0h0.6M146.5 552.3h0.6M147.0 550.1h0.6M157.7 546.5h0.6M158.8 540.7h0.6M156.5 541.5h0.6M151.1 550.6h0.6M148.6 552.5h0.6M146.5 554.6h0.6M155.8 543.6h0.6M162.3 548.9h0.6M161.6 545.7h0.6M157.4 546.9h0.6M151.7 548.3h0.6M169.6 550.5h0.6M166.8 552.0h0.6M147.5 558.9h0.6M155.8 544.8h0.6M158.5 546.1h0.6M169.4 553.9h0.6M157.9 546.6h0.6M160.2 547.6h0.6M149.0 552.9h0.6M174.5 549.9h0.6M149.5 549.4h0.6M162.5 546.3h0.6M157.6 543.3h0.6M152.1 546.8h0.6M162.7 547.8h0.6M147.8 554.9h0.6M154.1 547.6h0.6M162.7 547.5h0.6M151.9 548.9h0.6M160.9 544.6h0.6M157.1 544.6h0.6M158.0 541.7h0.6M152.9 547.3h0.6M163.3 545.1h0.6M153.5 547.3h0.6M159.0 546.2h0.6M142.2 569.5h0.6M143.7 572.6h0.6M161.1 577.1h0.6M142.1 569.5h0.6M147.2 576.7h0.6M145.4 564.1h0.6M144.9 574.1h0.6M148.2 582.8h0.6M148.3 586.1h0.6M140.9 572.4h0.6M142.1 577.9h0.6M144.6 575.0h0.6M148.6 579.6h0.6M150.0 584.1h0.6M139.4 576.1h0.6M145.4 575.4h0.6M144.2 578.4h0.6M139.0 575.4h0.6M145.9 577.0h0.6M145.0 577.3h0.6M145.2 574.6h0.6M150.8 583.0h0.6M133.0 571.6h0.6M146.7 577.5h0.6M150.9 581.9h0.6M147.7 579.3h0.6M146.4 577.6h0.6M141.2 578.9h0.6M142.9 578.9h0.6M141.2 583.9h0.6M143.6 572.8h0.6M145.6 579.1h0.6M146.4 584.4h0.6M148.6 580.8h0.6M147.1 578.3h0.6M143.9 573.2h0.6M147.1 577.2h0.6M144.3 569.0h0.6M142.2 578.0h0.6M143.5 573.3h0.6M137.7 576.1h0.6M144.8 568.9h0.6M154.6 583.3h0.6M146.1 574.4h0.6M143.4 574.5h0.6M142.8 577.8h0.6M158.1 583.0h0.6M144.2 577.5h0.6M145.5 575.7h0.6M143.8 576.6h0.6M144.4 575.0h0.6M144.7 570.1h0.6M146.1 576.7h0.6M167.3 572.8h0.6M145.5 582.1h0.6M142.4 571.0h0.6M146.4 577.0h0.6M142.9 574.0h0.6M142.3 576.8h0.6M142.9 574.3h0.6M139.7 577.4h0.6M137.3 579.5h0.6M150.3 582.9h0.6M145.4 573.5h0.6M156.2 583.7h0.6M145.8 574.4h0.6M141.9 574.8h0.6M142.3 574.2h0.6M149.6 579.4h0.6M149.5 579.3h0.6M140.1 575.5h0.6M144.3 574.1h0.6M162.1 587.0h0.6M160.6 581.0h0.6M143.9 582.1h0.6M151.0 585.2h0.6M152.0 581.5h0.6M147.0 577.8h0.6M147.9 580.1h0.6M145.5 582.3h0.6M136.6 575.6h0.6M142.1 580.2h0.6M144.5 569.3h0.6M136.4 581.2h0.6M140.9 580.6h0.6M146.8 576.5h0.6M147.1 579.4h0.6M147.7 577.3h0.6M145.2 583.0h0.6M148.3 581.2h0.6M154.2 582.8h0.6M142.5 584.3h0.6M144.0 571.8h0.6M150.9 581.3h0.6M146.6 576.0h0.6M145.5 572.9h0.6M145.5 572.8h0.6M148.1 582.6h0.6M147.0 580.8h0.6M159.9 579.7h0.6M148.8 582.6h0.6M146.5 576.1h0.6M145.1 578.0h0.6M152.9 588.2h0.6M145.5 575.1h0.6M151.0 581.3h0.6M142.8 575.2h0.6M146.4 564.0h0.6M139.8 575.4h0.6M149.0 581.0h0.6M137.0 569.0h0.6M144.1 566.2h0.6M137.7 573.9h0.6M147.3 581.1h0.6M137.7 572.4h0.6M147.3 577.4h0.6M143.5 565.3h0.6M140.6 572.9h0.6M138.6 567.7h0.6M147.5 577.8h0.6M142.4 577.7h0.6M152.5 582.0h0.6M136.7 576.6h0.6M141.9 576.9h0.6M140.1 583.6h0.6M143.7 575.3h0.6M150.4 582.2h0.6M140.9 567.5h0.6M154.1 582.2h0.6M140.0 580.5h0.6M148.6 578.4h0.6M152.7 585.3h0.6M164.3 574.2h0.6M144.0 567.2h0.6M145.4 573.7h0.6M152.8 582.5h0.6M148.3 578.5h0.6M142.0 578.1h0.6M144.0 583.8h0.6M143.5 573.5h0.6M142.8 577.3h0.6M143.6 568.0h0.6M146.1 575.9h0.6M139.4 580.0h0.6M142.2 571.8h0.6M141.5 578.2h0.6M144.5 578.8h0.6M146.7 577.1h0.6M144.4 572.5h0.6M142.3 569.2h0.6M148.1 585.0h0.6M144.2 560.6h0.6M139.4 573.5h0.6M140.3 571.5h0.6M129.9 571.9h0.6M171.7 564.5h0.6M169.5 562.8h0.6M173.3 565.7h0.6M167.9 569.5h0.6M195.3 568.9h0.6M170.1 562.1h0.6M194.2 563.3h0.6M170.6 571.3h0.6M187.2 565.4h0.6M169.7 570.4h0.6M169.7 563.6h0.6M179.6 570.5h0.6M213.6 571.3h0.6M182.9 566.4h0.6M173.2 569.1h0.6M170.7 568.6h0.6M178.4 568.9h0.6M199.3 563.6h0.6M175.3 568.6h0.6M170.8 564.2h0.6M181.7 564.0h0.6M167.7 561.8h0.6M201.7 562.3h0.6M168.7 565.7h0.6M168.3 563.0h0.6M171.1 565.5h0.6M181.7 567.9h0.6M182.9 564.4h0.6M168.1 567.7h0.6M183.0 566.7h0.6M174.3 564.6h0.6M192.8 563.3h0.6M177.4 565.4h0.6M177.8 568.1h0.6M173.7 564.2h0.6M171.1 567.7h0.6M200.1 567.2h0.6M170.1 563.7h0.6M187.3 565.9h0.6M195.4 568.8h0.6M199.9 563.5h0.6M174.0 567.7h0.6M172.6 563.1h0.6M166.5 573.5h0.6M166.3 567.9h0.6M177.0 561.7h0.6M181.5 566.3h0.6M170.8 565.9h0.6M166.2 566.8h0.6M174.7 561.0h0.6M172.8 570.8h0.6M167.8 570.1h0.6M185.0 565.3h0.6M179.5 562.5h0.6M171.8 568.9h0.6M179.0 567.7h0.6M170.0 571.4h0.6M198.7 563.4h0.6M208.5 568.4h0.6M182.1 564.3h0.6M181.4 563.6h0.6M170.4 562.8h0.6M167.5 566.1h0.6M172.6 561.0h0.6M204.2 561.4h0.6M172.2 563.5h0.6M173.7 558.6h0.6M214.3 569.9h0.6M171.2 562.8h0.6M172.6 565.7h0.6M181.7 560.4h0.6M181.5 567.1h0.6M171.2 564.5h0.6M178.1 569.8h0.6M170.1 569.3h0.6M193.7 565.1h0.6M180.3 569.6h0.6M260.8 570.2h0.6M185.0 574.6h0.6M179.1 565.9h0.6M179.2 567.6h0.6M178.9 561.7h0.6M177.8 566.8h0.6M176.7 564.9h0.6M170.3 570.0h0.6M175.9 566.1h0.6M170.1 568.2h0.6M181.9 562.8h0.6M192.0 567.2h0.6M178.4 564.8h0.6M215.6 572.4h0.6M170.3 558.0h0.6M181.8 571.2h0.6M216.3 569.7h0.6M192.4 565.0h0.6M180.3 569.8h0.6M167.6 565.1h0.6M180.2 565.2h0.6M166.8 564.5h0.6M175.2 569.6h0.6M171.1 567.1h0.6M169.0 569.3h0.6M167.3 562.1h0.6M173.7 567.1h0.6M170.9 566.6h0.6M177.7 567.0h0.6M171.6 575.7h0.6M190.1 558.9h0.6M169.1 566.3h0.6M184.0 563.3h0.6M170.0 568.4h0.6M179.3 568.4h0.6M175.6 565.8h0.6M216.8 570.5h0.6M197.1 562.4h0.6M169.7 561.6h0.6M177.4 564.9h0.6M180.1 558.5h0.6M220.9 563.5h0.6M172.2 568.5h0.6M168.4 566.5h0.6M228.8 563.7h0.6M202.5 569.8h0.6M172.4 559.3h0.6M168.6 564.5h0.6M169.6 566.6h0.6M188.0 567.7h0.6M166.7 568.6h0.6M170.1 562.0h0.6M192.9 568.7h0.6M174.0 568.5h0.6M166.4 569.9h0.6M170.7 567.0h0.6M169.7 567.1h0.6M208.6 570.7h0.6M186.3 559.3h0.6M171.4 570.9h0.6M172.0 555.7h0.6M171.7 563.4h0.6M172.0 566.9h0.6M178.7 563.7h0.6M167.2 566.3h0.6M194.4 569.4h0.6M191.0 569.9h0.6M177.2 567.9h0.6M175.3 571.7h0.6M168.2 562.6h0.6M231.8 568.7h0.6M199.2 564.2h0.6M188.6 563.2h0.6M197.8 569.5h0.6M191.8 564.2h0.6M194.6 560.3h0.6M197.5 563.7h0.6M170.3 567.7h0.6M181.4 565.0h0.6M168.8 561.7h0.6M167.0 564.7h0.6M171.4 570.2h0.6M182.7 566.6h0.6M176.1 574.7h0.6M180.9 565.6h0.6M192.4 566.2h0.6M180.2 566.5h0.6M179.1 566.1h0.6M184.6 568.1h0.6M169.3 562.8h0.6M168.6 572.9h0.6M172.0 564.6h0.6M168.9 566.7h0.6M170.7 568.5h0.6M166.6 564.4h0.6M167.4 569.4h0.6M175.7 566.8h0.6M175.9 566.7h0.6M201.8 561.4h0.6M171.8 565.4h0.6M197.1 569.4h0.6M175.2 569.0h0.6M166.2 566.4h0.6M193.1 565.6h0.6M171.1 560.9h0.6M168.9 564.0h0.6M169.9 563.7h0.6M176.5 564.9h0.6M175.6 562.3h0.6M179.7 569.7h0.6M189.4 561.2h0.6M178.8 562.8h0.6M181.0 568.7h0.6M169.1 560.6h0.6M171.5 566.6h0.6M167.6 568.0h0.6M182.1 566.1h0.6M173.8 570.7h0.6M170.9 563.5h0.6M178.6 563.5h0.6M196.2 566.6h0.6M171.1 565.3h0.6M189.3 567.8h0.6M167.9 565.3h0.6M185.5 572.0h0.6M169.1 559.6h0.6M169.2 565.4h0.6M193.4 569.8h0.6M169.9 562.3h0.6M177.8 567.4h0.6M169.0 564.1h0.6M184.7 564.6h0.6M169.3 568.8h0.6M180.2 557.0h0.6M236.8 567.2h0.6M171.2 570.4h0.6M189.4 567.4h0.6M166.9 565.2h0.6M173.3 566.5h0.6M186.4 565.2h0.6M170.4 567.8h0.6M185.1 565.9h0.6M189.7 565.3h0.6M180.3 560.5h0.6M184.8 564.4h0.6M170.6 561.4h0.6M170.8 568.0h0.6M168.0 565.6h0.6M177.3 569.4h0.6M194.6 559.9h0.6M190.1 562.4h0.6M169.4 570.7h0.6M170.0 566.0h0.6M175.2 561.5h0.6M226.0 569.6h0.6M178.7 564.1h0.6M181.3 565.6h0.6M167.6 569.2h0.6M167.0 568.5h0.6M176.0 567.1h0.6M166.4 570.0h0.6M192.6 564.8h0.6M183.8 570.0h0.6M172.6 566.0h0.6M172.2 570.4h0.6M182.5 566.6h0.6M177.7 567.6h0.6M174.7 568.6h0.6M183.6 568.4h0.6M171.9 563.7h0.6M180.0 560.4h0.6M197.9 566.6h0.6M173.8 564.9h0.6M173.2 567.4h0.6M208.5 565.7h0.6M180.4 567.9h0.6M170.8 566.5h0.6M170.7 567.8h0.6M169.5 561.6h0.6M171.2 569.2h0.6M182.1 567.2h0.6M174.0 566.7h0.6M182.6 568.9h0.6M170.3 576.1h0.6M170.1 564.4h0.6M169.6 564.1h0.6M182.3 565.5h0.6M175.5 564.5h0.6M220.7 561.8h0.6M207.3 569.3h0.6M171.1 569.0h0.6M213.1 566.9h0.6M171.0 563.5h0.6M188.6 568.5h0.6M182.0 564.4h0.6M168.8 560.1h0.6M167.7 563.1h0.6M169.7 565.0h0.6M187.5 565.1h0.6M169.0 565.3h0.6M229.7 569.6h0.6M169.1 567.9h0.6M168.4 565.1h0.6M187.0 565.7h0.6M168.3 563.5h0.6M171.0 572.5h0.6M167.5 564.9h0.6M177.2 566.3h0.6M177.2 566.7h0.6M168.6 558.3h0.6M184.4 563.4h0.6M167.7 568.5h0.6M196.2 568.8h0.6M171.2 563.3h0.6M174.2 567.5h0.6M189.9 566.4h0.6M178.6 564.9h0.6M179.8 563.6h0.6M174.3 560.3h0.6M172.2 565.7h0.6M174.7 566.6h0.6M235.3 563.0h0.6M193.9 563.6h0.6M171.0 564.8h0.6M169.0 557.7h0.6M175.4 565.8h0.6M187.1 560.3h0.6M168.9 567.8h0.6M175.8 563.4h0.6M175.9 565.7h0.6M168.8 564.7h0.6M173.7 568.9h0.6M167.3 566.8h0.6M171.4 570.1h0.6M168.8 567.2h0.6M170.5 562.3h0.6M181.4 567.1h0.6M169.6 564.5h0.6M193.1 565.0h0.6M188.5 564.6h0.6M186.9 565.3h0.6M181.9 565.2h0.6M169.7 559.3h0.6M172.5 570.9h0.6M179.5 561.4h0.6M188.8 570.1h0.6M173.6 569.5h0.6M172.7 563.9h0.6M169.7 568.1h0.6M180.7 555.0h0.6M167.2 569.6h0.6M186.8 566.3h0.6M166.1 567.3h0.6M169.7 565.0h0.6M172.1 567.8h0.6M168.7 561.7h0.6M168.7 565.5h0.6M173.5 565.3h0.6M180.7 566.2h0.6M170.6 565.6h0.6M167.0 568.5h0.6M208.9 567.7h0.6M191.2 570.1h0.6M190.2 566.9h0.6M170.8 567.2h0.6M183.5 558.9h0.6M201.2 567.9h0.6M187.6 564.4h0.6M181.2 573.8h0.6M169.9 562.0h0.6M169.3 566.8h0.6M181.5 567.0h0.6M171.3 563.9h0.6M167.0 570.5h0.6M169.0 566.9h0.6M188.4 562.6h0.6M173.3 562.6h0.6M178.8 565.5h0.6M173.0 564.4h0.6M193.7 566.5h0.6M195.2 567.5h0.6M212.2 573.1h0.6M170.3 569.4h0.6M176.4 569.5h0.6M207.6 568.7h0.6M214.9 564.0h0.6M180.6 564.6h0.6M185.1 564.2h0.6M167.9 565.5h0.6M167.7 564.6h0.6M177.3 565.0h0.6M193.5 573.9h0.6M188.0 573.5h0.6M178.5 558.7h0.6M170.5 567.1h0.6M170.7 560.7h0.6M201.7 564.2h0.6M170.0 558.8h0.6M166.4 566.6h0.6M173.6 568.4h0.6M185.7 564.5h0.6M178.4 570.4h0.6M180.7 565.1h0.6M203.8 561.7h0.6M167.4 563.9h0.6M191.8 566.9h0.6M169.8 564.8h0.6M203.1 562.4h0.6M193.3 566.4h0.6M170.3 570.2h0.6M195.7 563.8h0.6M199.8 567.9h0.6M168.5 563.6h0.6M172.0 568.7h0.6M187.0 562.6h0.6M176.5 561.1h0.6M168.4 565.3h0.6M182.2 567.3h0.6M252.7 570.7h0.6M192.5 563.1h0.6M184.6 569.3h0.6M189.2 565.1h0.6M196.3 563.6h0.6M220.6 564.9h0.6M181.6 567.0h0.6M170.3 570.3h0.6M175.7 562.8h0.6M209.4 569.2h0.6M177.7 564.0h0.6M172.2 559.0h0.6M185.6 568.5h0.6M175.6 562.3h0.6M190.3 568.0h0.6M190.1 567.1h0.6M179.8 564.4h0.6M181.0 564.7h0.6M170.6 566.5h0.6M170.0 563.5h0.6M166.1 572.3h0.6M173.7 572.3h0.6M168.7 565.6h0.6M190.8 566.0h0.6M168.3 574.3h0.6M170.7 568.4h0.6M206.2 569.2h0.6M202.0 566.0h0.6M187.9 567.1h0.6M170.0 565.3h0.6M174.2 565.8h0.6M180.7 566.5h0.6M167.4 564.8h0.6M171.8 566.1h0.6M181.5 564.8h0.6M185.1 568.5h0.6M168.0 572.7h0.6M180.7 575.7h0.6M188.7 567.2h0.6M181.4 564.3h0.6M173.9 568.2h0.6M185.8 564.4h0.6M179.3 562.3h0.6M170.9 565.0h0.6M176.5 565.9h0.6M173.9 567.1h0.6M170.1 564.2h0.6M185.9 571.7h0.6M191.3 571.4h0.6M181.9 561.6h0.6M170.2 565.2h0.6M170.6 569.5h0.6M166.2 566.8h0.6M174.2 559.6h0.6M172.1 567.1h0.6M170.9 571.5h0.6M179.2 564.7h0.6M175.1 562.9h0.6M181.6 566.6h0.6M183.3 567.9h0.6M167.8 565.1h0.6M169.5 566.7h0.6M169.2 567.6h0.6M167.3 568.6h0.6M201.2 561.8h0.6M173.2 565.3h0.6M174.0 563.1h0.6M186.5 567.1h0.6M202.6 570.6h0.6M167.4 568.1h0.6M174.4 568.8h0.6M191.3 561.9h0.6M168.6 559.9h0.6M189.7 570.0h0.6M169.0 565.6h0.6M182.7 570.3h0.6M169.3 566.8h0.6M181.2 557.7h0.6M197.0 561.3h0.6M170.8 566.2h0.6M169.9 563.8h0.6M174.2 565.1h0.6M217.6 567.3h0.6M170.7 564.9h0.6M194.4 569.0h0.6M171.9 567.0h0.6M209.9 565.1h0.6M177.4 564.7h0.6M169.1 570.7h0.6M195.0 566.2h0.6M190.1 567.0h0.6M187.9 565.5h0.6M200.5 568.3h0.6M232.8 565.2h0.6M168.9 563.2h0.6M176.1 565.7h0.6M181.6 564.3h0.6M181.2 567.4h0.6M198.5 563.3h0.6M168.6 570.5h0.6M174.3 568.6h0.6M166.9 565.9h0.6M187.2 573.0h0.6M169.3 559.8h0.6M178.1 560.4h0.6M177.1 572.4h0.6M168.4 567.5h0.6M173.3 569.0h0.6M174.8 563.8h0.6M169.6 571.5h0.6M214.4 564.1h0.6M206.7 565.9h0.6M172.5 567.3h0.6M178.7 565.0h0.6M178.8 564.4h0.6M194.6 567.2h0.6M168.9 565.0h0.6M169.8 571.2h0.6M172.9 565.0h0.6M171.9 571.6h0.6M169.1 563.5h0.6M168.3 565.4h0.6M178.3 560.7h0.6M166.5 566.3h0.6M183.0 570.3h0.6M178.3 564.9h0.6M218.1 567.9h0.6M167.6 566.6h0.6M177.0 568.4h0.6M181.3 569.9h0.6M170.6 566.5h0.6M174.8 568.2h0.6M183.7 565.6h0.6M186.7 572.1h0.6M170.1 561.8h0.6M167.9 567.5h0.6M176.4 569.3h0.6M195.8 567.5h0.6M169.9 562.1h0.6M204.7 564.2h0.6M173.4 568.3h0.6M200.0 567.1h0.6M180.9 568.5h0.6M177.0 567.8h0.6M182.7 566.0h0.6M176.0 566.4h0.6M176.0 567.6h0.6M171.6 563.6h0.6M181.5 559.2h0.6M189.4 561.1h0.6M193.3 567.7h0.6M167.9 565.9h0.6M166.4 569.4h0.6M176.2 571.7h0.6M166.9 564.1h0.6M184.7 568.4h0.6M183.5 564.5h0.6M182.5 558.5h0.6M176.6 567.9h0.6M168.1 564.3h0.6M168.1 562.4h0.6M177.2 560.6h0.6M170.2 562.2h0.6M197.4 563.5h0.6M209.4 567.7h0.6M171.4 567.7h0.6M170.3 565.6h0.6M171.4 560.9h0.6M170.8 563.6h0.6M167.7 566.2h0.6M173.2 567.4h0.6M169.2 568.3h0.6M173.5 562.5h0.6M173.2 571.1h0.6M184.5 566.5h0.6M167.8 571.0h0.6M200.0 571.7h0.6M183.5 563.2h0.6M175.7 566.1h0.6M170.5 566.6h0.6M168.4 569.1h0.6M169.3 566.1h0.6M181.4 569.3h0.6M181.9 567.2h0.6M177.5 566.1h0.6M173.4 569.5h0.6M168.0 562.8h0.6M168.7 562.1h0.6M169.3 567.1h0.6M190.9 571.1h0.6M210.3 567.8h0.6M173.4 563.7h0.6M172.5 564.5h0.6M208.5 576.1h0.6M172.5 561.1h0.6M171.1 565.1h0.6M180.1 562.4h0.6M172.8 572.5h0.6M209.9 575.0h0.6M185.0 560.6h0.6M169.0 559.3h0.6M173.4 569.0h0.6M193.2 566.7h0.6M173.9 561.5h0.6M182.8 570.0h0.6M178.1 566.4h0.6M170.7 569.8h0.6M195.4 566.1h0.6M190.1 566.5h0.6M187.9 571.7h0.6M167.5 569.6h0.6M169.9 567.8h0.6M168.6 566.9h0.6M170.4 567.1h0.6M168.2 560.8h0.6M172.0 565.2h0.6M195.5 568.9h0.6M172.9 567.8h0.6M213.7 565.5h0.6M184.6 566.7h0.6M178.2 567.1h0.6M183.3 566.4h0.6M183.3 562.2h0.6M180.3 563.5h0.6M193.2 570.6h0.6M167.2 564.9h0.6M197.9 563.9h0.6M193.3 562.0h0.6M192.7 567.2h0.6M192.4 573.8h0.6M178.3 570.1h0.6M169.9 565.2h0.6M175.6 566.2h0.6M170.7 567.6h0.6M166.4 567.1h0.6M183.2 560.5h0.6M171.6 565.0h0.6M189.6 567.2h0.6M180.2 562.3h0.6M169.4 568.1h0.6M169.3 568.4h0.6M180.5 564.7h0.6M176.0 568.1h0.6M167.8 566.9h0.6M168.0 567.4h0.6M171.3 564.8h0.6M171.4 568.8h0.6M177.1 566.0h0.6M178.0 566.9h0.6M168.9 561.4h0.6M168.4 566.0h0.6M173.1 562.0h0.6M166.4 565.4h0.6M172.9 565.8h0.6M174.1 567.0h0.6M184.2 566.1h0.6M215.0 569.9h0.6M174.4 563.6h0.6M184.6 572.5h0.6M168.9 566.4h0.6M175.0 567.8h0.6M172.1 561.2h0.6M172.0 572.0h0.6M207.0 561.5h0.6M225.0 569.4h0.6M177.2 561.6h0.6M167.8 570.0h0.6M182.5 568.2h0.6M221.0 569.8h0.6M180.0 564.8h0.6M175.5 564.0h0.6M168.1 563.5h0.6M168.4 569.0h0.6M176.3 559.3h0.6M174.7 561.8h0.6M191.6 564.1h0.6M168.8 562.8h0.6M171.0 558.8h0.6M188.4 569.5h0.6M167.3 563.5h0.6M171.0 564.1h0.6M167.4 566.6h0.6M171.8 559.4h0.6M169.6 564.9h0.6M174.0 567.3h0.6M168.5 567.7h0.6M174.7 562.0h0.6M166.8 566.9h0.6M178.9 559.7h0.6M192.4 565.5h0.6M180.2 566.1h0.6M193.2 563.9h0.6M201.6 569.8h0.6M191.8 567.3h0.6M167.9 568.0h0.6M169.0 569.3h0.6M172.7 567.5h0.6M185.8 560.0h0.6M203.1 565.4h0.6M196.8 568.1h0.6M177.8 566.3h0.6M185.0 565.3h0.6M179.0 565.3h0.6M236.6 568.7h0.6M212.4 566.8h0.6M172.8 570.7h0.6M166.3 572.5h0.6M166.2 566.4h0.6M189.6 566.2h0.6M188.2 567.5h0.6M193.0 562.4h0.6M171.2 567.1h0.6M185.2 561.0h0.6M176.1 571.5h0.6M181.1 564.2h0.6M179.3 567.6h0.6M193.7 562.6h0.6M167.6 564.8h0.6M200.9 567.8h0.6M205.7 564.4h0.6M198.4 568.1h0.6M173.4 558.8h0.6M172.0 566.1h0.6M170.9 567.2h0.6M194.8 561.6h0.6M179.6 567.0h0.6M182.9 565.7h0.6M182.1 570.2h0.6M178.2 567.3h0.6M186.5 566.9h0.6M186.9 566.8h0.6M167.8 570.8h0.6M176.2 570.0h0.6M170.6 567.7h0.6M200.2 563.2h0.6M191.8 564.8h0.6M170.3 566.7h0.6M168.6 559.7h0.6M168.4 564.4h0.6M204.1 566.9h0.6M194.9 565.0h0.6M170.5 565.6h0.6M168.9 563.6h0.6M172.1 564.3h0.6M168.9 564.2h0.6M187.4 560.6h0.6M175.6 569.6h0.6M171.4 568.3h0.6M218.9 566.7h0.6M171.2 570.8h0.6M177.9 573.8h0.6M185.7 563.4h0.6M177.1 564.1h0.6M167.3 566.1h0.6M169.8 570.2h0.6M169.1 563.9h0.6M167.0 566.2h0.6M169.4 566.5h0.6M173.1 571.9h0.6M177.7 571.8h0.6M168.9 561.6h0.6M198.5 563.2h0.6M169.9 563.0h0.6M176.8 566.4h0.6M176.2 567.3h0.6M192.3 572.1h0.6M169.1 568.9h0.6M185.3 565.9h0.6M179.1 565.6h0.6M174.2 572.8h0.6M195.0 569.9h0.6M170.8 563.4h0.6M179.1 562.1h0.6M166.4 567.7h0.6M240.8 570.7h0.6M175.7 560.1h0.6M167.5 567.0h0.6M171.0 567.5h0.6M186.5 566.5h0.6M196.8 570.6h0.6M167.5 569.3h0.6M171.1 570.0h0.6M169.7 566.5h0.6M194.8 567.9h0.6M182.6 561.7h0.6M184.7 560.5h0.6M179.0 563.5h0.6M179.9 567.6h0.6M199.3 556.8h0.6M188.8 568.6h0.6M166.9 566.1h0.6M170.3 564.1h0.6M168.1 564.9h0.6M167.5 563.6h0.6M185.1 567.7h0.6M169.0 564.5h0.6M171.2 567.9h0.6M185.7 566.1h0.6M171.8 559.8h0.6M182.7 565.5h0.6M227.7 563.0h0.6M167.7 566.4h0.6M172.9 568.3h0.6M174.6 571.5h0.6M168.9 564.6h0.6M170.7 566.7h0.6M170.3 569.3h0.6M178.3 567.8h0.6M209.5 560.7h0.6M170.6 564.5h0.6M173.1 568.2h0.6M176.5 563.3h0.6M178.3 567.8h0.6M181.0 568.3h0.6M174.8 562.9h0.6M170.3 566.6h0.6M229.4 569.7h0.6M189.4 564.3h0.6M171.9 566.0h0.6M183.9 567.9h0.6M172.2 569.5h0.6M171.0 566.4h0.6M172.1 569.0h0.6M177.3 567.4h0.6M204.7 567.0h0.6M176.3 566.8h0.6M192.0 574.5h0.6M169.7 567.2h0.6M167.2 567.2h0.6M182.8 563.5h0.6M166.9 566.0h0.6M188.5 565.9h0.6M182.6 563.2h0.6M188.0 565.4h0.6M172.5 557.6h0.6M204.9 571.4h0.6M191.7 570.3h0.6M171.7 563.1h0.6M187.2 560.8h0.6M191.4 569.2h0.6M174.7 566.0h0.6M191.8 564.2h0.6M178.3 569.7h0.6M175.7 562.1h0.6M169.1 564.0h0.6M169.4 566.9h0.6M167.1 563.8h0.6M198.3 564.5h0.6M170.9 562.4h0.6M181.7 565.6h0.6M167.1 564.2h0.6M181.8 571.7h0.6M183.7 567.6h0.6M177.2 568.1h0.6M173.9 561.6h0.6M170.7 566.5h0.6M198.6 573.3h0.6M197.6 567.0h0.6M170.5 567.0h0.6M182.0 560.5h0.6M204.6 564.1h0.6M174.4 562.1h0.6M199.5 569.1h0.6M172.2 568.8h0.6M168.3 567.5h0.6M181.4 559.3h0.6M171.0 564.4h0.6M177.8 572.5h0.6M189.8 571.2h0.6M188.0 569.8h0.6M180.2 566.6h0.6M169.3 564.3h0.6M190.3 564.8h0.6M176.8 564.0h0.6M167.6 567.0h0.6M172.7 559.8h0.6M176.2 570.3h0.6M177.9 565.2h0.6M167.3 568.4h0.6M166.1 568.0h0.6M199.5 568.1h0.6M180.4 567.4h0.6M215.1 564.7h0.6M170.1 568.4h0.6M211.7 568.4h0.6M176.5 568.5h0.6M174.1 563.5h0.6M178.1 564.7h0.6M169.8 562.9h0.6M185.7 566.2h0.6M170.7 567.0h0.6M171.4 570.1h0.6M184.3 565.8h0.6M211.0 568.5h0.6M167.0 563.6h0.6M176.0 567.6h0.6M169.3 569.2h0.6M169.3 557.2h0.6M189.5 569.2h0.6M174.9 564.4h0.6M173.1 569.6h0.6M170.8 568.7h0.6M182.7 564.3h0.6M187.7 570.2h0.6M177.5 569.3h0.6M176.5 569.0h0.6M197.5 565.7h0.6M168.7 568.6h0.6M182.8 568.6h0.6M177.3 567.5h0.6M235.4 561.9h0.6M170.0 572.0h0.6M202.5 567.2h0.6M181.3 573.0h0.6M168.2 561.6h0.6M168.5 567.3h0.6M181.1 563.4h0.6M167.5 564.5h0.6M170.9 556.1h0.6M182.5 565.4h0.6M183.6 561.2h0.6M194.4 564.5h0.6M167.1 565.6h0.6M173.1 563.7h0.6M170.7 561.5h0.6M168.5 565.8h0.6M166.9 567.5h0.6M171.5 570.9h0.6M170.4 571.8h0.6M198.5 559.8h0.6M168.3 568.9h0.6M177.2 569.5h0.6M175.0 572.3h0.6M174.1 568.2h0.6M221.3 567.9h0.6M175.6 561.5h0.6M179.1 557.4h0.6M166.2 568.8h0.6M175.9 564.4h0.6M178.6 563.9h0.6M190.4 568.9h0.6M188.7 569.0h0.6M185.6 562.5h0.6M175.0 568.5h0.6M168.7 562.1h0.6M181.7 571.8h0.6M171.2 572.1h0.6M170.3 564.9h0.6M177.8 563.9h0.6M171.9 566.9h0.6M178.3 573.3h0.6M176.4 565.7h0.6M176.9 565.1h0.6M174.7 569.4h0.6M174.0 561.4h0.6M169.7 560.9h0.6M168.3 564.0h0.6M168.6 571.5h0.6M186.5 560.8h0.6M175.9 564.9h0.6M175.6 558.6h0.6M172.8 565.5h0.6M166.2 565.9h0.6M206.7 567.9h0.6M175.3 563.1h0.6M180.5 574.1h0.6M166.9 567.3h0.6M174.2 566.2h0.6M174.9 564.4h0.6M172.6 571.1h0.6M186.8 565.4h0.6M204.2 567.3h0.6M171.8 559.0h0.6M178.0 565.6h0.6M212.1 561.7h0.6M196.4 565.9h0.6M168.5 563.0h0.6M187.9 561.6h0.6M171.4 571.1h0.6M180.5 565.7h0.6M167.9 560.5h0.6M177.5 567.6h0.6M193.1 565.1h0.6M177.3 568.1h0.6M171.5 568.0h0.6M172.3 562.8h0.6M172.9 561.1h0.6M170.0 567.3h0.6M170.7 570.8h0.6M168.1 568.4h0.6M168.1 566.8h0.6M168.4 565.8h0.6M187.2 566.5h0.6M180.9 571.1h0.6M196.1 561.2h0.6M192.7 563.3h0.6M187.9 569.2h0.6M168.6 566.4h0.6M197.2 567.7h0.6M170.6 568.2h0.6M168.8 567.5h0.6M182.6 562.5h0.6M170.2 563.9h0.6M166.7 569.7h0.6M172.5 573.6h0.6M175.0 569.3h0.6M171.3 556.0h0.6M205.5 569.4h0.6M177.4 560.6h0.6M183.0 563.6h0.6M186.2 556.8h0.6M186.1 563.4h0.6M210.7 569.0h0.6M181.2 568.9h0.6M172.7 567.2h0.6M169.6 569.7h0.6M171.1 567.1h0.6M178.8 563.9h0.6M169.4 568.5h0.6M199.9 566.2h0.6M178.2 560.8h0.6M166.7 568.3h0.6M173.3 560.1h0.6M178.7 567.0h0.6M170.2 570.0h0.6M172.0 565.9h0.6M174.3 566.9h0.6M172.1 570.0h0.6M168.0 565.2h0.6M172.6 570.2h0.6M176.9 562.1h0.6M176.3 570.8h0.6M181.5 566.8h0.6M175.2 561.8h0.6M168.0 566.2h0.6M178.8 558.5h0.6M174.6 566.7h0.6M177.2 567.5h0.6M167.7 565.6h0.6M194.7 567.8h0.6M173.6 558.4h0.6M166.7 565.3h0.6M170.6 566.0h0.6M196.1 567.5h0.6M199.6 558.2h0.6M217.7 570.9h0.6M212.4 563.1h0.6M178.8 564.3h0.6M172.2 560.7h0.6M168.4 561.6h0.6M177.5 565.4h0.6M181.8 562.5h0.6M176.1 560.3h0.6M173.0 563.9h0.6M168.4 571.1h0.6M181.1 566.2h0.6M171.1 566.9h0.6M176.5 562.8h0.6M175.8 563.8h0.6M172.8 564.4h0.6M179.0 568.7h0.6M184.1 565.9h0.6M209.5 566.9h0.6M181.5 567.1h0.6M199.1 566.7h0.6M177.9 565.6h0.6M170.9 561.6h0.6M177.1 571.5h0.6M186.7 574.6h0.6M197.3 567.0h0.6M188.6 565.4h0.6M177.7 565.0h0.6M175.5 569.0h0.6M175.6 569.3h0.6M198.3 565.3h0.6M187.8 563.8h0.6M191.2 568.6h0.6M169.5 567.2h0.6M207.5 569.2h0.6M198.4 566.7h0.6M173.0 568.3h0.6M175.9 565.3h0.6M172.2 566.4h0.6M176.8 563.4h0.6M175.8 562.8h0.6M173.8 567.6h0.6M178.6 566.4h0.6M180.1 570.6h0.6M185.9 560.7h0.6M176.7 562.0h0.6M169.4 565.7h0.6M172.7 565.3h0.6M168.3 570.2h0.6M169.2 563.0h0.6M189.2 568.1h0.6M180.2 567.4h0.6M166.6 569.8h0.6M179.8 565.8h0.6M188.0 564.4h0.6M171.2 563.0h0.6M180.2 562.6h0.6M182.4 566.6h0.6M167.7 560.9h0.6M171.8 563.4h0.6M182.7 565.8h0.6M199.1 560.0h0.6M166.5 569.0h0.6M175.2 566.0h0.6M166.6 565.2h0.6M196.6 564.3h0.6M207.1 565.4h0.6M168.6 565.9h0.6M174.3 563.7h0.6M166.9 565.5h0.6M222.9 564.2h0.6M167.7 574.1h0.6M166.9 566.1h0.6M178.1 570.0h0.6M177.4 566.6h0.6M167.7 565.9h0.6M167.3 572.6h0.6M171.3 566.7h0.6M166.5 567.0h0.6M176.9 567.7h0.6M193.8 571.5h0.6M175.0 566.1h0.6M171.7 565.9h0.6M176.4 562.7h0.6M185.7 563.0h0.6M189.4 570.3h0.6M167.9 563.2h0.6M173.3 567.3h0.6M189.5 573.2h0.6M178.8 566.3h0.6M174.1 563.6h0.6M184.7 567.6h0.6M168.4 563.2h0.6M173.4 570.6h0.6M175.4 567.0h0.6M184.0 566.0h0.6M170.7 567.0h0.6M179.5 567.7h0.6M173.1 569.7h0.6M192.3 565.5h0.6M203.0 559.8h0.6M184.1 567.6h0.6M175.5 565.7h0.6M177.0 564.3h0.6M169.5 568.2h0.6M183.0 563.8h0.6M168.2 571.3h0.6M185.4 570.8h0.6M166.8 563.4h0.6M166.4 569.0h0.6M168.1 562.7h0.6M188.2 572.1h0.6M179.5 556.6h0.6M175.5 571.0h0.6M168.4 570.1h0.6M195.9 568.7h0.6M217.4 566.6h0.6M184.0 561.5h0.6M171.2 568.2h0.6M183.3 564.6h0.6M169.1 566.4h0.6M191.0 566.3h0.6M167.9 574.5h0.6M166.3 566.2h0.6M175.2 568.9h0.6M191.6 565.6h0.6M169.0 560.3h0.6M190.2 565.6h0.6M166.3 565.2h0.6M179.7 562.5h0.6M210.5 576.5h0.6M174.2 570.1h0.6M183.8 565.5h0.6M170.0 567.3h0.6M178.1 567.3h0.6M171.2 564.7h0.6M170.1 565.2h0.6M171.6 566.6h0.6M173.1 563.9h0.6M172.6 564.3h0.6M200.7 559.8h0.6M166.9 565.9h0.6M175.1 564.0h0.6M187.7 559.6h0.6M169.8 566.7h0.6M167.0 564.4h0.6M188.3 566.2h0.6M173.1 562.5h0.6M166.9 566.7h0.6M169.5 568.2h0.6M166.8 565.7h0.6M198.7 566.6h0.6M174.4 563.4h0.6M191.8 563.9h0.6M184.6 564.3h0.6M174.3 561.8h0.6M185.5 560.1h0.6M167.9 565.7h0.6M170.8 561.6h0.6M183.7 567.0h0.6M168.8 567.6h0.6M198.1 565.6h0.6M175.6 566.0h0.6M174.0 562.0h0.6M168.9 566.1h0.6M175.9 567.6h0.6M179.6 560.7h0.6M176.4 570.6h0.6M182.2 565.2h0.6M170.1 566.9h0.6M171.9 572.6h0.6M170.2 568.2h0.6M177.1 571.3h0.6M171.1 564.9h0.6M178.7 571.3h0.6M180.5 566.5h0.6M174.5 563.6h0.6M169.5 561.7h0.6M168.4 570.0h0.6M193.2 567.4h0.6M177.1 571.3h0.6M222.5 565.9h0.6M178.5 570.6h0.6M169.9 571.4h0.6M175.1 564.6h0.6M177.4 563.0h0.6M178.9 568.4h0.6M168.7 566.3h0.6M171.5 564.2h0.6M180.0 566.3h0.6M193.4 567.2h0.6M167.7 568.6h0.6M174.4 565.5h0.6M191.0 570.1h0.6M173.3 571.8h0.6M167.2 568.1h0.6M167.9 563.3h0.6M177.6 566.0h0.6M176.9 566.1h0.6M190.8 565.0h0.6M176.9 563.2h0.6M192.7 570.9h0.6M178.1 570.0h0.6M184.7 568.0h0.6M170.6 563.4h0.6M176.0 564.2h0.6M192.0 571.6h0.6M169.1 568.5h0.6M167.9 564.9h0.6M181.9 565.1h0.6M167.7 564.1h0.6M172.9 565.2h0.6M178.9 565.6h0.6M187.1 558.5h0.6M180.5 568.9h0.6M166.9 568.8h0.6M190.1 558.8h0.6M185.7 571.8h0.6M171.9 567.2h0.6M210.2 564.4h0.6M176.8 565.3h0.6M169.4 567.4h0.6M173.2 567.8h0.6M172.5 568.6h0.6M174.1 568.3h0.6M180.1 565.0h0.6M178.3 565.6h0.6M192.1 562.8h0.6M168.4 563.8h0.6M179.7 564.6h0.6M181.6 567.4h0.6M204.1 564.2h0.6M180.5 568.3h0.6M167.2 568.0h0.6M181.9 574.4h0.6M167.1 566.2h0.6M174.5 570.0h0.6M173.4 567.2h0.6M193.1 560.9h0.6M174.9 569.4h0.6M175.5 562.8h0.6M176.6 562.0h0.6M178.2 561.2h0.6M180.9 564.1h0.6M197.3 562.5h0.6M169.9 563.0h0.6M183.1 562.3h0.6M198.8 568.9h0.6M176.7 567.2h0.6M177.6 563.2h0.6M178.0 567.1h0.6M179.1 563.7h0.6M169.6 566.0h0.6M167.5 565.4h0.6M172.0 564.4h0.6M173.5 566.2h0.6M170.3 561.2h0.6M176.3 566.4h0.6M186.0 567.5h0.6M168.7 568.4h0.6M170.9 561.3h0.6M219.5 570.6h0.6M169.0 566.2h0.6M178.0 572.5h0.6M178.0 562.8h0.6M173.4 564.0h0.6M167.5 561.9h0.6M182.8 567.3h0.6M216.3 570.8h0.6M174.3 569.3h0.6M188.5 568.5h0.6M172.2 564.1h0.6M174.9 558.9h0.6M235.1 571.7h0.6M188.4 567.0h0.6M178.0 561.9h0.6M186.7 571.8h0.6M170.5 564.8h0.6M167.3 566.1h0.6M167.2 566.6h0.6M166.2 569.0h0.6M169.2 567.5h0.6M178.1 565.0h0.6M178.3 567.0h0.6M171.6 568.6h0.6M174.0 572.5h0.6M169.1 563.2h0.6M172.6 570.3h0.6M187.6 558.1h0.6M183.0 564.9h0.6M171.4 558.5h0.6M277.1 574.1h0.6M166.1 566.1h0.6M177.5 567.7h0.6M167.3 568.3h0.6M176.4 564.1h0.6M184.1 563.8h0.6M177.1 571.0h0.6M189.5 568.1h0.6M196.0 564.2h0.6M181.4 563.1h0.6M183.1 561.1h0.6M200.6 563.2h0.6M179.0 573.0h0.6M205.5 573.7h0.6M182.0 569.7h0.6M169.9 563.0h0.6M195.4 564.3h0.6M178.5 560.9h0.6M170.8 567.0h0.6M205.1 565.6h0.6M189.2 568.6h0.6M200.1 568.1h0.6M170.4 567.8h0.6M189.3 564.2h0.6M177.6 562.0h0.6M175.6 566.6h0.6M184.2 564.7h0.6M167.0 568.5h0.6M167.9 563.9h0.6M180.9 567.3h0.6M213.5 563.1h0.6M169.8 568.0h0.6M169.1 572.4h0.6M182.3 568.6h0.6M166.8 573.4h0.6M172.0 564.4h0.6M182.0 561.6h0.6M169.3 567.7h0.6M169.6 565.2h0.6M180.8 566.7h0.6M194.8 577.5h0.6M169.7 564.3h0.6M186.6 563.7h0.6M178.2 566.5h0.6M191.4 573.9h0.6M169.1 557.3h0.6M169.3 567.4h0.6M174.5 566.5h0.6M181.8 568.2h0.6M186.6 567.9h0.6M168.3 566.5h0.6M196.3 572.0h0.6M168.1 565.7h0.6M172.1 569.1h0.6M177.4 565.9h0.6M173.8 566.7h0.6M174.2 565.7h0.6M176.8 573.9h0.6M168.3 566.2h0.6M192.3 563.8h0.6M184.8 569.1h0.6M191.4 564.5h0.6M181.7 565.8h0.6M170.6 565.4h0.6M178.9 565.6h0.6M169.2 560.8h0.6M186.9 568.5h0.6M180.2 570.4h0.6M170.9 561.0h0.6M170.6 561.0h0.6M216.0 567.0h0.6M203.2 567.9h0.6M166.4 571.1h0.6M199.3 563.3h0.6M177.1 563.1h0.6M207.8 569.6h0.6M203.0 565.2h0.6M180.6 568.4h0.6M181.5 566.1h0.6M172.3 569.7h0.6M182.8 566.9h0.6M173.4 562.8h0.6M166.4 567.8h0.6M167.5 561.6h0.6M175.1 567.4h0.6M177.0 568.9h0.6M207.7 562.3h0.6M167.8 564.5h0.6M191.7 565.8h0.6M169.3 564.2h0.6M168.1 568.8h0.6M171.4 572.1h0.6M168.2 568.0h0.6M191.4 563.8h0.6M179.4 566.6h0.6M202.2 566.8h0.6M234.0 560.6h0.6M172.4 563.4h0.6M194.6 571.3h0.6M171.6 565.2h0.6M167.5 565.1h0.6M186.9 568.2h0.6M176.2 564.5h0.6M167.9 563.1h0.6M184.7 569.4h0.6M180.2 569.0h0.6M183.8 567.1h0.6M178.9 568.3h0.6M175.3 567.7h0.6M187.2 567.0h0.6M168.7 567.5h0.6M174.4 565.1h0.6M172.1 562.9h0.6M174.9 567.3h0.6M184.4 566.6h0.6M166.5 567.8h0.6M195.2 573.4h0.6M210.9 573.8h0.6M173.1 566.2h0.6M209.4 572.3h0.6M181.3 565.0h0.6M170.3 570.6h0.6M164.0 576.5h0.6M186.7 569.8h0.6M175.3 567.1h0.6M188.2 573.1h0.6M172.2 559.6h0.6M262.8 562.9h0.6M179.4 570.8h0.6M210.1 572.5h0.6M187.5 574.6h0.6M188.1 567.7h0.6M175.6 582.4h0.6M169.9 573.0h0.6M164.4 577.9h0.6M168.3 568.8h0.6M172.3 575.3h0.6M166.6 565.3h0.6M188.3 570.5h0.6M214.5 579.3h0.6M185.4 566.3h0.6M170.4 568.1h0.6M171.2 575.0h0.6M179.7 565.7h0.6M169.0 564.2h0.6M166.0 569.7h0.6M174.7 555.8h0.6M183.3 568.7h0.6M196.3 560.6h0.6M173.1 567.0h0.6M243.3 565.8h0.6M173.2 567.3h0.6M192.5 572.5h0.6M166.0 565.9h0.6M165.1 573.5h0.6M239.9 567.5h0.6M179.8 569.8h0.6M207.3 561.9h0.6M179.1 571.4h0.6M175.2 568.2h0.6M220.2 572.1h0.6M175.0 571.5h0.6M277.8 567.2h0.6M172.1 572.4h0.6M180.9 560.4h0.6M170.6 569.1h0.6M175.2 564.9h0.6M199.3 562.1h0.6M185.0 576.9h0.6M181.9 558.3h0.6M235.8 570.8h0.6M164.4 571.1h0.6M227.4 573.4h0.6M187.2 566.1h0.6M191.2 575.8h0.6M173.0 562.1h0.6M167.4 565.0h0.6M174.7 567.7h0.6M162.6 574.7h0.6M169.3 571.7h0.6M189.8 575.5h0.6M183.0 574.4h0.6M180.4 568.1h0.6M202.7 578.2h0.6M168.9 569.8h0.6M181.3 573.3h0.6M206.0 564.6h0.6M170.4 574.5h0.6M216.9 574.2h0.6M181.8 575.5h0.6M191.9 568.1h0.6M201.5 571.9h0.6M168.2 569.1h0.6M173.5 568.3h0.6M173.2 576.8h0.6M168.1 561.4h0.6M197.6 576.1h0.6M219.9 565.7h0.6M168.6 577.9h0.6M177.8 568.1h0.6M171.1 575.2h0.6M168.4 559.0h0.6M191.9 570.9h0.6M181.8 576.8h0.6M164.7 569.0h0.6M165.4 570.6h0.6M173.6 573.1h0.6M184.3 562.2h0.6M178.9 566.9h0.6M184.3 573.3h0.6M177.9 561.4h0.6M237.2 572.5h0.6M177.7 566.4h0.6M205.7 569.4h0.6M169.0 569.0h0.6M178.5 563.9h0.6M169.4 571.3h0.6M166.8 568.2h0.6M170.6 565.5h0.6M192.5 567.0h0.6M165.7 574.2h0.6M194.1 569.1h0.6M209.7 564.7h0.6M171.2 558.5h0.6M170.1 576.6h0.6M169.8 568.6h0.6M228.0 573.5h0.6M174.3 568.9h0.6M182.8 570.0h0.6M161.4 576.4h0.6M223.2 572.0h0.6M180.3 576.0h0.6M182.3 564.1h0.6M177.8 569.0h0.6M164.8 569.0h0.6M168.0 564.1h0.6M199.5 574.7h0.6M197.2 566.9h0.6M160.5 578.9h0.6M204.4 561.8h0.6M178.8 563.9h0.6M165.0 573.5h0.6M165.4 574.7h0.6M171.1 578.8h0.6M175.1 569.1h0.6M170.7 573.4h0.6M191.8 566.9h0.6M200.7 574.8h0.6M178.9 561.6h0.6M183.0 560.2h0.6M174.6 575.3h0.6M247.2 554.8h0.6M177.9 573.2h0.6M283.0 570.1h0.6M182.9 568.3h0.6M183.2 568.3h0.6M255.5 570.7h0.6M213.2 569.0h0.6M177.1 567.5h0.6M176.4 574.3h0.6M192.0 564.7h0.6M188.5 566.3h0.6M165.7 567.7h0.6M198.8 574.2h0.6M168.3 571.8h0.6M166.3 572.4h0.6M180.8 573.0h0.6M175.8 574.4h0.6M189.0 576.7h0.6M168.3 573.5h0.6M166.9 572.1h0.6M301.4 566.8h0.6M200.7 563.4h0.6M164.9 574.3h0.6M165.7 571.7h0.6M168.7 573.1h0.6M231.9 564.1h0.6M169.5 573.9h0.6M178.7 562.3h0.6M173.7 571.2h0.6M187.2 572.0h0.6M174.6 573.4h0.6M178.0 575.4h0.6M178.1 579.7h0.6M210.1 566.5h0.6M190.3 561.9h0.6M228.7 569.5h0.6M201.4 570.7h0.6M189.1 569.5h0.6M160.1 581.9h0.6M177.9 563.3h0.6M206.8 569.5h0.6M191.5 567.6h0.6M198.0 576.0h0.6M174.5 566.0h0.6M209.8 575.7h0.6M202.4 566.2h0.6M170.9 572.3h0.6M201.9 565.4h0.6M171.4 564.0h0.6M174.7 577.5h0.6M168.7 572.1h0.6M179.9 566.8h0.6M183.2 569.5h0.6M177.2 576.7h0.6M187.8 573.3h0.6M178.4 570.2h0.6M180.7 578.8h0.6M182.1 566.0h0.6M209.1 557.7h0.6M196.3 574.2h0.6M184.4 566.5h0.6M172.5 565.7h0.6M175.7 570.8h0.6M186.6 568.9h0.6M179.4 561.3h0.6M220.7 568.6h0.6M163.3 573.3h0.6M177.4 566.1h0.6M187.3 575.2h0.6M172.4 565.5h0.6M198.3 564.2h0.6M221.1 569.4h0.6M176.6 575.8h0.6M219.5 572.4h0.6M180.2 567.8h0.6M202.6 573.8h0.6M176.7 562.8h0.6M178.7 572.6h0.6M172.3 566.2h0.6M196.3 572.5h0.6M165.5 570.5h0.6M194.3 571.0h0.6M168.6 572.4h0.6M200.5 559.7h0.6M186.3 562.5h0.6M171.1 576.8h0.6M182.4 567.5h0.6M179.0 572.0h0.6M173.0 570.1h0.6M173.1 574.4h0.6M178.9 573.3h0.6M234.8 568.9h0.6M172.2 565.8h0.6M172.3 579.5h0.6M232.2 573.0h0.6M175.8 565.6h0.6M180.4 570.5h0.6M164.1 577.5h0.6M187.0 577.1h0.6M166.5 564.8h0.6M191.7 565.7h0.6M172.7 569.7h0.6M176.5 573.8h0.6M183.9 576.9h0.6M177.1 566.2h0.6M182.2 571.6h0.6M192.7 568.2h0.6M188.0 570.8h0.6M182.0 568.1h0.6M192.8 573.3h0.6M172.5 570.6h0.6M183.1 567.5h0.6M174.2 565.2h0.6M202.5 570.1h0.6M189.9 574.9h0.6M164.4 571.5h0.6M198.2 568.2h0.6M167.0 566.3h0.6M223.8 569.0h0.6M205.6 556.4h0.6M231.0 564.6h0.6M175.9 566.2h0.6M177.2 572.5h0.6M172.7 560.9h0.6M209.7 563.6h0.6M163.3 575.8h0.6M183.4 565.6h0.6M224.7 572.6h0.6M181.4 560.2h0.6M179.3 570.0h0.6M178.8 568.9h0.6M199.7 567.5h0.6M236.7 571.2h0.6M191.6 563.3h0.6M160.2 578.9h0.6M184.6 569.7h0.6M166.9 564.4h0.6M198.7 569.6h0.6M170.3 571.2h0.6M179.9 571.6h0.6M254.6 567.8h0.6M177.5 571.8h0.6M179.0 565.3h0.6M166.3 566.4h0.6M195.0 574.3h0.6M174.5 568.3h0.6M164.5 574.2h0.6M171.2 561.8h0.6M164.5 572.1h0.6M172.4 561.3h0.6M199.4 562.8h0.6M165.6 570.3h0.6M176.1 564.0h0.6M164.5 569.8h0.6M178.9 579.8h0.6M171.0 574.5h0.6M213.8 573.7h0.6M178.4 573.6h0.6M168.6 560.8h0.6M223.5 577.1h0.6M178.5 563.2h0.6M188.4 565.9h0.6M176.6 560.0h0.6M208.0 560.1h0.6M177.3 567.6h0.6M170.4 560.4h0.6M186.3 584.6h0.6M169.9 566.1h0.6M173.1 573.4h0.6M169.6 577.8h0.6M181.3 557.7h0.6M167.2 571.6h0.6M255.2 568.2h0.6M196.9 574.4h0.6M180.8 565.8h0.6M226.9 572.8h0.6M188.1 570.7h0.6M192.6 569.4h0.6M240.3 562.8h0.6M202.9 557.0h0.6M221.6 564.1h0.6M182.7 557.2h0.6M183.0 570.1h0.6M185.1 576.5h0.6M189.4 567.9h0.6M184.9 562.6h0.6M180.9 575.2h0.6M222.6 573.2h0.6M178.7 568.0h0.6M174.2 564.5h0.6M178.4 569.6h0.6M167.1 572.0h0.6M173.7 568.1h0.6M166.1 573.0h0.6M174.7 568.8h0.6M167.8 575.3h0.6M196.3 570.3h0.6M218.2 566.8h0.6M177.5 572.7h0.6M206.1 569.6h0.6M228.7 576.2h0.6M237.0 563.7h0.6M164.6 569.8h0.6M188.7 567.2h0.6M167.1 567.9h0.6M177.8 563.1h0.6M198.7 575.4h0.6M199.5 567.7h0.6M195.3 564.2h0.6M172.8 579.4h0.6M187.6 566.7h0.6M204.7 573.5h0.6M195.4 574.9h0.6M200.5 573.0h0.6M165.7 588.2h0.6M206.1 571.8h0.6M197.3 572.8h0.6M165.5 575.8h0.6M163.9 573.7h0.6M169.8 569.7h0.6M165.9 566.4h0.6M198.2 569.3h0.6M190.3 567.9h0.6M175.5 569.6h0.6M178.3 567.2h0.6M178.2 566.1h0.6M166.4 571.5h0.6M163.1 577.2h0.6M171.8 567.1h0.6M191.0 574.5h0.6M167.1 563.8h0.6M199.0 565.7h0.6M218.9 559.4h0.6M166.3 569.9h0.6M198.0 568.2h0.6M168.3 568.1h0.6M227.7 567.4h0.6M202.8 563.1h0.6M163.8 576.7h0.6M180.4 571.6h0.6M167.0 573.8h0.6M180.4 571.2h0.6M194.6 559.9h0.6M169.3 564.5h0.6M163.3 574.5h0.6M219.0 568.5h0.6M206.6 562.9h0.6M170.1 572.9h0.6M202.9 571.4h0.6M170.5 564.8h0.6M184.6 577.2h0.6M224.7 569.1h0.6M172.9 575.4h0.6M196.9 578.1h0.6M162.4 576.7h0.6M184.2 558.6h0.6M178.1 574.6h0.6M165.5 579.9h0.6M172.5 558.0h0.6M188.1 569.5h0.6M201.0 562.4h0.6M187.5 566.7h0.6M182.6 572.9h0.6M170.4 567.7h0.6M165.3 580.3h0.6M192.6 567.6h0.6M198.6 559.8h0.6M196.9 567.1h0.6M183.6 566.8h0.6M165.0 571.1h0.6M174.6 577.6h0.6M168.2 563.2h0.6M169.8 572.0h0.6M177.0 565.9h0.6M192.1 564.7h0.6M168.1 564.9h0.6M179.4 570.6h0.6M211.4 570.0h0.6M182.8 564.3h0.6M220.1 566.6h0.6M205.6 564.8h0.6M173.8 571.7h0.6M167.8 565.1h0.6M170.2 566.8h0.6M172.2 563.2h0.6M170.1 569.2h0.6M198.0 567.7h0.6M215.6 564.7h0.6M179.9 568.2h0.6M163.4 575.7h0.6M272.2 573.6h0.6M191.6 575.8h0.6M178.4 574.7h0.6M162.7 574.5h0.6M182.2 573.1h0.6M187.2 559.2h0.6M209.3 565.4h0.6M190.1 561.7h0.6M171.2 573.6h0.6M167.1 578.5h0.6M192.5 569.1h0.6M186.9 563.9h0.6M169.2 569.9h0.6M168.9 577.1h0.6M196.1 571.7h0.6M181.9 558.5h0.6M195.3 566.2h0.6M189.4 568.2h0.6M165.0 576.5h0.6M175.9 565.4h0.6M168.9 561.7h0.6M182.3 564.1h0.6M199.5 564.5h0.6M182.0 570.7h0.6M167.3 566.1h0.6M182.8 568.3h0.6M193.8 574.2h0.6M194.0 561.7h0.6M167.0 570.7h0.6M180.4 566.4h0.6M215.5 575.6h0.6M168.6 566.6h0.6M167.1 570.4h0.6M166.3 572.2h0.6M225.6 567.9h0.6M178.9 569.6h0.6M181.1 570.9h0.6M173.0 562.6h0.6M171.8 562.6h0.6M171.8 573.2h0.6M179.1 569.8h0.6M187.4 564.7h0.6M252.9 566.0h0.6M183.6 577.3h0.6M197.4 565.8h0.6M177.6 554.9h0.6M162.1 576.3h0.6M165.4 568.3h0.6M204.5 558.9h0.6M183.5 569.7h0.6M183.0 555.9h0.6M228.0 567.5h0.6M173.3 566.8h0.6M176.4 575.0h0.6M169.8 576.6h0.6M202.1 572.6h0.6M231.2 565.8h0.6M181.4 563.3h0.6M173.9 569.6h0.6M173.0 576.6h0.6M192.0 567.2h0.6M178.8 559.5h0.6M177.5 570.5h0.6M199.2 564.5h0.6M178.7 563.6h0.6M207.2 567.8h0.6M172.1 573.4h0.6M186.4 573.1h0.6M224.8 570.0h0.6M172.3 568.1h0.6M220.8 567.7h0.6M176.6 566.4h0.6M213.6 570.8h0.6M177.4 563.5h0.6M146.7 550.5h0.6M174.2 551.3h0.6M167.6 551.4h0.6M157.5 543.6h0.6M150.9 546.5h0.6M163.8 539.7h0.6M166.0 549.8h0.6M163.1 543.7h0.6M155.1 539.5h0.6M164.6 547.1h0.6M154.1 546.9h0.6M162.3 544.4h0.6M171.8 539.8h0.6M156.0 538.1h0.6M178.7 547.9h0.6M148.1 547.6h0.6M147.3 547.6h0.6M161.7 547.7h0.6M162.6 539.3h0.6M154.8 545.5h0.6M154.0 540.2h0.6M157.7 545.2h0.6M156.2 536.0h0.6M165.5 550.5h0.6M147.9 550.9h0.6M164.2 538.1h0.6M171.1 551.6h0.6M166.1 549.0h0.6M150.1 539.0h0.6M164.0 547.0h0.6M147.9 547.6h0.6M174.4 550.9h0.6M157.5 544.0h0.6M155.8 540.8h0.6M149.2 544.2h0.6M165.0 547.0h0.6M146.4 545.7h0.6M148.5 547.7h0.6M168.2 546.0h0.6M162.4 547.1h0.6M166.2 551.5h0.6M150.8 541.1h0.6M164.5 550.0h0.6M162.2 546.0h0.6M144.9 551.2h0.6M165.0 548.0h0.6M176.0 551.0h0.6M169.4 546.5h0.6M161.9 546.6h0.6M165.4 546.0h0.6M162.7 546.8h0.6M163.5 549.2h0.6M163.8 546.1h0.6M155.2 537.4h0.6M167.4 550.4h0.6M145.4 548.6h0.6M150.1 542.9h0.6M148.7 549.3h0.6M148.4 546.5h0.6M150.5 537.3h0.6M170.9 544.9h0.6M155.5 546.5h0.6M151.2 550.4h0.6M170.9 548.5h0.6M161.5 546.8h0.6M146.7 550.4h0.6M168.7 548.9h0.6M153.2 549.0h0.6M168.2 551.2h0.6M172.1 542.6h0.6M152.3 543.7h0.6M151.5 550.6h0.6M163.6 542.1h0.6M165.6 548.0h0.6M144.1 543.4h0.6M161.6 547.1h0.6M162.3 545.0h0.6M164.6 547.8h0.6M156.1 544.3h0.6M151.7 537.2h0.6M164.2 544.7h0.6M155.5 542.3h0.6M168.3 540.9h0.6M173.8 541.6h0.6M169.7 552.0h0.6M156.4 544.8h0.6M156.5 547.0h0.6M162.7 540.8h0.6M166.1 550.7h0.6M148.1 540.1h0.6M154.1 540.8h0.6M161.8 533.1h0.6M161.0 535.5h0.6M152.6 543.5h0.6M147.4 537.6h0.6M162.6 549.2h0.6M169.6 546.9h0.6M156.6 535.0h0.6M168.9 551.5h0.6M152.9 546.1h0.6M153.0 546.6h0.6M150.3 551.3h0.6M149.1 549.6h0.6M144.3 549.8h0.6M146.6 541.3h0.6M147.6 550.9h0.6M167.8 550.6h0.6M164.7 540.3h0.6M147.1 548.3h0.6M152.1 535.2h0.6M158.5 546.9h0.6M168.8 545.3h0.6M160.7 540.8h0.6M170.4 551.6h0.6M144.8 550.7h0.6M151.6 544.1h0.6M168.7 543.2h0.6M150.0 549.4h0.6M161.0 547.5h0.6M153.5 548.1h0.6M171.3 544.4h0.6M153.5 546.4h0.6M152.6 549.0h0.6M162.2 541.4h0.6M167.4 543.9h0.6M157.1 547.6h0.6M161.8 548.6h0.6M150.4 543.1h0.6M147.1 551.1h0.6M175.3 547.4h0.6M152.3 545.9h0.6M158.8 545.6h0.6M172.1 541.2h0.6M155.3 540.3h0.6M156.9 544.2h0.6M155.0 546.2h0.6M157.5 545.9h0.6M163.8 549.0h0.6M153.6 546.8h0.6M175.4 543.5h0.6M161.7 544.0h0.6M149.4 537.5h0.6M143.5 550.6h0.6M170.6 543.1h0.6M161.5 548.0h0.6M161.3 547.4h0.6M169.2 551.4h0.6M136.3 543.8h0.6M165.9 543.1h0.6M166.7 537.9h0.6M164.6 549.5h0.6M143.2 549.1h0.6M140.5 547.8h0.6M171.1 551.7h0.6M168.8 545.0h0.6M167.2 546.8h0.6M157.8 540.3h0.6M158.3 541.4h0.6M167.9 545.0h0.6M133.5 547.7h0.6M158.6 538.7h0.6M148.8 547.2h0.6M155.8 538.8h0.6M157.8 540.6h0.6M159.3 545.8h0.6M164.3 544.7h0.6M172.9 544.5h0.6M160.7 547.2h0.6M155.0 540.9h0.6M157.9 535.1h0.6M154.6 537.4h0.6M163.6 544.0h0.6M156.4 546.4h0.6M167.8 548.7h0.6M137.6 550.8h0.6M152.6 548.8h0.6M159.2 546.7h0.6M152.1 546.9h0.6M172.4 546.5h0.6M163.5 542.4h0.6M153.0 544.8h0.6M149.5 551.0h0.6M151.6 545.7h0.6M161.1 543.2h0.6M149.4 541.6h0.6M140.3 547.4h0.6M161.9 547.9h0.6M166.0 544.9h0.6M151.0 548.6h0.6M152.5 547.5h0.6M154.6 545.9h0.6M160.7 540.2h0.6M162.4 544.0h0.6M138.9 539.6h0.6M156.6 538.3h0.6M153.1 547.2h0.6M166.7 544.3h0.6M157.2 539.9h0.6M166.7 544.3h0.6M150.9 547.7h0.6M143.7 543.9h0.6M149.2 544.9h0.6M167.2 551.4h0.6M151.7 540.3h0.6M163.3 547.1h0.6M161.1 543.7h0.6M179.6 549.4h0.6M173.9 543.5h0.6M147.9 539.0h0.6M149.9 551.3h0.6M149.3 537.7h0.6M155.9 543.4h0.6M170.9 550.6h0.6M170.4 543.7h0.6M150.6 547.5h0.6M170.8 546.1h0.6M149.5 543.5h0.6M136.7 550.1h0.6M168.8 548.7h0.6M151.2 545.6h0.6M154.4 545.9h0.6M144.3 541.7h0.6M174.7 549.5h0.6M162.5 545.0h0.6M152.5 543.3h0.6M163.5 549.6h0.6M173.6 550.3h0.6M168.1 542.6h0.6M174.2 542.3h0.6M203.3 553.7h0.6M172.8 552.5h0.6M180.2 555.1h0.6M173.8 554.0h0.6M172.8 555.3h0.6M200.5 552.9h0.6M182.9 547.2h0.6M170.5 548.2h0.6M179.7 556.8h0.6M170.1 552.2h0.6M173.6 553.9h0.6M170.7 551.0h0.6M171.6 554.5h0.6M173.7 555.4h0.6M185.1 549.1h0.6M179.3 537.1h0.6M207.7 555.4h0.6M189.0 542.6h0.6M184.6 551.9h0.6M171.8 547.9h0.6M171.6 553.6h0.6M180.0 552.8h0.6M196.8 553.6h0.6M184.6 552.5h0.6M172.1 552.9h0.6M174.8 555.3h0.6M197.7 546.9h0.6M188.7 549.6h0.6M180.1 551.2h0.6M192.8 555.6h0.6M179.2 549.0h0.6M177.1 551.7h0.6M178.8 548.9h0.6M187.5 557.1h0.6M182.0 551.7h0.6M170.3 545.3h0.6M174.4 553.0h0.6M181.1 554.4h0.6M179.7 550.9h0.6M177.4 549.0h0.6M172.4 551.6h0.6M171.2 553.4h0.6M176.0 553.6h0.6M176.6 552.3h0.6M177.7 557.8h0.6M201.2 556.0h0.6M196.9 554.0h0.6M177.7 551.6h0.6M172.3 553.0h0.6M174.2 540.0h0.6M180.0 536.9h0.6M178.7 557.3h0.6M180.0 553.0h0.6M174.4 545.4h0.6M174.1 551.4h0.6M204.6 546.4h0.6M177.5 549.8h0.6M189.0 556.1h0.6M176.7 555.5h0.6M175.7 544.3h0.6M214.5 555.3h0.6M201.6 547.9h0.6M183.6 545.3h0.6M178.5 554.0h0.6M173.3 550.8h0.6M172.4 551.3h0.6M172.5 557.9h0.6M176.3 554.8h0.6M174.7 551.4h0.6M182.3 555.9h0.6M181.6 551.9h0.6M187.1 542.9h0.6M195.1 551.9h0.6M172.9 554.3h0.6M170.7 550.7h0.6M207.3 550.6h0.6M196.4 549.5h0.6M179.0 542.4h0.6M175.6 550.7h0.6M173.6 550.6h0.6M209.1 555.3h0.6M180.2 556.5h0.6M188.5 550.9h0.6M179.7 555.6h0.6M194.9 555.5h0.6M183.0 548.4h0.6M175.7 556.9h0.6M172.7 558.0h0.6M174.6 554.7h0.6M171.3 555.6h0.6M190.7 552.1h0.6M172.5 549.9h0.6M171.0 556.6h0.6M172.2 552.2h0.6M178.8 554.5h0.6M183.6 556.1h0.6M171.2 554.5h0.6M172.7 551.3h0.6M173.9 554.0h0.6M171.6 552.5h0.6M172.9 555.6h0.6M170.8 555.3h0.6M179.3 554.7h0.6M170.4 553.5h0.6M173.5 551.0h0.6M175.0 554.0h0.6M175.6 557.4h0.6M174.2 556.2h0.6M172.5 557.7h0.6M174.0 552.8h0.6M174.7 544.6h0.6M185.8 557.9h0.6M171.7 551.0h0.6M171.3 554.7h0.6M175.1 554.3h0.6M182.5 557.7h0.6M177.1 554.4h0.6M175.4 556.1h0.6M177.1 554.9h0.6M171.4 546.2h0.6" stroke="#000" stroke-width="0.6" fill="none" clip-path="url(#d2)"/>
<path d="M144.6 567.5C144.9 565.2 147.2 563.5 148.1 561.0C149.0 558.5 149.1 554.7 150.1 552.5C151.1 550.3 152.5 548.9 154.1 548.0C155.7 547.1 157.8 546.9 159.6 547.3C161.3 547.7 163.0 549.0 164.6 550.5C166.2 552.0 168.9 553.8 169.1 556.5C169.3 559.2 167.0 563.7 165.6 567.0C164.2 570.3 162.3 573.8 160.9 576.5C159.5 579.2 158.6 582.3 156.9 583.0C155.2 583.7 152.4 581.9 150.6 580.5C148.8 579.1 147.1 576.7 146.1 574.5C145.1 572.3 144.3 569.8 144.6 567.5Z" fill="#000"/>
<path d="M142.0 510.2H172.8V552.2L142.0 565.6Z" fill="none" stroke="#000" stroke-width="1.3"/>
<path d="M174.2 556.4H222.6V584.3H157.6Z" fill="none" stroke="#000" stroke-width="1.3"/>
<text x="54.6" y="524.4" font-size="13.8" font-weight="bold" text-anchor="start" >0.2</text>
<text x="107" y="552" font-size="13.8" font-weight="bold" text-anchor="start" >7.0</text>
<text x="147.8" y="524.4" font-size="13.8" font-weight="bold" text-anchor="start" >3.2</text>
<text x="200.8" y="552" font-size="13.8" font-weight="bold" text-anchor="start" >2.9</text>
<text transform="translate(32.8,553) rotate(-90)" font-size="14.5" font-weight="bold" text-anchor="middle">IL-4</text>
<path d="M29 586V606H90" fill="none" stroke="#000" stroke-width="1.5"/>
<path d="M29 572.9L24.4 587.2H33.6Z M103.7 606L88.9 601.4V610.6Z" fill="#000"/>
<text x="119" y="611" font-size="14.6" font-weight="bold" text-anchor="start" >IFN-<tspan font-weight="normal" font-family="Liberation Serif, serif" font-size="14">γ</tspan></text>
<rect x="30.5" y="632.5" width="94.0" height="61.25" fill="none" stroke="#000" stroke-width="1.5"/>
<line x1="30.5" y1="693.75" x2="30.5" y2="699.75" stroke="#000" stroke-width="1.6" stroke-linecap="butt"/>
<text x="30.5" y="712.6" font-size="12" font-weight="bold" text-anchor="middle" >8</text>
<line x1="54.0" y1="693.75" x2="54.0" y2="699.75" stroke="#000" stroke-width="1.6" stroke-linecap="butt"/>
<text x="54.0" y="712.6" font-size="12" font-weight="bold" text-anchor="middle" >6</text>
<line x1="77.5" y1="693.75" x2="77.5" y2="699.75" stroke="#000" stroke-width="1.6" stroke-linecap="butt"/>
<text x="77.5" y="712.6" font-size="12" font-weight="bold" text-anchor="middle" >4</text>
<line x1="101.0" y1="693.75" x2="101.0" y2="699.75" stroke="#000" stroke-width="1.6" stroke-linecap="butt"/>
<text x="101.0" y="712.6" font-size="12" font-weight="bold" text-anchor="middle" >2</text>
<line x1="124.5" y1="693.75" x2="124.5" y2="699.75" stroke="#000" stroke-width="1.6" stroke-linecap="butt"/>
<text x="124.5" y="712.6" font-size="12" font-weight="bold" text-anchor="middle" >0</text>
<rect x="120" y="645" width="4.5" height="17.5" fill="#fff" stroke="#000" stroke-width="1.5"/>
<rect x="56.25" y="662.5" width="68.25" height="18.75" fill="#000" stroke="#000" stroke-width="0"/>
<line x1="42" y1="671.2" x2="56.25" y2="671.2" stroke="#000" stroke-width="1.9" stroke-linecap="butt"/>
<line x1="42.4" y1="667.3" x2="42.4" y2="674.9" stroke="#000" stroke-width="1.9" stroke-linecap="butt"/>
<text x="79.3" y="731.3" font-size="14.4" font-weight="bold" text-anchor="middle" >IL-4 (ng/mL)</text>
<rect x="138.75" y="632.5" width="87.5" height="61.25" fill="none" stroke="#000" stroke-width="1.5"/>
<line x1="138.75" y1="693.75" x2="138.75" y2="699.75" stroke="#000" stroke-width="1.6" stroke-linecap="butt"/>
<text x="138.75" y="712.6" font-size="12" font-weight="bold" text-anchor="middle" >0</text>
<line x1="160.625" y1="693.75" x2="160.625" y2="699.75" stroke="#000" stroke-width="1.6" stroke-linecap="butt"/>
<text x="160.625" y="712.6" font-size="12" font-weight="bold" text-anchor="middle" >20</text>
<line x1="182.5" y1="693.75" x2="182.5" y2="699.75" stroke="#000" stroke-width="1.6" stroke-linecap="butt"/>
<text x="182.5" y="712.6" font-size="12" font-weight="bold" text-anchor="middle" >40</text>
<line x1="204.375" y1="693.75" x2="204.375" y2="699.75" stroke="#000" stroke-width="1.6" stroke-linecap="butt"/>
<text x="204.375" y="712.6" font-size="12" font-weight="bold" text-anchor="middle" >60</text>
<line x1="226.25" y1="693.75" x2="226.25" y2="699.75" stroke="#000" stroke-width="1.6" stroke-linecap="butt"/>
<text x="226.25" y="712.6" font-size="12" font-weight="bold" text-anchor="middle" >80</text>
<rect x="138.75" y="645" width="75.0" height="18" fill="#fff" stroke="#000" stroke-width="1.5"/>
<line x1="213.75" y1="653.5" x2="216.75" y2="653.5" stroke="#000" stroke-width="1.5" stroke-linecap="butt"/>
<line x1="216.75" y1="650.7" x2="216.75" y2="656.3" stroke="#000" stroke-width="1.5" stroke-linecap="butt"/>
<rect x="138.75" y="663" width="32.5" height="17.75" fill="#000" stroke="#000" stroke-width="0"/>
<line x1="171.25" y1="671.2" x2="173" y2="671.2" stroke="#000" stroke-width="1.5" stroke-linecap="butt"/>
<line x1="173" y1="668" x2="173" y2="674.5" stroke="#000" stroke-width="1.5" stroke-linecap="butt"/>
<text x="187.3" y="731.3" font-size="14.4" font-weight="bold" text-anchor="middle" >IFN-<tspan font-weight="normal" font-family="Liberation Serif, serif" font-size="14">γ</tspan> (ng/mL)</text>
<text x="268.1" y="461.5" font-size="29" font-weight="bold" text-anchor="start" class="n">E</text>
<text x="321.6" y="464.4" font-size="14.2" font-weight="bold" text-anchor="start" textLength="137.4" lengthAdjust="spacing">IL-12p40 production</text>
<path d="M347 485H458.2V673.5H347Z" fill="none" stroke="#000" stroke-width="1.5"/>
<line x1="340.5" y1="485.0" x2="347" y2="485.0" stroke="#000" stroke-width="1.5" stroke-linecap="butt"/>
<text x="337.6" y="489.5" font-size="12.8" font-weight="bold" text-anchor="end" >400</text>
<line x1="340.5" y1="532.125" x2="347" y2="532.125" stroke="#000" stroke-width="1.5" stroke-linecap="butt"/>
<text x="337.6" y="536.625" font-size="12.8" font-weight="bold" text-anchor="end" >300</text>
<line x1="340.5" y1="579.25" x2="347" y2="579.25" stroke="#000" stroke-width="1.5" stroke-linecap="butt"/>
<text x="337.6" y="583.75" font-size="12.8" font-weight="bold" text-anchor="end" >200</text>
<line x1="340.5" y1="626.375" x2="347" y2="626.375" stroke="#000" stroke-width="1.5" stroke-linecap="butt"/>
<text x="337.6" y="630.875" font-size="12.8" font-weight="bold" text-anchor="end" >100</text>
<line x1="340.5" y1="673.5" x2="347" y2="673.5" stroke="#000" stroke-width="1.5" stroke-linecap="butt"/>
<text x="337.6" y="678.0" font-size="12.8" font-weight="bold" text-anchor="end" >0</text>
<text transform="translate(307.2,575.4) rotate(-90)" font-size="14.7" font-weight="bold" text-anchor="middle">IL-12p40(pg/mL)</text>
<rect x="358.8" y="663" width="15.4" height="10.5" fill="#fff" stroke="#000" stroke-width="1.5"/>
<rect x="374.2" y="658.8" width="16.6" height="14.7" fill="#000" stroke="#000" stroke-width="0"/>
<rect x="413.3" y="588.6" width="16" height="84.9" fill="#fff" stroke="#000" stroke-width="1.5"/>
<rect x="429.3" y="545.4" width="17.4" height="128.1" fill="#000" stroke="#000" stroke-width="0"/>
<line x1="437.6" y1="542.7" x2="437.6" y2="545.4" stroke="#000" stroke-width="1.5" stroke-linecap="butt"/>
<line x1="433.7" y1="542.7" x2="441.3" y2="542.7" stroke="#000" stroke-width="1.5" stroke-linecap="butt"/>
<text x="274.6" y="692.6" font-size="14.5" font-weight="normal" text-anchor="start" class="n">OVA peptide</text>
<text x="375.5" y="692.6" font-size="14.4" font-weight="bold" text-anchor="middle" >(-)</text>
<text x="429" y="692.6" font-size="14.4" font-weight="bold" text-anchor="middle" >(+)</text>
</svg>
</body></html>
